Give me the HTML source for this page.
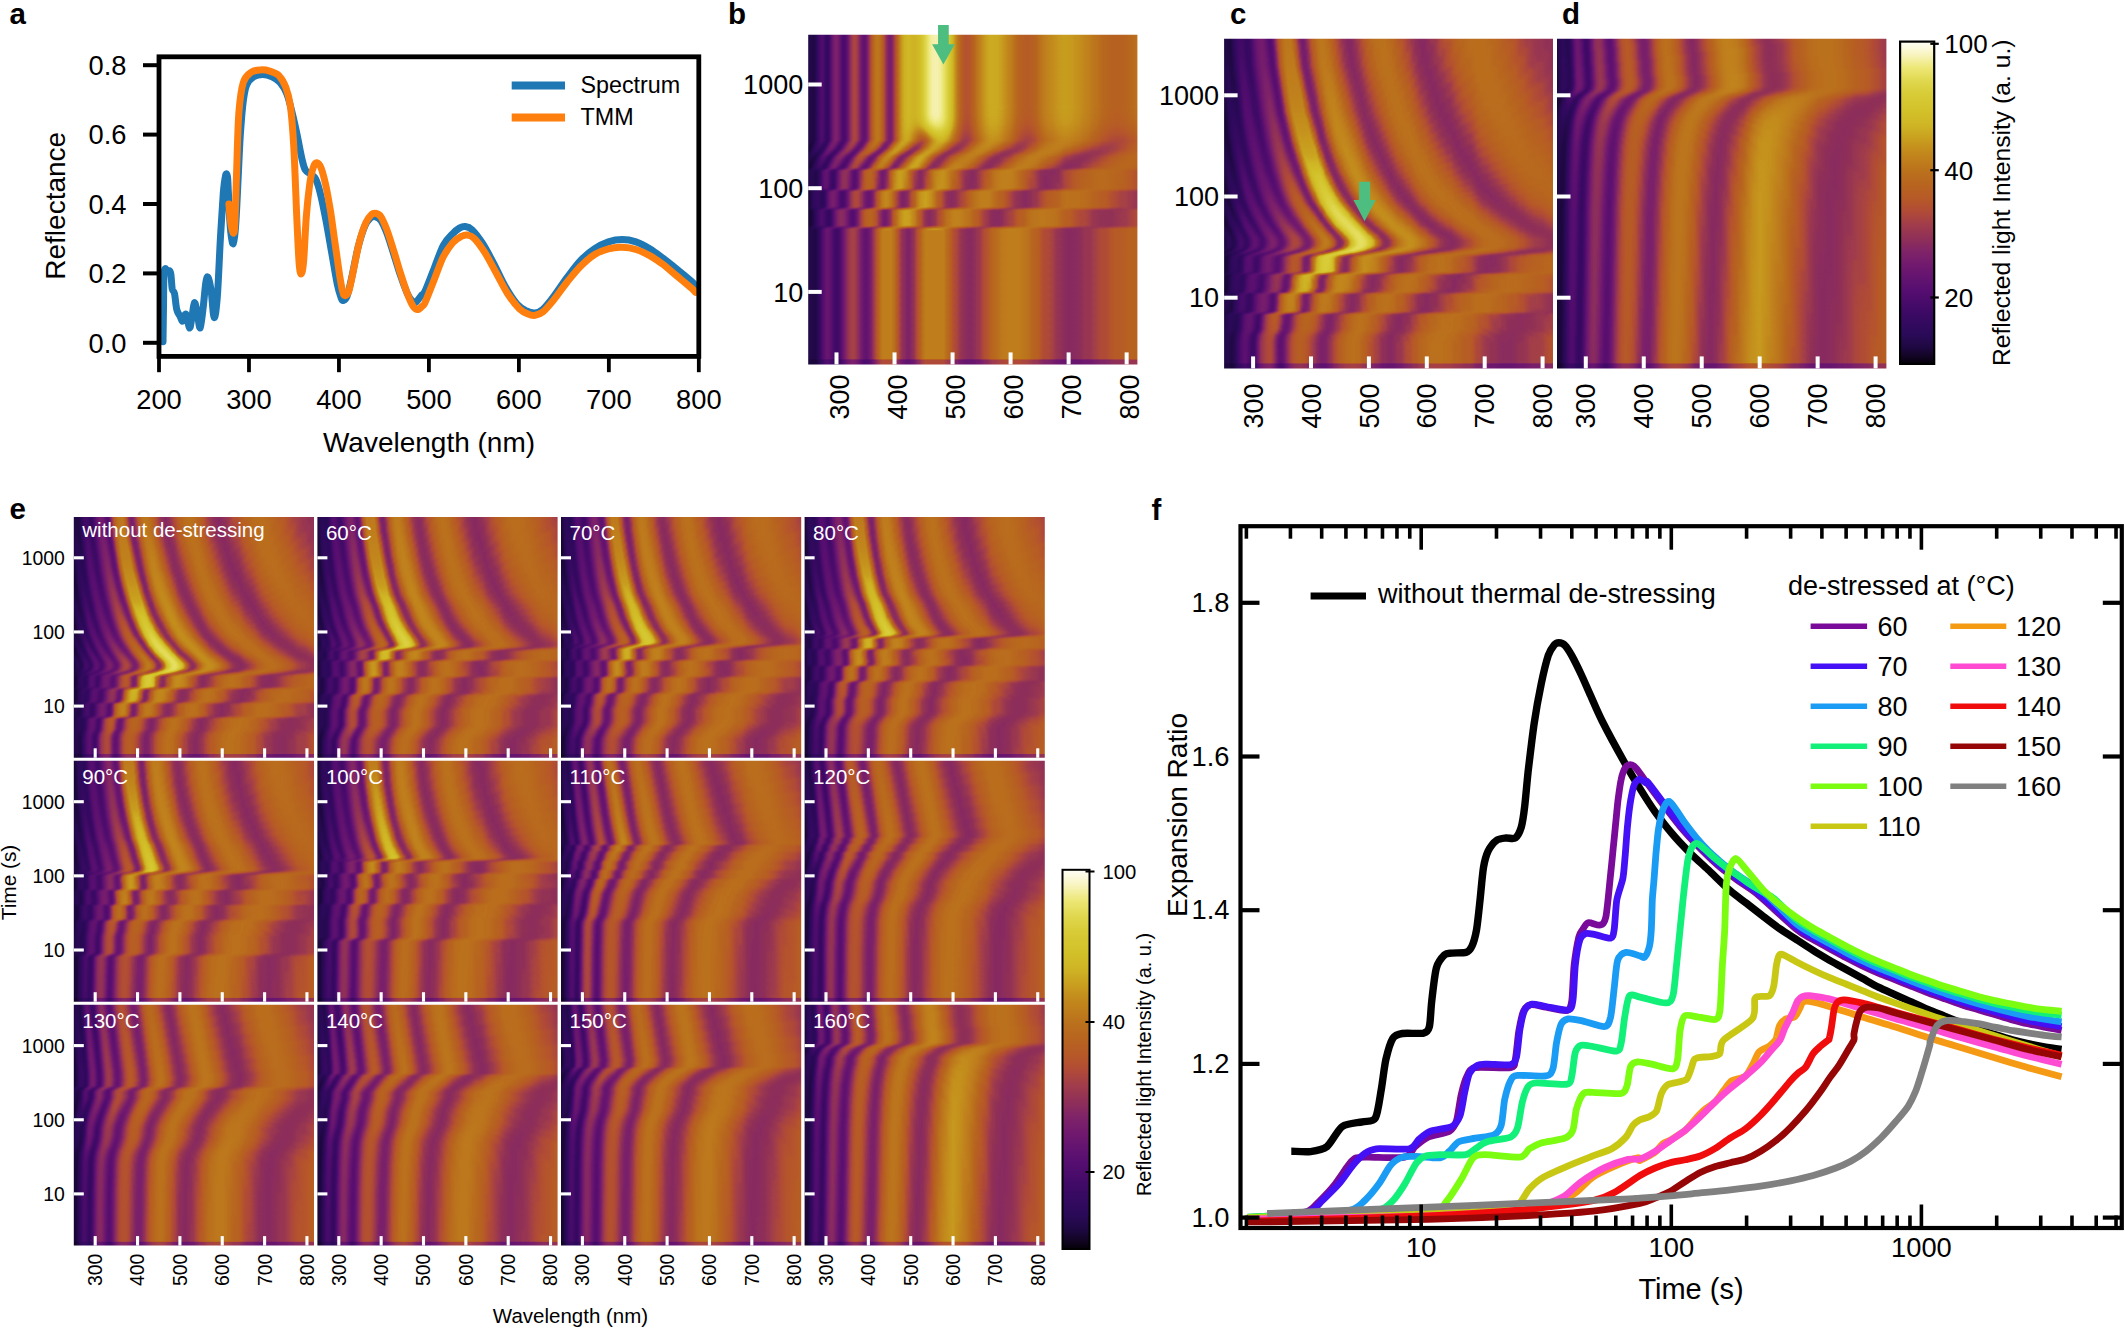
<!DOCTYPE html><html><head><meta charset="utf-8"><title>Figure</title><style>html,body{margin:0;padding:0;background:#fff}svg{display:block}</style></head><body><svg width="2125" height="1330" viewBox="0 0 2125 1330" font-family='"Liberation Sans", Arial, Helvetica, sans-serif'><defs><filter id="cmap" color-interpolation-filters="sRGB" x="0" y="0" width="1" height="1"><feComponentTransfer><feFuncR type="table" tableValues="0.016 0.057 0.085 0.112 0.132 0.151 0.168 0.184 0.199 0.216 0.235 0.254 0.278 0.302 0.323 0.343 0.365 0.386 0.408 0.429 0.45 0.472 0.493 0.517 0.541 0.566 0.59 0.615 0.639 0.664 0.688 0.699 0.708 0.715 0.717 0.719 0.722 0.727 0.732 0.739 0.747 0.754 0.762 0.771 0.78 0.79 0.799 0.808 0.815 0.819 0.824 0.83 0.836 0.842 0.85 0.862 0.875 0.892 0.912 0.931 0.948 0.965 0.979 0.989 1"/><feFuncG type="table" tableValues="0.004 0.014 0.022 0.03 0.034 0.037 0.039 0.039 0.039 0.039 0.039 0.04 0.044 0.048 0.052 0.057 0.067 0.076 0.085 0.094 0.104 0.12 0.135 0.152 0.171 0.189 0.207 0.226 0.246 0.267 0.288 0.31 0.331 0.351 0.368 0.384 0.401 0.421 0.442 0.462 0.483 0.508 0.532 0.564 0.599 0.634 0.666 0.698 0.721 0.737 0.754 0.766 0.778 0.791 0.804 0.823 0.841 0.864 0.888 0.912 0.93 0.949 0.966 0.983 1"/><feFuncB type="table" tableValues="0.031 0.113 0.177 0.239 0.28 0.317 0.348 0.36 0.373 0.383 0.392 0.401 0.414 0.425 0.433 0.439 0.439 0.439 0.437 0.434 0.43 0.421 0.412 0.393 0.369 0.344 0.326 0.308 0.283 0.253 0.222 0.197 0.173 0.153 0.142 0.132 0.121 0.116 0.111 0.11 0.11 0.11 0.11 0.113 0.118 0.123 0.133 0.142 0.148 0.153 0.158 0.175 0.191 0.207 0.228 0.265 0.302 0.355 0.417 0.484 0.594 0.704 0.801 0.887 0.973"/></feComponentTransfer></filter><filter id="bl9" x="-0.5" y="-0.3" width="2" height="1.6"><feGaussianBlur stdDeviation="9"/></filter><filter id="bl14" x="-0.3" y="-0.3" width="1.6" height="1.6"><feGaussianBlur stdDeviation="14"/></filter><linearGradient id="gxb" gradientUnits="userSpaceOnUse" x1="808.2" x2="1137.4" y1="0" y2="0"><stop offset="0" stop-color="#000000"/><stop offset="0.0313" stop-color="#111111"/><stop offset="0.0625" stop-color="#202020"/><stop offset="0.0937" stop-color="#2d2d2d"/><stop offset="0.125" stop-color="#383838"/><stop offset="0.1562" stop-color="#434343"/><stop offset="0.1875" stop-color="#4c4c4c"/><stop offset="0.2188" stop-color="#545454"/><stop offset="0.25" stop-color="#5c5c5c"/><stop offset="0.2812" stop-color="#636363"/><stop offset="0.3125" stop-color="#696969"/><stop offset="0.3438" stop-color="#6f6f6f"/><stop offset="0.375" stop-color="#757575"/><stop offset="0.4062" stop-color="#7a7a7a"/><stop offset="0.4375" stop-color="#7f7f7f"/><stop offset="0.4687" stop-color="#838383"/><stop offset="0.5" stop-color="#878787"/><stop offset="0.5313" stop-color="#8b8b8b"/><stop offset="0.5625" stop-color="#8f8f8f"/><stop offset="0.5938" stop-color="#929292"/><stop offset="0.625" stop-color="#959595"/><stop offset="0.6563" stop-color="#989898"/><stop offset="0.6875" stop-color="#9b9b9b"/><stop offset="0.7187" stop-color="#9e9e9e"/><stop offset="0.75" stop-color="#a0a0a0"/><stop offset="0.7812" stop-color="#a3a3a3"/><stop offset="0.8125" stop-color="#a5a5a5"/><stop offset="0.8438" stop-color="#a7a7a7"/><stop offset="0.875" stop-color="#a9a9a9"/><stop offset="0.9063" stop-color="#ababab"/><stop offset="0.9375" stop-color="#adadad"/><stop offset="0.9688" stop-color="#afafaf"/><stop offset="1" stop-color="#b1b1b1"/></linearGradient><linearGradient id="gyb" gradientUnits="userSpaceOnUse" x1="0" x2="0" y1="34.8" y2="364.4"><stop offset="0" stop-color="#fff" stop-opacity="0.002"/><stop offset="0.3208" stop-color="#fff" stop-opacity="0.0022"/><stop offset="0.3459" stop-color="#fff" stop-opacity="0.031"/><stop offset="0.3709" stop-color="#fff" stop-opacity="0.0778"/><stop offset="0.405" stop-color="#fff" stop-opacity="0.1111"/><stop offset="0.4058" stop-color="#fff" stop-opacity="0.1131"/><stop offset="0.4103" stop-color="#fff" stop-opacity="0.152"/><stop offset="0.468" stop-color="#fff" stop-opacity="0.1554"/><stop offset="0.4688" stop-color="#fff" stop-opacity="0.1575"/><stop offset="0.4733" stop-color="#fff" stop-opacity="0.2059"/><stop offset="0.5249" stop-color="#fff" stop-opacity="0.2059"/><stop offset="0.5256" stop-color="#fff" stop-opacity="0.2116"/><stop offset="0.5294" stop-color="#fff" stop-opacity="0.2603"/><stop offset="0.5302" stop-color="#fff" stop-opacity="0.2665"/><stop offset="0.5818" stop-color="#fff" stop-opacity="0.2665"/><stop offset="0.5863" stop-color="#fff" stop-opacity="0.3241"/><stop offset="0.5871" stop-color="#fff" stop-opacity="0.327"/><stop offset="0.9997" stop-color="#fff" stop-opacity="0.327"/></linearGradient><filter id="frb" color-interpolation-filters="sRGB" x="0" y="0" width="1" height="1"><feComponentTransfer><feFuncR type="table" tableValues="0.997 0.967 0.904 0.81 0.688 0.545 0.389 0.236 0.107 0.022 0.001 0.048 0.152 0.293 0.449 0.602 0.738 0.849 0.932 0.982 1 0.984 0.935 0.854 0.744 0.609 0.457 0.301 0.159 0.052 0.002 0.02 0.101 0.229 0.381 0.537 0.681 0.804 0.9 0.965 0.996 0.995 0.96 0.893 0.795 0.67 0.524 0.368 0.217 0.092 0.016 0.004 0.059 0.17 0.314 0.47 0.621 0.754 0.862 0.94 0.987 1 0.979 0.926 0.841 0.727 0.589 0.436 0.281 0.142 0.042 0 0.027 0.116 0.249 0.402 0.557 0.699 0.819 0.91 0.971 0.998 0.992 0.953 0.881 0.78 0.651 0.503 0.347 0.198 0.079 0.01 0.007 0.071 0.188 0.335 0.491 0.64 0.77 0.875 0.949 0.99 0.999 0.974 0.916 0.827 0.71 0.569 0.415 0.26 0.125 0.032 0 0.036 0.132 0.269 0.424 0.578 0.717 0.833 0.92 0.976 0.999 0.989 0.945 0.869 0.764 0.632 0.482 0.326 0.18 0.066 0.006 0.012 0.084 0.206 0.356 0.512 0.659 0.786 0.886 0.956 0.994 0.998 0.968 0.906 0.813 0.692 0.549 0.394 0.241 0.11 0.024 0.001 0.046 0.149 0.289 0.445 0.597 0.734 0.847 0.93 0.981 1 0.985 0.937 0.857 0.747 0.613 0.461 0.305 0.162 0.054 0.003 0.018 0.098 0.225 0.377 0.533 0.678 0.801 0.898 0.963 0.996 0.996 0.962 0.895 0.798 0.674 0.528 0.372 0.221 0.095 0.017 0.003 0.057 0.166 0.31 0.466 0.617 0.751 0.86 0.939 0.986 1 0.98 0.928 0.844 0.731 0.593 0.44 0.285 0.145 0.044 0.001 0.026 0.113 0.245 0.398 0.553 0.696 0.816 0.908 0.969 0.998 0.993 0.955 0.884 0.783 0.655 0.508 0.351 0.202 0.081 0.011 0.006 0.069 0.184 0.33 0.487 0.636 0.767 0.872 0.947 0.99 0.999 0.975 0.918 0.83 0.713 0.573 0.419 0.265 0.129 0.034 0"/><feFuncG type="table" tableValues="0.997 0.967 0.904 0.81 0.688 0.545 0.389 0.236 0.107 0.022 0.001 0.048 0.152 0.293 0.449 0.602 0.738 0.849 0.932 0.982 1 0.984 0.935 0.854 0.744 0.609 0.457 0.301 0.159 0.052 0.002 0.02 0.101 0.229 0.381 0.537 0.681 0.804 0.9 0.965 0.996 0.995 0.96 0.893 0.795 0.67 0.524 0.368 0.217 0.092 0.016 0.004 0.059 0.17 0.314 0.47 0.621 0.754 0.862 0.94 0.987 1 0.979 0.926 0.841 0.727 0.589 0.436 0.281 0.142 0.042 0 0.027 0.116 0.249 0.402 0.557 0.699 0.819 0.91 0.971 0.998 0.992 0.953 0.881 0.78 0.651 0.503 0.347 0.198 0.079 0.01 0.007 0.071 0.188 0.335 0.491 0.64 0.77 0.875 0.949 0.99 0.999 0.974 0.916 0.827 0.71 0.569 0.415 0.26 0.125 0.032 0 0.036 0.132 0.269 0.424 0.578 0.717 0.833 0.92 0.976 0.999 0.989 0.945 0.869 0.764 0.632 0.482 0.326 0.18 0.066 0.006 0.012 0.084 0.206 0.356 0.512 0.659 0.786 0.886 0.956 0.994 0.998 0.968 0.906 0.813 0.692 0.549 0.394 0.241 0.11 0.024 0.001 0.046 0.149 0.289 0.445 0.597 0.734 0.847 0.93 0.981 1 0.985 0.937 0.857 0.747 0.613 0.461 0.305 0.162 0.054 0.003 0.018 0.098 0.225 0.377 0.533 0.678 0.801 0.898 0.963 0.996 0.996 0.962 0.895 0.798 0.674 0.528 0.372 0.221 0.095 0.017 0.003 0.057 0.166 0.31 0.466 0.617 0.751 0.86 0.939 0.986 1 0.98 0.928 0.844 0.731 0.593 0.44 0.285 0.145 0.044 0.001 0.026 0.113 0.245 0.398 0.553 0.696 0.816 0.908 0.969 0.998 0.993 0.955 0.884 0.783 0.655 0.508 0.351 0.202 0.081 0.011 0.006 0.069 0.184 0.33 0.487 0.636 0.767 0.872 0.947 0.99 0.999 0.975 0.918 0.83 0.713 0.573 0.419 0.265 0.129 0.034 0"/><feFuncB type="table" tableValues="0.997 0.967 0.904 0.81 0.688 0.545 0.389 0.236 0.107 0.022 0.001 0.048 0.152 0.293 0.449 0.602 0.738 0.849 0.932 0.982 1 0.984 0.935 0.854 0.744 0.609 0.457 0.301 0.159 0.052 0.002 0.02 0.101 0.229 0.381 0.537 0.681 0.804 0.9 0.965 0.996 0.995 0.96 0.893 0.795 0.67 0.524 0.368 0.217 0.092 0.016 0.004 0.059 0.17 0.314 0.47 0.621 0.754 0.862 0.94 0.987 1 0.979 0.926 0.841 0.727 0.589 0.436 0.281 0.142 0.042 0 0.027 0.116 0.249 0.402 0.557 0.699 0.819 0.91 0.971 0.998 0.992 0.953 0.881 0.78 0.651 0.503 0.347 0.198 0.079 0.01 0.007 0.071 0.188 0.335 0.491 0.64 0.77 0.875 0.949 0.99 0.999 0.974 0.916 0.827 0.71 0.569 0.415 0.26 0.125 0.032 0 0.036 0.132 0.269 0.424 0.578 0.717 0.833 0.92 0.976 0.999 0.989 0.945 0.869 0.764 0.632 0.482 0.326 0.18 0.066 0.006 0.012 0.084 0.206 0.356 0.512 0.659 0.786 0.886 0.956 0.994 0.998 0.968 0.906 0.813 0.692 0.549 0.394 0.241 0.11 0.024 0.001 0.046 0.149 0.289 0.445 0.597 0.734 0.847 0.93 0.981 1 0.985 0.937 0.857 0.747 0.613 0.461 0.305 0.162 0.054 0.003 0.018 0.098 0.225 0.377 0.533 0.678 0.801 0.898 0.963 0.996 0.996 0.962 0.895 0.798 0.674 0.528 0.372 0.221 0.095 0.017 0.003 0.057 0.166 0.31 0.466 0.617 0.751 0.86 0.939 0.986 1 0.98 0.928 0.844 0.731 0.593 0.44 0.285 0.145 0.044 0.001 0.026 0.113 0.245 0.398 0.553 0.696 0.816 0.908 0.969 0.998 0.993 0.955 0.884 0.783 0.655 0.508 0.351 0.202 0.081 0.011 0.006 0.069 0.184 0.33 0.487 0.636 0.767 0.872 0.947 0.99 0.999 0.975 0.918 0.83 0.713 0.573 0.419 0.265 0.129 0.034 0"/></feComponentTransfer><feGaussianBlur stdDeviation="1.3"/></filter><linearGradient id="eab" gradientUnits="userSpaceOnUse" x1="808.2" x2="1137.4" y1="0" y2="0"><stop offset="-0.011" stop-color="#000" stop-opacity="0.969"/><stop offset="0.0243" stop-color="#000" stop-opacity="0.915"/><stop offset="0.0595" stop-color="#000" stop-opacity="0.795"/><stop offset="0.1212" stop-color="#000" stop-opacity="0.725"/><stop offset="0.1653" stop-color="#000" stop-opacity="0.64"/><stop offset="0.2094" stop-color="#000" stop-opacity="0.539"/><stop offset="0.2622" stop-color="#000" stop-opacity="0.444"/><stop offset="0.3328" stop-color="#000" stop-opacity="0.438"/><stop offset="0.4033" stop-color="#000" stop-opacity="0.508"/><stop offset="0.4738" stop-color="#000" stop-opacity="0.587"/><stop offset="0.6148" stop-color="#000" stop-opacity="0.571"/><stop offset="0.7911" stop-color="#000" stop-opacity="0.635"/><stop offset="1.0026" stop-color="#000" stop-opacity="0.746"/></linearGradient><linearGradient id="ebb" gradientUnits="userSpaceOnUse" x1="808.2" x2="1137.4" y1="0" y2="0"><stop offset="-0.011" stop-color="#fff" stop-opacity="0.03"/><stop offset="0.0243" stop-color="#fff" stop-opacity="0.06"/><stop offset="0.0595" stop-color="#fff" stop-opacity="0.12"/><stop offset="0.1212" stop-color="#fff" stop-opacity="0.2"/><stop offset="0.1653" stop-color="#fff" stop-opacity="0.25"/><stop offset="0.2094" stop-color="#fff" stop-opacity="0.295"/><stop offset="0.2622" stop-color="#fff" stop-opacity="0.325"/><stop offset="0.3328" stop-color="#fff" stop-opacity="0.36"/><stop offset="0.4033" stop-color="#fff" stop-opacity="0.37"/><stop offset="0.4738" stop-color="#fff" stop-opacity="0.37"/><stop offset="0.6148" stop-color="#fff" stop-opacity="0.37"/><stop offset="0.7911" stop-color="#fff" stop-opacity="0.37"/><stop offset="1.0026" stop-color="#fff" stop-opacity="0.41"/></linearGradient><clipPath id="clb"><rect x="808.2" y="34.8" width="329.2" height="329.6"/></clipPath><linearGradient id="tcb" gradientUnits="userSpaceOnUse" x1="0" x2="0" y1="34.8" y2="364.4"><stop offset="0" stop-color="#ffffff"/><stop offset="0.5776" stop-color="#ffffff"/><stop offset="0.5941" stop-color="#a1a1a1"/><stop offset="0.9999" stop-color="#a1a1a1"/></linearGradient><linearGradient id="gxc" gradientUnits="userSpaceOnUse" x1="1224.1" x2="1553" y1="0" y2="0"><stop offset="0" stop-color="#000000"/><stop offset="0.0313" stop-color="#131313"/><stop offset="0.0625" stop-color="#242424"/><stop offset="0.0937" stop-color="#323232"/><stop offset="0.125" stop-color="#3f3f3f"/><stop offset="0.1562" stop-color="#4a4a4a"/><stop offset="0.1875" stop-color="#545454"/><stop offset="0.2188" stop-color="#5c5c5c"/><stop offset="0.25" stop-color="#646464"/><stop offset="0.2812" stop-color="#6b6b6b"/><stop offset="0.3125" stop-color="#727272"/><stop offset="0.3438" stop-color="#787878"/><stop offset="0.375" stop-color="#7d7d7d"/><stop offset="0.4062" stop-color="#828282"/><stop offset="0.4375" stop-color="#878787"/><stop offset="0.4687" stop-color="#8b8b8b"/><stop offset="0.5" stop-color="#8f8f8f"/><stop offset="0.5313" stop-color="#939393"/><stop offset="0.5625" stop-color="#969696"/><stop offset="0.5938" stop-color="#9a9a9a"/><stop offset="0.625" stop-color="#9d9d9d"/><stop offset="0.6562" stop-color="#a0a0a0"/><stop offset="0.6875" stop-color="#a2a2a2"/><stop offset="0.7188" stop-color="#a5a5a5"/><stop offset="0.75" stop-color="#a7a7a7"/><stop offset="0.7812" stop-color="#aaaaaa"/><stop offset="0.8125" stop-color="#acacac"/><stop offset="0.8438" stop-color="#aeaeae"/><stop offset="0.875" stop-color="#b0b0b0"/><stop offset="0.9063" stop-color="#b2b2b2"/><stop offset="0.9375" stop-color="#b4b4b4"/><stop offset="0.9687" stop-color="#b5b5b5"/><stop offset="1" stop-color="#b7b7b7"/></linearGradient><linearGradient id="gyc" gradientUnits="userSpaceOnUse" x1="0" x2="0" y1="38.75" y2="368.4"><stop offset="0" stop-color="#fff" stop-opacity="0.286"/><stop offset="0.0819" stop-color="#fff" stop-opacity="0.2756"/><stop offset="0.2237" stop-color="#fff" stop-opacity="0.2427"/><stop offset="0.3056" stop-color="#fff" stop-opacity="0.2165"/><stop offset="0.3458" stop-color="#fff" stop-opacity="0.2016"/><stop offset="0.4065" stop-color="#fff" stop-opacity="0.1751"/><stop offset="0.4558" stop-color="#fff" stop-opacity="0.1486"/><stop offset="0.4983" stop-color="#fff" stop-opacity="0.1203"/><stop offset="0.5362" stop-color="#fff" stop-opacity="0.0854"/><stop offset="0.5627" stop-color="#fff" stop-opacity="0.0575"/><stop offset="0.6006" stop-color="#fff" stop-opacity="0.0111"/><stop offset="0.609" stop-color="#fff" stop-opacity="0.004"/><stop offset="0.6166" stop-color="#fff" stop-opacity="0.002"/><stop offset="0.6295" stop-color="#fff" stop-opacity="0.0035"/><stop offset="0.6355" stop-color="#fff" stop-opacity="0.0131"/><stop offset="0.6408" stop-color="#fff" stop-opacity="0.03"/><stop offset="0.6469" stop-color="#fff" stop-opacity="0.057"/><stop offset="0.6522" stop-color="#fff" stop-opacity="0.0902"/><stop offset="0.6552" stop-color="#fff" stop-opacity="0.114"/><stop offset="0.659" stop-color="#fff" stop-opacity="0.1316"/><stop offset="0.6643" stop-color="#fff" stop-opacity="0.1384"/><stop offset="0.7061" stop-color="#fff" stop-opacity="0.1409"/><stop offset="0.7091" stop-color="#fff" stop-opacity="0.1477"/><stop offset="0.7106" stop-color="#fff" stop-opacity="0.1567"/><stop offset="0.7114" stop-color="#fff" stop-opacity="0.1651"/><stop offset="0.7136" stop-color="#fff" stop-opacity="0.1994"/><stop offset="0.7159" stop-color="#fff" stop-opacity="0.2144"/><stop offset="0.7243" stop-color="#fff" stop-opacity="0.2146"/><stop offset="0.7311" stop-color="#fff" stop-opacity="0.2183"/><stop offset="0.7561" stop-color="#fff" stop-opacity="0.2198"/><stop offset="0.7667" stop-color="#fff" stop-opacity="0.2287"/><stop offset="0.7698" stop-color="#fff" stop-opacity="0.2287"/><stop offset="0.7705" stop-color="#fff" stop-opacity="0.2353"/><stop offset="0.772" stop-color="#fff" stop-opacity="0.2542"/><stop offset="0.7728" stop-color="#fff" stop-opacity="0.2683"/><stop offset="0.7735" stop-color="#fff" stop-opacity="0.2703"/><stop offset="0.7826" stop-color="#fff" stop-opacity="0.2746"/><stop offset="0.8084" stop-color="#fff" stop-opacity="0.275"/><stop offset="0.8282" stop-color="#fff" stop-opacity="0.2784"/><stop offset="0.8312" stop-color="#fff" stop-opacity="0.2943"/><stop offset="0.8335" stop-color="#fff" stop-opacity="0.3182"/><stop offset="0.835" stop-color="#fff" stop-opacity="0.3306"/><stop offset="0.8357" stop-color="#fff" stop-opacity="0.3342"/><stop offset="0.882" stop-color="#fff" stop-opacity="0.3399"/><stop offset="0.901" stop-color="#fff" stop-opacity="0.3538"/><stop offset="0.9214" stop-color="#fff" stop-opacity="0.3575"/><stop offset="1" stop-color="#fff" stop-opacity="0.3572"/></linearGradient><filter id="frc" color-interpolation-filters="sRGB" x="0" y="0" width="1" height="1"><feComponentTransfer><feFuncR type="table" tableValues="0.037 0.086 0.145 0.206 0.261 0.307 0.342 0.366 0.378 0.379 0.369 0.347 0.314 0.269 0.216 0.156 0.096 0.044 0.01 0 0.018 0.058 0.113 0.174 0.232 0.283 0.324 0.354 0.373 0.38 0.376 0.36 0.333 0.294 0.245 0.188 0.128 0.07 0.026 0.002 0.005 0.034 0.082 0.141 0.202 0.257 0.304 0.34 0.364 0.377 0.379 0.37 0.349 0.316 0.273 0.22 0.16 0.1 0.047 0.012 0 0.016 0.055 0.109 0.17 0.228 0.28 0.322 0.353 0.372 0.38 0.376 0.361 0.335 0.297 0.249 0.193 0.132 0.074 0.028 0.003 0.004 0.031 0.079 0.137 0.198 0.253 0.301 0.338 0.363 0.377 0.38 0.371 0.351 0.32 0.277 0.225 0.166 0.105 0.051 0.014 0 0.014 0.054 0.111 0.178 0.246 0.31 0.366 0.414 0.452 0.48 0.497 0.502 0.493 0.468 0.423 0.356 0.267 0.165 0.07 0.009 0.008 0.078 0.212 0.381 0.546 0.678 0.771 0.83 0.865 0.881 0.885 0.876 0.853 0.809 0.738 0.629 0.48 0.309 0.15 0.04 0 0.028 0.106 0.207 0.306 0.386 0.444 0.481 0.499 0.501 0.491 0.47 0.438 0.396 0.344 0.284 0.218 0.15 0.086 0.035 0.005 0.002 0.027 0.072 0.13 0.19 0.247 0.296 0.334 0.361 0.376 0.38 0.373 0.354 0.324 0.283 0.231 0.173 0.112 0.057 0.017 0 0.01 0.045 0.097 0.157 0.217 0.27 0.314 0.347 0.369 0.379 0.378 0.365 0.341 0.306 0.26 0.205 0.144 0.085 0.036 0.006 0.002 0.024 0.068 0.125 0.185 0.243 0.292 0.331 0.359 0.375 0.38 0.373 0.356 0.326 0.286 0.235 0.177 0.116 0.061 0.019 0.001 0.009 0.042 0.093 0.153 0.213 0.267 0.311 0.345 0.368 0.379 0.378 0.367 0.343 0.309 0.263 0.209 0.149 0.089 0.039 0.007 0.001 0.021 0.064 0.12 0.181 0.239 0.289 0.329 0.357 0.374 0.38"/><feFuncG type="table" tableValues="0.037 0.086 0.145 0.206 0.261 0.307 0.342 0.366 0.378 0.379 0.369 0.347 0.314 0.269 0.216 0.156 0.096 0.044 0.01 0 0.018 0.058 0.113 0.174 0.232 0.283 0.324 0.354 0.373 0.38 0.376 0.36 0.333 0.294 0.245 0.188 0.128 0.07 0.026 0.002 0.005 0.034 0.082 0.141 0.202 0.257 0.304 0.34 0.364 0.377 0.379 0.37 0.349 0.316 0.273 0.22 0.16 0.1 0.047 0.012 0 0.016 0.055 0.109 0.17 0.228 0.28 0.322 0.353 0.372 0.38 0.376 0.361 0.335 0.297 0.249 0.193 0.132 0.074 0.028 0.003 0.004 0.031 0.079 0.137 0.198 0.253 0.301 0.338 0.363 0.377 0.38 0.371 0.351 0.32 0.277 0.225 0.166 0.105 0.051 0.014 0 0.014 0.054 0.111 0.178 0.246 0.31 0.366 0.414 0.452 0.48 0.497 0.502 0.493 0.468 0.423 0.356 0.267 0.165 0.07 0.009 0.008 0.078 0.212 0.381 0.546 0.678 0.771 0.83 0.865 0.881 0.885 0.876 0.853 0.809 0.738 0.629 0.48 0.309 0.15 0.04 0 0.028 0.106 0.207 0.306 0.386 0.444 0.481 0.499 0.501 0.491 0.47 0.438 0.396 0.344 0.284 0.218 0.15 0.086 0.035 0.005 0.002 0.027 0.072 0.13 0.19 0.247 0.296 0.334 0.361 0.376 0.38 0.373 0.354 0.324 0.283 0.231 0.173 0.112 0.057 0.017 0 0.01 0.045 0.097 0.157 0.217 0.27 0.314 0.347 0.369 0.379 0.378 0.365 0.341 0.306 0.26 0.205 0.144 0.085 0.036 0.006 0.002 0.024 0.068 0.125 0.185 0.243 0.292 0.331 0.359 0.375 0.38 0.373 0.356 0.326 0.286 0.235 0.177 0.116 0.061 0.019 0.001 0.009 0.042 0.093 0.153 0.213 0.267 0.311 0.345 0.368 0.379 0.378 0.367 0.343 0.309 0.263 0.209 0.149 0.089 0.039 0.007 0.001 0.021 0.064 0.12 0.181 0.239 0.289 0.329 0.357 0.374 0.38"/><feFuncB type="table" tableValues="0.037 0.086 0.145 0.206 0.261 0.307 0.342 0.366 0.378 0.379 0.369 0.347 0.314 0.269 0.216 0.156 0.096 0.044 0.01 0 0.018 0.058 0.113 0.174 0.232 0.283 0.324 0.354 0.373 0.38 0.376 0.36 0.333 0.294 0.245 0.188 0.128 0.07 0.026 0.002 0.005 0.034 0.082 0.141 0.202 0.257 0.304 0.34 0.364 0.377 0.379 0.37 0.349 0.316 0.273 0.22 0.16 0.1 0.047 0.012 0 0.016 0.055 0.109 0.17 0.228 0.28 0.322 0.353 0.372 0.38 0.376 0.361 0.335 0.297 0.249 0.193 0.132 0.074 0.028 0.003 0.004 0.031 0.079 0.137 0.198 0.253 0.301 0.338 0.363 0.377 0.38 0.371 0.351 0.32 0.277 0.225 0.166 0.105 0.051 0.014 0 0.014 0.054 0.111 0.178 0.246 0.31 0.366 0.414 0.452 0.48 0.497 0.502 0.493 0.468 0.423 0.356 0.267 0.165 0.07 0.009 0.008 0.078 0.212 0.381 0.546 0.678 0.771 0.83 0.865 0.881 0.885 0.876 0.853 0.809 0.738 0.629 0.48 0.309 0.15 0.04 0 0.028 0.106 0.207 0.306 0.386 0.444 0.481 0.499 0.501 0.491 0.47 0.438 0.396 0.344 0.284 0.218 0.15 0.086 0.035 0.005 0.002 0.027 0.072 0.13 0.19 0.247 0.296 0.334 0.361 0.376 0.38 0.373 0.354 0.324 0.283 0.231 0.173 0.112 0.057 0.017 0 0.01 0.045 0.097 0.157 0.217 0.27 0.314 0.347 0.369 0.379 0.378 0.365 0.341 0.306 0.26 0.205 0.144 0.085 0.036 0.006 0.002 0.024 0.068 0.125 0.185 0.243 0.292 0.331 0.359 0.375 0.38 0.373 0.356 0.326 0.286 0.235 0.177 0.116 0.061 0.019 0.001 0.009 0.042 0.093 0.153 0.213 0.267 0.311 0.345 0.368 0.379 0.378 0.367 0.343 0.309 0.263 0.209 0.149 0.089 0.039 0.007 0.001 0.021 0.064 0.12 0.181 0.239 0.289 0.329 0.357 0.374 0.38"/></feComponentTransfer><feGaussianBlur stdDeviation="1.3"/></filter><linearGradient id="eac" gradientUnits="userSpaceOnUse" x1="1224.1" x2="1553" y1="0" y2="0"><stop offset="-0.0087" stop-color="#000" stop-opacity="0.919"/><stop offset="0.0266" stop-color="#000" stop-opacity="0.832"/><stop offset="0.0618" stop-color="#000" stop-opacity="0.701"/><stop offset="0.1234" stop-color="#000" stop-opacity="0.643"/><stop offset="0.1674" stop-color="#000" stop-opacity="0.515"/><stop offset="0.2114" stop-color="#000" stop-opacity="0.384"/><stop offset="0.2642" stop-color="#000" stop-opacity="0.24"/><stop offset="0.3346" stop-color="#000" stop-opacity="0.069"/><stop offset="0.405" stop-color="#000" stop-opacity="0.048"/><stop offset="0.4755" stop-color="#000" stop-opacity="0.048"/><stop offset="0.6163" stop-color="#000" stop-opacity="0.048"/><stop offset="0.7923" stop-color="#000" stop-opacity="0.081"/><stop offset="1.0036" stop-color="#000" stop-opacity="0.223"/></linearGradient><linearGradient id="ebc" gradientUnits="userSpaceOnUse" x1="1224.1" x2="1553" y1="0" y2="0"><stop offset="-0.0087" stop-color="#fff" stop-opacity="0.03"/><stop offset="0.0266" stop-color="#fff" stop-opacity="0.06"/><stop offset="0.0618" stop-color="#fff" stop-opacity="0.12"/><stop offset="0.1234" stop-color="#fff" stop-opacity="0.19"/><stop offset="0.1674" stop-color="#fff" stop-opacity="0.24"/><stop offset="0.2114" stop-color="#fff" stop-opacity="0.295"/><stop offset="0.2642" stop-color="#fff" stop-opacity="0.325"/><stop offset="0.3346" stop-color="#fff" stop-opacity="0.35"/><stop offset="0.405" stop-color="#fff" stop-opacity="0.37"/><stop offset="0.4755" stop-color="#fff" stop-opacity="0.37"/><stop offset="0.6163" stop-color="#fff" stop-opacity="0.37"/><stop offset="0.7923" stop-color="#fff" stop-opacity="0.37"/><stop offset="1.0036" stop-color="#fff" stop-opacity="0.39"/></linearGradient><clipPath id="clc"><rect x="1224.1" y="38.75" width="328.9" height="329.65"/></clipPath><linearGradient id="tcc" gradientUnits="userSpaceOnUse" x1="0" x2="0" y1="38.75" y2="368.4"><stop offset="0.0008" stop-color="#9c9c9c"/><stop offset="0.1715" stop-color="#a3a3a3"/><stop offset="0.264" stop-color="#ababab"/><stop offset="0.3564" stop-color="#b5b5b5"/><stop offset="0.4436" stop-color="#d6d6d6"/><stop offset="0.5261" stop-color="#ffffff"/><stop offset="0.6391" stop-color="#ffffff"/><stop offset="0.7506" stop-color="#f2f2f2"/><stop offset="0.7996" stop-color="#b8b8b8"/><stop offset="1" stop-color="#b2b2b2"/></linearGradient><linearGradient id="gxd" gradientUnits="userSpaceOnUse" x1="1557" x2="1886.4" y1="0" y2="0"><stop offset="0" stop-color="#000000"/><stop offset="0.0313" stop-color="#131313"/><stop offset="0.0625" stop-color="#242424"/><stop offset="0.0937" stop-color="#323232"/><stop offset="0.125" stop-color="#3f3f3f"/><stop offset="0.1562" stop-color="#4a4a4a"/><stop offset="0.1875" stop-color="#545454"/><stop offset="0.2188" stop-color="#5c5c5c"/><stop offset="0.25" stop-color="#646464"/><stop offset="0.2812" stop-color="#6b6b6b"/><stop offset="0.3125" stop-color="#727272"/><stop offset="0.3438" stop-color="#787878"/><stop offset="0.375" stop-color="#7d7d7d"/><stop offset="0.4062" stop-color="#828282"/><stop offset="0.4375" stop-color="#878787"/><stop offset="0.4687" stop-color="#8b8b8b"/><stop offset="0.5" stop-color="#8f8f8f"/><stop offset="0.5313" stop-color="#939393"/><stop offset="0.5625" stop-color="#969696"/><stop offset="0.5938" stop-color="#9a9a9a"/><stop offset="0.625" stop-color="#9d9d9d"/><stop offset="0.6562" stop-color="#a0a0a0"/><stop offset="0.6875" stop-color="#a2a2a2"/><stop offset="0.7188" stop-color="#a5a5a5"/><stop offset="0.75" stop-color="#a7a7a7"/><stop offset="0.7812" stop-color="#aaaaaa"/><stop offset="0.8125" stop-color="#acacac"/><stop offset="0.8438" stop-color="#aeaeae"/><stop offset="0.875" stop-color="#b0b0b0"/><stop offset="0.9063" stop-color="#b2b2b2"/><stop offset="0.9375" stop-color="#b3b3b3"/><stop offset="0.9687" stop-color="#b5b5b5"/><stop offset="1" stop-color="#b7b7b7"/></linearGradient><linearGradient id="gyd" gradientUnits="userSpaceOnUse" x1="0" x2="0" y1="38.75" y2="368.4"><stop offset="0" stop-color="#fff" stop-opacity="0.0176"/><stop offset="0.1221" stop-color="#fff" stop-opacity="0.0028"/><stop offset="0.138" stop-color="#fff" stop-opacity="0.002"/><stop offset="0.1486" stop-color="#fff" stop-opacity="0.0043"/><stop offset="0.1555" stop-color="#fff" stop-opacity="0.0113"/><stop offset="0.1608" stop-color="#fff" stop-opacity="0.0223"/><stop offset="0.1661" stop-color="#fff" stop-opacity="0.0386"/><stop offset="0.1782" stop-color="#fff" stop-opacity="0.0681"/><stop offset="0.1873" stop-color="#fff" stop-opacity="0.0826"/><stop offset="0.2207" stop-color="#fff" stop-opacity="0.1131"/><stop offset="0.2396" stop-color="#fff" stop-opacity="0.1264"/><stop offset="0.2586" stop-color="#fff" stop-opacity="0.1358"/><stop offset="0.3041" stop-color="#fff" stop-opacity="0.1492"/><stop offset="0.3322" stop-color="#fff" stop-opacity="0.1543"/><stop offset="0.4057" stop-color="#fff" stop-opacity="0.1628"/><stop offset="0.5172" stop-color="#fff" stop-opacity="0.1707"/><stop offset="1" stop-color="#fff" stop-opacity="0.1853"/></linearGradient><filter id="frd" color-interpolation-filters="sRGB" x="0" y="0" width="1" height="1"><feComponentTransfer><feFuncR type="table" tableValues="0.183 0.292 0.409 0.526 0.637 0.737 0.824 0.894 0.948 0.983 0.999 0.996 0.975 0.934 0.876 0.801 0.71 0.606 0.493 0.375 0.26 0.155 0.072 0.018 0 0.021 0.079 0.165 0.271 0.387 0.505 0.617 0.72 0.809 0.883 0.939 0.978 0.997 0.998 0.98 0.943 0.888 0.816 0.728 0.626 0.514 0.397 0.28 0.173 0.085 0.025 0 0.015 0.066 0.148 0.251 0.366 0.484 0.597 0.702 0.794 0.871 0.93 0.972 0.995 0.999 0.985 0.951 0.899 0.83 0.745 0.645 0.535 0.418 0.301 0.192 0.099 0.033 0.002 0.009 0.054 0.131 0.231 0.344 0.462 0.577 0.684 0.778 0.858 0.921 0.966 0.992 1 0.989 0.959 0.91 0.844 0.762 0.665 0.556 0.44 0.322 0.211 0.114 0.043 0.005 0.005 0.043 0.115 0.211 0.323 0.441 0.557 0.665 0.762 0.845 0.911 0.959 0.989 1 0.992 0.965 0.92 0.857 0.778 0.683 0.576 0.461 0.344 0.23 0.13 0.054 0.009 0.002 0.034 0.1 0.192 0.302 0.419 0.536 0.646 0.746 0.831 0.9 0.951 0.985 0.999 0.995 0.972 0.93 0.87 0.793 0.701 0.597 0.483 0.365 0.25 0.147 0.066 0.014 0 0.025 0.085 0.174 0.281 0.398 0.515 0.627 0.728 0.816 0.888 0.943 0.98 0.998 0.997 0.977 0.939 0.882 0.809 0.719 0.617 0.504 0.386 0.27 0.165 0.078 0.021 0 0.018 0.072 0.156 0.261 0.376 0.494 0.607 0.711 0.801 0.877 0.935 0.975 0.996 0.999 0.982 0.947 0.894 0.823 0.737 0.636 0.525 0.408 0.291 0.183 0.092 0.029 0.001 0.012 0.06 0.139 0.241 0.355 0.472 0.587 0.693 0.786 0.864 0.925 0.969 0.994 1 0.987 0.955 0.905 0.837 0.754 0.655 0.546 0.43 0.312 0.202 0.107 0.038 0.003 0.007 0.048 0.123 0.221 0.333 0.451 0.567 0.674 0.77 0.851 0.916 0.962 0.991 1"/><feFuncG type="table" tableValues="0.183 0.292 0.409 0.526 0.637 0.737 0.824 0.894 0.948 0.983 0.999 0.996 0.975 0.934 0.876 0.801 0.71 0.606 0.493 0.375 0.26 0.155 0.072 0.018 0 0.021 0.079 0.165 0.271 0.387 0.505 0.617 0.72 0.809 0.883 0.939 0.978 0.997 0.998 0.98 0.943 0.888 0.816 0.728 0.626 0.514 0.397 0.28 0.173 0.085 0.025 0 0.015 0.066 0.148 0.251 0.366 0.484 0.597 0.702 0.794 0.871 0.93 0.972 0.995 0.999 0.985 0.951 0.899 0.83 0.745 0.645 0.535 0.418 0.301 0.192 0.099 0.033 0.002 0.009 0.054 0.131 0.231 0.344 0.462 0.577 0.684 0.778 0.858 0.921 0.966 0.992 1 0.989 0.959 0.91 0.844 0.762 0.665 0.556 0.44 0.322 0.211 0.114 0.043 0.005 0.005 0.043 0.115 0.211 0.323 0.441 0.557 0.665 0.762 0.845 0.911 0.959 0.989 1 0.992 0.965 0.92 0.857 0.778 0.683 0.576 0.461 0.344 0.23 0.13 0.054 0.009 0.002 0.034 0.1 0.192 0.302 0.419 0.536 0.646 0.746 0.831 0.9 0.951 0.985 0.999 0.995 0.972 0.93 0.87 0.793 0.701 0.597 0.483 0.365 0.25 0.147 0.066 0.014 0 0.025 0.085 0.174 0.281 0.398 0.515 0.627 0.728 0.816 0.888 0.943 0.98 0.998 0.997 0.977 0.939 0.882 0.809 0.719 0.617 0.504 0.386 0.27 0.165 0.078 0.021 0 0.018 0.072 0.156 0.261 0.376 0.494 0.607 0.711 0.801 0.877 0.935 0.975 0.996 0.999 0.982 0.947 0.894 0.823 0.737 0.636 0.525 0.408 0.291 0.183 0.092 0.029 0.001 0.012 0.06 0.139 0.241 0.355 0.472 0.587 0.693 0.786 0.864 0.925 0.969 0.994 1 0.987 0.955 0.905 0.837 0.754 0.655 0.546 0.43 0.312 0.202 0.107 0.038 0.003 0.007 0.048 0.123 0.221 0.333 0.451 0.567 0.674 0.77 0.851 0.916 0.962 0.991 1"/><feFuncB type="table" tableValues="0.183 0.292 0.409 0.526 0.637 0.737 0.824 0.894 0.948 0.983 0.999 0.996 0.975 0.934 0.876 0.801 0.71 0.606 0.493 0.375 0.26 0.155 0.072 0.018 0 0.021 0.079 0.165 0.271 0.387 0.505 0.617 0.72 0.809 0.883 0.939 0.978 0.997 0.998 0.98 0.943 0.888 0.816 0.728 0.626 0.514 0.397 0.28 0.173 0.085 0.025 0 0.015 0.066 0.148 0.251 0.366 0.484 0.597 0.702 0.794 0.871 0.93 0.972 0.995 0.999 0.985 0.951 0.899 0.83 0.745 0.645 0.535 0.418 0.301 0.192 0.099 0.033 0.002 0.009 0.054 0.131 0.231 0.344 0.462 0.577 0.684 0.778 0.858 0.921 0.966 0.992 1 0.989 0.959 0.91 0.844 0.762 0.665 0.556 0.44 0.322 0.211 0.114 0.043 0.005 0.005 0.043 0.115 0.211 0.323 0.441 0.557 0.665 0.762 0.845 0.911 0.959 0.989 1 0.992 0.965 0.92 0.857 0.778 0.683 0.576 0.461 0.344 0.23 0.13 0.054 0.009 0.002 0.034 0.1 0.192 0.302 0.419 0.536 0.646 0.746 0.831 0.9 0.951 0.985 0.999 0.995 0.972 0.93 0.87 0.793 0.701 0.597 0.483 0.365 0.25 0.147 0.066 0.014 0 0.025 0.085 0.174 0.281 0.398 0.515 0.627 0.728 0.816 0.888 0.943 0.98 0.998 0.997 0.977 0.939 0.882 0.809 0.719 0.617 0.504 0.386 0.27 0.165 0.078 0.021 0 0.018 0.072 0.156 0.261 0.376 0.494 0.607 0.711 0.801 0.877 0.935 0.975 0.996 0.999 0.982 0.947 0.894 0.823 0.737 0.636 0.525 0.408 0.291 0.183 0.092 0.029 0.001 0.012 0.06 0.139 0.241 0.355 0.472 0.587 0.693 0.786 0.864 0.925 0.969 0.994 1 0.987 0.955 0.905 0.837 0.754 0.655 0.546 0.43 0.312 0.202 0.107 0.038 0.003 0.007 0.048 0.123 0.221 0.333 0.451 0.567 0.674 0.77 0.851 0.916 0.962 0.991 1"/></feComponentTransfer><feGaussianBlur stdDeviation="1.3"/></filter><linearGradient id="ead" gradientUnits="userSpaceOnUse" x1="1557" x2="1886.4" y1="0" y2="0"><stop offset="-0.0093" stop-color="#000" stop-opacity="0.969"/><stop offset="0.0258" stop-color="#000" stop-opacity="0.915"/><stop offset="0.061" stop-color="#000" stop-opacity="0.795"/><stop offset="0.1226" stop-color="#000" stop-opacity="0.75"/><stop offset="0.1666" stop-color="#000" stop-opacity="0.707"/><stop offset="0.2106" stop-color="#000" stop-opacity="0.681"/><stop offset="0.2634" stop-color="#000" stop-opacity="0.652"/><stop offset="0.3637" stop-color="#000" stop-opacity="0.609"/><stop offset="0.4745" stop-color="#000" stop-opacity="0.603"/><stop offset="0.6153" stop-color="#000" stop-opacity="0.508"/><stop offset="0.7913" stop-color="#000" stop-opacity="0.635"/><stop offset="1.0024" stop-color="#000" stop-opacity="0.689"/></linearGradient><linearGradient id="ebd" gradientUnits="userSpaceOnUse" x1="1557" x2="1886.4" y1="0" y2="0"><stop offset="-0.0093" stop-color="#fff" stop-opacity="0.03"/><stop offset="0.0258" stop-color="#fff" stop-opacity="0.06"/><stop offset="0.061" stop-color="#fff" stop-opacity="0.12"/><stop offset="0.1226" stop-color="#fff" stop-opacity="0.2"/><stop offset="0.1666" stop-color="#fff" stop-opacity="0.25"/><stop offset="0.2106" stop-color="#fff" stop-opacity="0.295"/><stop offset="0.2634" stop-color="#fff" stop-opacity="0.325"/><stop offset="0.3637" stop-color="#fff" stop-opacity="0.36"/><stop offset="0.4745" stop-color="#fff" stop-opacity="0.37"/><stop offset="0.6153" stop-color="#fff" stop-opacity="0.39"/><stop offset="0.7913" stop-color="#fff" stop-opacity="0.37"/><stop offset="1.0024" stop-color="#fff" stop-opacity="0.39"/></linearGradient><clipPath id="cld"><rect x="1557" y="38.75" width="329.4" height="329.65"/></clipPath><linearGradient id="cb1899" x1="0" x2="0" y1="0" y2="1"><stop offset="0" stop-color="#fffff8"/><stop offset="0.04" stop-color="#f8f4c0"/><stop offset="0.08" stop-color="#ede878"/><stop offset="0.12" stop-color="#e0d850"/><stop offset="0.16" stop-color="#d8cc38"/><stop offset="0.22" stop-color="#d2c028"/><stop offset="0.26" stop-color="#cfb525"/><stop offset="0.3" stop-color="#c9a01f"/><stop offset="0.34" stop-color="#c38a1c"/><stop offset="0.38" stop-color="#be7a1c"/><stop offset="0.4" stop-color="#bb721c"/><stop offset="0.44" stop-color="#b8661f"/><stop offset="0.49" stop-color="#b65828"/><stop offset="0.53" stop-color="#b04a38"/><stop offset="0.57" stop-color="#a03c4c"/><stop offset="0.61" stop-color="#903058"/><stop offset="0.65" stop-color="#802468"/><stop offset="0.69" stop-color="#721a6e"/><stop offset="0.73" stop-color="#641470"/><stop offset="0.77" stop-color="#560e70"/><stop offset="0.8" stop-color="#4c0c6c"/><stop offset="0.83" stop-color="#400a66"/><stop offset="0.87" stop-color="#340a60"/><stop offset="0.91" stop-color="#2a0a58"/><stop offset="0.95" stop-color="#1e0840"/><stop offset="0.98" stop-color="#100420"/><stop offset="1" stop-color="#040108"/></linearGradient><linearGradient id="gxe0" gradientUnits="userSpaceOnUse" x1="73.8" x2="314" y1="0" y2="0"><stop offset="0" stop-color="#000000"/><stop offset="0.0312" stop-color="#131313"/><stop offset="0.0625" stop-color="#242424"/><stop offset="0.0937" stop-color="#323232"/><stop offset="0.125" stop-color="#3f3f3f"/><stop offset="0.1562" stop-color="#4a4a4a"/><stop offset="0.1875" stop-color="#545454"/><stop offset="0.2188" stop-color="#5c5c5c"/><stop offset="0.25" stop-color="#646464"/><stop offset="0.2812" stop-color="#6b6b6b"/><stop offset="0.3125" stop-color="#727272"/><stop offset="0.3437" stop-color="#787878"/><stop offset="0.375" stop-color="#7d7d7d"/><stop offset="0.4062" stop-color="#828282"/><stop offset="0.4375" stop-color="#878787"/><stop offset="0.4688" stop-color="#8b8b8b"/><stop offset="0.5" stop-color="#8f8f8f"/><stop offset="0.5312" stop-color="#939393"/><stop offset="0.5625" stop-color="#979797"/><stop offset="0.5937" stop-color="#9a9a9a"/><stop offset="0.625" stop-color="#9d9d9d"/><stop offset="0.6562" stop-color="#a0a0a0"/><stop offset="0.6875" stop-color="#a2a2a2"/><stop offset="0.7187" stop-color="#a5a5a5"/><stop offset="0.75" stop-color="#a7a7a7"/><stop offset="0.7812" stop-color="#aaaaaa"/><stop offset="0.8125" stop-color="#acacac"/><stop offset="0.8438" stop-color="#aeaeae"/><stop offset="0.875" stop-color="#b0b0b0"/><stop offset="0.9062" stop-color="#b2b2b2"/><stop offset="0.9375" stop-color="#b4b4b4"/><stop offset="0.9687" stop-color="#b5b5b5"/><stop offset="1" stop-color="#b7b7b7"/></linearGradient><linearGradient id="gye0" gradientUnits="userSpaceOnUse" x1="0" x2="0" y1="516.9" y2="757.8"><stop offset="0" stop-color="#fff" stop-opacity="0.2857"/><stop offset="0.0799" stop-color="#fff" stop-opacity="0.2755"/><stop offset="0.2221" stop-color="#fff" stop-opacity="0.2427"/><stop offset="0.3041" stop-color="#fff" stop-opacity="0.2165"/><stop offset="0.3445" stop-color="#fff" stop-opacity="0.2015"/><stop offset="0.4047" stop-color="#fff" stop-opacity="0.1753"/><stop offset="0.4545" stop-color="#fff" stop-opacity="0.1487"/><stop offset="0.4971" stop-color="#fff" stop-opacity="0.1204"/><stop offset="0.5355" stop-color="#fff" stop-opacity="0.0852"/><stop offset="0.5625" stop-color="#fff" stop-opacity="0.0569"/><stop offset="0.5998" stop-color="#fff" stop-opacity="0.0112"/><stop offset="0.6092" stop-color="#fff" stop-opacity="0.0034"/><stop offset="0.6164" stop-color="#fff" stop-opacity="0.002"/><stop offset="0.6289" stop-color="#fff" stop-opacity="0.0034"/><stop offset="0.6351" stop-color="#fff" stop-opacity="0.0134"/><stop offset="0.6403" stop-color="#fff" stop-opacity="0.0299"/><stop offset="0.6465" stop-color="#fff" stop-opacity="0.0576"/><stop offset="0.6517" stop-color="#fff" stop-opacity="0.0902"/><stop offset="0.6548" stop-color="#fff" stop-opacity="0.1146"/><stop offset="0.6579" stop-color="#fff" stop-opacity="0.13"/><stop offset="0.659" stop-color="#fff" stop-opacity="0.1321"/><stop offset="0.6642" stop-color="#fff" stop-opacity="0.1383"/><stop offset="0.7057" stop-color="#fff" stop-opacity="0.1407"/><stop offset="0.7088" stop-color="#fff" stop-opacity="0.1479"/><stop offset="0.7098" stop-color="#fff" stop-opacity="0.1541"/><stop offset="0.7109" stop-color="#fff" stop-opacity="0.1627"/><stop offset="0.713" stop-color="#fff" stop-opacity="0.1943"/><stop offset="0.714" stop-color="#fff" stop-opacity="0.2053"/><stop offset="0.715" stop-color="#fff" stop-opacity="0.2115"/><stop offset="0.7161" stop-color="#fff" stop-opacity="0.2145"/><stop offset="0.7233" stop-color="#fff" stop-opacity="0.2145"/><stop offset="0.7306" stop-color="#fff" stop-opacity="0.2182"/><stop offset="0.7565" stop-color="#fff" stop-opacity="0.2199"/><stop offset="0.7659" stop-color="#fff" stop-opacity="0.2282"/><stop offset="0.769" stop-color="#fff" stop-opacity="0.2286"/><stop offset="0.77" stop-color="#fff" stop-opacity="0.2316"/><stop offset="0.7731" stop-color="#fff" stop-opacity="0.2702"/><stop offset="0.7825" stop-color="#fff" stop-opacity="0.2745"/><stop offset="0.8084" stop-color="#fff" stop-opacity="0.2749"/><stop offset="0.8281" stop-color="#fff" stop-opacity="0.2783"/><stop offset="0.8313" stop-color="#fff" stop-opacity="0.2953"/><stop offset="0.8333" stop-color="#fff" stop-opacity="0.3172"/><stop offset="0.8354" stop-color="#fff" stop-opacity="0.334"/><stop offset="0.8821" stop-color="#fff" stop-opacity="0.3398"/><stop offset="0.9008" stop-color="#fff" stop-opacity="0.3535"/><stop offset="0.9215" stop-color="#fff" stop-opacity="0.3574"/><stop offset="1" stop-color="#fff" stop-opacity="0.3571"/></linearGradient><filter id="fre0" color-interpolation-filters="sRGB" x="0" y="0" width="1" height="1"><feComponentTransfer><feFuncR type="table" tableValues="0.019 0.06 0.115 0.176 0.234 0.285 0.326 0.355 0.373 0.38 0.375 0.359 0.331 0.292 0.242 0.185 0.124 0.067 0.023 0.001 0.006 0.037 0.087 0.146 0.206 0.261 0.307 0.342 0.366 0.378 0.379 0.368 0.346 0.312 0.268 0.214 0.154 0.094 0.043 0.009 0 0.019 0.06 0.116 0.177 0.235 0.286 0.326 0.356 0.374 0.38 0.375 0.358 0.33 0.291 0.242 0.184 0.123 0.066 0.023 0.001 0.007 0.038 0.087 0.147 0.207 0.262 0.308 0.343 0.366 0.378 0.379 0.368 0.346 0.312 0.267 0.213 0.153 0.093 0.042 0.009 0.001 0.019 0.061 0.117 0.178 0.236 0.286 0.327 0.356 0.374 0.38 0.375 0.359 0.331 0.291 0.242 0.184 0.124 0.067 0.023 0.001 0.007 0.04 0.093 0.158 0.226 0.292 0.351 0.401 0.442 0.473 0.493 0.502 0.497 0.477 0.437 0.376 0.292 0.192 0.093 0.02 0.002 0.053 0.172 0.336 0.506 0.649 0.752 0.818 0.858 0.879 0.885 0.88 0.86 0.822 0.758 0.658 0.517 0.349 0.183 0.059 0.003 0.017 0.086 0.185 0.286 0.371 0.434 0.475 0.496 0.502 0.494 0.475 0.445 0.405 0.355 0.296 0.231 0.163 0.097 0.043 0.009 0.001 0.02 0.063 0.119 0.18 0.238 0.288 0.328 0.357 0.374 0.38 0.375 0.358 0.329 0.29 0.24 0.182 0.121 0.065 0.022 0.001 0.007 0.039 0.089 0.149 0.209 0.264 0.309 0.344 0.367 0.378 0.379 0.367 0.345 0.311 0.265 0.211 0.151 0.091 0.041 0.008 0.001 0.02 0.063 0.119 0.18 0.238 0.288 0.328 0.357 0.374 0.38 0.374 0.357 0.329 0.289 0.239 0.181 0.12 0.064 0.021 0.001 0.008 0.04 0.09 0.15 0.21 0.264 0.31 0.344 0.367 0.378 0.379 0.367 0.344 0.31 0.265 0.21 0.15 0.091 0.04 0.008 0.001 0.021 0.063 0.12 0.18 0.238 0.288 0.328 0.357 0.374 0.38"/><feFuncG type="table" tableValues="0.019 0.06 0.115 0.176 0.234 0.285 0.326 0.355 0.373 0.38 0.375 0.359 0.331 0.292 0.242 0.185 0.124 0.067 0.023 0.001 0.006 0.037 0.087 0.146 0.206 0.261 0.307 0.342 0.366 0.378 0.379 0.368 0.346 0.312 0.268 0.214 0.154 0.094 0.043 0.009 0 0.019 0.06 0.116 0.177 0.235 0.286 0.326 0.356 0.374 0.38 0.375 0.358 0.33 0.291 0.242 0.184 0.123 0.066 0.023 0.001 0.007 0.038 0.087 0.147 0.207 0.262 0.308 0.343 0.366 0.378 0.379 0.368 0.346 0.312 0.267 0.213 0.153 0.093 0.042 0.009 0.001 0.019 0.061 0.117 0.178 0.236 0.286 0.327 0.356 0.374 0.38 0.375 0.359 0.331 0.291 0.242 0.184 0.124 0.067 0.023 0.001 0.007 0.04 0.093 0.158 0.226 0.292 0.351 0.401 0.442 0.473 0.493 0.502 0.497 0.477 0.437 0.376 0.292 0.192 0.093 0.02 0.002 0.053 0.172 0.336 0.506 0.649 0.752 0.818 0.858 0.879 0.885 0.88 0.86 0.822 0.758 0.658 0.517 0.349 0.183 0.059 0.003 0.017 0.086 0.185 0.286 0.371 0.434 0.475 0.496 0.502 0.494 0.475 0.445 0.405 0.355 0.296 0.231 0.163 0.097 0.043 0.009 0.001 0.02 0.063 0.119 0.18 0.238 0.288 0.328 0.357 0.374 0.38 0.375 0.358 0.329 0.29 0.24 0.182 0.121 0.065 0.022 0.001 0.007 0.039 0.089 0.149 0.209 0.264 0.309 0.344 0.367 0.378 0.379 0.367 0.345 0.311 0.265 0.211 0.151 0.091 0.041 0.008 0.001 0.02 0.063 0.119 0.18 0.238 0.288 0.328 0.357 0.374 0.38 0.374 0.357 0.329 0.289 0.239 0.181 0.12 0.064 0.021 0.001 0.008 0.04 0.09 0.15 0.21 0.264 0.31 0.344 0.367 0.378 0.379 0.367 0.344 0.31 0.265 0.21 0.15 0.091 0.04 0.008 0.001 0.021 0.063 0.12 0.18 0.238 0.288 0.328 0.357 0.374 0.38"/><feFuncB type="table" tableValues="0.019 0.06 0.115 0.176 0.234 0.285 0.326 0.355 0.373 0.38 0.375 0.359 0.331 0.292 0.242 0.185 0.124 0.067 0.023 0.001 0.006 0.037 0.087 0.146 0.206 0.261 0.307 0.342 0.366 0.378 0.379 0.368 0.346 0.312 0.268 0.214 0.154 0.094 0.043 0.009 0 0.019 0.06 0.116 0.177 0.235 0.286 0.326 0.356 0.374 0.38 0.375 0.358 0.33 0.291 0.242 0.184 0.123 0.066 0.023 0.001 0.007 0.038 0.087 0.147 0.207 0.262 0.308 0.343 0.366 0.378 0.379 0.368 0.346 0.312 0.267 0.213 0.153 0.093 0.042 0.009 0.001 0.019 0.061 0.117 0.178 0.236 0.286 0.327 0.356 0.374 0.38 0.375 0.359 0.331 0.291 0.242 0.184 0.124 0.067 0.023 0.001 0.007 0.04 0.093 0.158 0.226 0.292 0.351 0.401 0.442 0.473 0.493 0.502 0.497 0.477 0.437 0.376 0.292 0.192 0.093 0.02 0.002 0.053 0.172 0.336 0.506 0.649 0.752 0.818 0.858 0.879 0.885 0.88 0.86 0.822 0.758 0.658 0.517 0.349 0.183 0.059 0.003 0.017 0.086 0.185 0.286 0.371 0.434 0.475 0.496 0.502 0.494 0.475 0.445 0.405 0.355 0.296 0.231 0.163 0.097 0.043 0.009 0.001 0.02 0.063 0.119 0.18 0.238 0.288 0.328 0.357 0.374 0.38 0.375 0.358 0.329 0.29 0.24 0.182 0.121 0.065 0.022 0.001 0.007 0.039 0.089 0.149 0.209 0.264 0.309 0.344 0.367 0.378 0.379 0.367 0.345 0.311 0.265 0.211 0.151 0.091 0.041 0.008 0.001 0.02 0.063 0.119 0.18 0.238 0.288 0.328 0.357 0.374 0.38 0.374 0.357 0.329 0.289 0.239 0.181 0.12 0.064 0.021 0.001 0.008 0.04 0.09 0.15 0.21 0.264 0.31 0.344 0.367 0.378 0.379 0.367 0.344 0.31 0.265 0.21 0.15 0.091 0.04 0.008 0.001 0.021 0.063 0.12 0.18 0.238 0.288 0.328 0.357 0.374 0.38"/></feComponentTransfer><feGaussianBlur stdDeviation="1"/></filter><linearGradient id="eae0" gradientUnits="userSpaceOnUse" x1="73.8" x2="314" y1="0" y2="0"><stop offset="-0.0079" stop-color="#000" stop-opacity="0.919"/><stop offset="0.0274" stop-color="#000" stop-opacity="0.832"/><stop offset="0.0626" stop-color="#000" stop-opacity="0.701"/><stop offset="0.1244" stop-color="#000" stop-opacity="0.643"/><stop offset="0.1684" stop-color="#000" stop-opacity="0.515"/><stop offset="0.2125" stop-color="#000" stop-opacity="0.384"/><stop offset="0.2654" stop-color="#000" stop-opacity="0.24"/><stop offset="0.3359" stop-color="#000" stop-opacity="0.069"/><stop offset="0.4065" stop-color="#000" stop-opacity="0.048"/><stop offset="0.477" stop-color="#000" stop-opacity="0.048"/><stop offset="0.618" stop-color="#000" stop-opacity="0.048"/><stop offset="0.7943" stop-color="#000" stop-opacity="0.081"/><stop offset="1.0059" stop-color="#000" stop-opacity="0.223"/></linearGradient><linearGradient id="ebe0" gradientUnits="userSpaceOnUse" x1="73.8" x2="314" y1="0" y2="0"><stop offset="-0.0079" stop-color="#fff" stop-opacity="0.03"/><stop offset="0.0274" stop-color="#fff" stop-opacity="0.06"/><stop offset="0.0626" stop-color="#fff" stop-opacity="0.12"/><stop offset="0.1244" stop-color="#fff" stop-opacity="0.19"/><stop offset="0.1684" stop-color="#fff" stop-opacity="0.24"/><stop offset="0.2125" stop-color="#fff" stop-opacity="0.295"/><stop offset="0.2654" stop-color="#fff" stop-opacity="0.325"/><stop offset="0.3359" stop-color="#fff" stop-opacity="0.35"/><stop offset="0.4065" stop-color="#fff" stop-opacity="0.37"/><stop offset="0.477" stop-color="#fff" stop-opacity="0.37"/><stop offset="0.618" stop-color="#fff" stop-opacity="0.37"/><stop offset="0.7943" stop-color="#fff" stop-opacity="0.37"/><stop offset="1.0059" stop-color="#fff" stop-opacity="0.39"/></linearGradient><clipPath id="cle0"><rect x="73.8" y="516.9" width="240.2" height="240.9"/></clipPath><linearGradient id="tce0" gradientUnits="userSpaceOnUse" x1="0" x2="0" y1="516.9" y2="757.8"><stop offset="0" stop-color="#9c9c9c"/><stop offset="0.1698" stop-color="#a3a3a3"/><stop offset="0.2624" stop-color="#ababab"/><stop offset="0.3551" stop-color="#b5b5b5"/><stop offset="0.4425" stop-color="#d6d6d6"/><stop offset="0.5253" stop-color="#ffffff"/><stop offset="0.6385" stop-color="#ffffff"/><stop offset="0.7503" stop-color="#f2f2f2"/><stop offset="0.7995" stop-color="#b8b8b8"/><stop offset="1" stop-color="#b2b2b2"/></linearGradient><linearGradient id="gxe1" gradientUnits="userSpaceOnUse" x1="317.4" x2="557.6" y1="0" y2="0"><stop offset="0" stop-color="#000000"/><stop offset="0.0313" stop-color="#131313"/><stop offset="0.0625" stop-color="#242424"/><stop offset="0.0938" stop-color="#323232"/><stop offset="0.125" stop-color="#3f3f3f"/><stop offset="0.1563" stop-color="#4a4a4a"/><stop offset="0.1875" stop-color="#545454"/><stop offset="0.2188" stop-color="#5c5c5c"/><stop offset="0.25" stop-color="#646464"/><stop offset="0.2812" stop-color="#6b6b6b"/><stop offset="0.3125" stop-color="#727272"/><stop offset="0.3437" stop-color="#787878"/><stop offset="0.375" stop-color="#7d7d7d"/><stop offset="0.4062" stop-color="#828282"/><stop offset="0.4375" stop-color="#878787"/><stop offset="0.4688" stop-color="#8b8b8b"/><stop offset="0.5" stop-color="#8f8f8f"/><stop offset="0.5312" stop-color="#939393"/><stop offset="0.5625" stop-color="#979797"/><stop offset="0.5938" stop-color="#9a9a9a"/><stop offset="0.625" stop-color="#9d9d9d"/><stop offset="0.6562" stop-color="#a0a0a0"/><stop offset="0.6875" stop-color="#a2a2a2"/><stop offset="0.7188" stop-color="#a5a5a5"/><stop offset="0.75" stop-color="#a7a7a7"/><stop offset="0.7812" stop-color="#aaaaaa"/><stop offset="0.8125" stop-color="#acacac"/><stop offset="0.8438" stop-color="#aeaeae"/><stop offset="0.875" stop-color="#b0b0b0"/><stop offset="0.9063" stop-color="#b2b2b2"/><stop offset="0.9375" stop-color="#b4b4b4"/><stop offset="0.9687" stop-color="#b5b5b5"/><stop offset="1" stop-color="#b7b7b7"/></linearGradient><linearGradient id="gye1" gradientUnits="userSpaceOnUse" x1="0" x2="0" y1="516.9" y2="757.8"><stop offset="0" stop-color="#fff" stop-opacity="0.2044"/><stop offset="0.0592" stop-color="#fff" stop-opacity="0.1966"/><stop offset="0.1609" stop-color="#fff" stop-opacity="0.1764"/><stop offset="0.2418" stop-color="#fff" stop-opacity="0.1557"/><stop offset="0.3041" stop-color="#fff" stop-opacity="0.1351"/><stop offset="0.3238" stop-color="#fff" stop-opacity="0.1275"/><stop offset="0.3726" stop-color="#fff" stop-opacity="0.1004"/><stop offset="0.4172" stop-color="#fff" stop-opacity="0.0804"/><stop offset="0.439" stop-color="#fff" stop-opacity="0.0678"/><stop offset="0.4618" stop-color="#fff" stop-opacity="0.0527"/><stop offset="0.521" stop-color="#fff" stop-opacity="0.0046"/><stop offset="0.5282" stop-color="#fff" stop-opacity="0.0021"/><stop offset="0.5386" stop-color="#fff" stop-opacity="0.0047"/><stop offset="0.5417" stop-color="#fff" stop-opacity="0.0124"/><stop offset="0.5448" stop-color="#fff" stop-opacity="0.0299"/><stop offset="0.5511" stop-color="#fff" stop-opacity="0.084"/><stop offset="0.5552" stop-color="#fff" stop-opacity="0.1164"/><stop offset="0.5604" stop-color="#fff" stop-opacity="0.1241"/><stop offset="0.5905" stop-color="#fff" stop-opacity="0.1228"/><stop offset="0.5936" stop-color="#fff" stop-opacity="0.131"/><stop offset="0.5946" stop-color="#fff" stop-opacity="0.1375"/><stop offset="0.5957" stop-color="#fff" stop-opacity="0.1491"/><stop offset="0.5967" stop-color="#fff" stop-opacity="0.169"/><stop offset="0.5978" stop-color="#fff" stop-opacity="0.1843"/><stop offset="0.5998" stop-color="#fff" stop-opacity="0.1896"/><stop offset="0.66" stop-color="#fff" stop-opacity="0.1855"/><stop offset="0.6631" stop-color="#fff" stop-opacity="0.1898"/><stop offset="0.6652" stop-color="#fff" stop-opacity="0.2052"/><stop offset="0.6663" stop-color="#fff" stop-opacity="0.2202"/><stop offset="0.6673" stop-color="#fff" stop-opacity="0.2289"/><stop offset="0.6683" stop-color="#fff" stop-opacity="0.2322"/><stop offset="0.7181" stop-color="#fff" stop-opacity="0.2333"/><stop offset="0.7285" stop-color="#fff" stop-opacity="0.2393"/><stop offset="0.7337" stop-color="#fff" stop-opacity="0.2394"/><stop offset="0.7358" stop-color="#fff" stop-opacity="0.2506"/><stop offset="0.7379" stop-color="#fff" stop-opacity="0.2694"/><stop offset="0.7389" stop-color="#fff" stop-opacity="0.2743"/><stop offset="0.743" stop-color="#fff" stop-opacity="0.2747"/><stop offset="0.7513" stop-color="#fff" stop-opacity="0.2819"/><stop offset="0.7773" stop-color="#fff" stop-opacity="0.2865"/><stop offset="0.8064" stop-color="#fff" stop-opacity="0.3016"/><stop offset="0.8665" stop-color="#fff" stop-opacity="0.3025"/><stop offset="0.8925" stop-color="#fff" stop-opacity="0.323"/><stop offset="0.9247" stop-color="#fff" stop-opacity="0.3429"/><stop offset="1" stop-color="#fff" stop-opacity="0.3477"/></linearGradient><filter id="fre1" color-interpolation-filters="sRGB" x="0" y="0" width="1" height="1"><feComponentTransfer><feFuncR type="table" tableValues="0.181 0.124 0.07 0.028 0.003 0.003 0.025 0.067 0.121 0.178 0.233 0.281 0.321 0.35 0.37 0.379 0.378 0.367 0.346 0.315 0.274 0.225 0.169 0.112 0.06 0.02 0.001 0.006 0.033 0.078 0.133 0.19 0.244 0.291 0.328 0.355 0.373 0.38 0.377 0.364 0.34 0.307 0.264 0.213 0.156 0.1 0.05 0.014 0 0.01 0.042 0.09 0.146 0.203 0.255 0.3 0.335 0.36 0.375 0.38 0.375 0.359 0.334 0.298 0.253 0.201 0.144 0.088 0.04 0.009 0 0.015 0.051 0.102 0.158 0.215 0.266 0.308 0.341 0.364 0.377 0.38 0.373 0.355 0.327 0.29 0.243 0.189 0.132 0.077 0.032 0.005 0.002 0.022 0.064 0.119 0.182 0.244 0.302 0.353 0.396 0.43 0.456 0.471 0.477 0.471 0.452 0.418 0.367 0.298 0.214 0.126 0.049 0.005 0.009 0.069 0.178 0.317 0.461 0.586 0.683 0.752 0.796 0.822 0.833 0.831 0.815 0.783 0.73 0.652 0.544 0.411 0.265 0.134 0.041 0.001 0.016 0.074 0.157 0.245 0.324 0.387 0.432 0.46 0.474 0.476 0.467 0.448 0.419 0.382 0.336 0.282 0.222 0.159 0.098 0.047 0.012 0 0.012 0.047 0.096 0.152 0.209 0.261 0.304 0.338 0.362 0.376 0.38 0.374 0.357 0.331 0.294 0.248 0.195 0.138 0.082 0.036 0.007 0.001 0.018 0.056 0.107 0.164 0.22 0.27 0.312 0.344 0.366 0.378 0.379 0.371 0.352 0.323 0.285 0.237 0.182 0.125 0.071 0.028 0.004 0.002 0.025 0.066 0.119 0.177 0.232 0.28 0.32 0.35 0.369 0.379 0.378 0.368 0.347 0.316 0.275 0.225 0.17 0.113 0.061 0.021 0.001 0.005 0.033 0.077 0.132 0.189 0.243 0.29 0.327 0.355 0.372 0.38 0.377 0.364 0.341 0.308 0.265 0.214 0.157 0.101 0.05 0.015 0 0.01 0.041 0.089 0.145 0.202 0.254 0.299 0.334 0.36 0.375 0.38"/><feFuncG type="table" tableValues="0.181 0.124 0.07 0.028 0.003 0.003 0.025 0.067 0.121 0.178 0.233 0.281 0.321 0.35 0.37 0.379 0.378 0.367 0.346 0.315 0.274 0.225 0.169 0.112 0.06 0.02 0.001 0.006 0.033 0.078 0.133 0.19 0.244 0.291 0.328 0.355 0.373 0.38 0.377 0.364 0.34 0.307 0.264 0.213 0.156 0.1 0.05 0.014 0 0.01 0.042 0.09 0.146 0.203 0.255 0.3 0.335 0.36 0.375 0.38 0.375 0.359 0.334 0.298 0.253 0.201 0.144 0.088 0.04 0.009 0 0.015 0.051 0.102 0.158 0.215 0.266 0.308 0.341 0.364 0.377 0.38 0.373 0.355 0.327 0.29 0.243 0.189 0.132 0.077 0.032 0.005 0.002 0.022 0.064 0.119 0.182 0.244 0.302 0.353 0.396 0.43 0.456 0.471 0.477 0.471 0.452 0.418 0.367 0.298 0.214 0.126 0.049 0.005 0.009 0.069 0.178 0.317 0.461 0.586 0.683 0.752 0.796 0.822 0.833 0.831 0.815 0.783 0.73 0.652 0.544 0.411 0.265 0.134 0.041 0.001 0.016 0.074 0.157 0.245 0.324 0.387 0.432 0.46 0.474 0.476 0.467 0.448 0.419 0.382 0.336 0.282 0.222 0.159 0.098 0.047 0.012 0 0.012 0.047 0.096 0.152 0.209 0.261 0.304 0.338 0.362 0.376 0.38 0.374 0.357 0.331 0.294 0.248 0.195 0.138 0.082 0.036 0.007 0.001 0.018 0.056 0.107 0.164 0.22 0.27 0.312 0.344 0.366 0.378 0.379 0.371 0.352 0.323 0.285 0.237 0.182 0.125 0.071 0.028 0.004 0.002 0.025 0.066 0.119 0.177 0.232 0.28 0.32 0.35 0.369 0.379 0.378 0.368 0.347 0.316 0.275 0.225 0.17 0.113 0.061 0.021 0.001 0.005 0.033 0.077 0.132 0.189 0.243 0.29 0.327 0.355 0.372 0.38 0.377 0.364 0.341 0.308 0.265 0.214 0.157 0.101 0.05 0.015 0 0.01 0.041 0.089 0.145 0.202 0.254 0.299 0.334 0.36 0.375 0.38"/><feFuncB type="table" tableValues="0.181 0.124 0.07 0.028 0.003 0.003 0.025 0.067 0.121 0.178 0.233 0.281 0.321 0.35 0.37 0.379 0.378 0.367 0.346 0.315 0.274 0.225 0.169 0.112 0.06 0.02 0.001 0.006 0.033 0.078 0.133 0.19 0.244 0.291 0.328 0.355 0.373 0.38 0.377 0.364 0.34 0.307 0.264 0.213 0.156 0.1 0.05 0.014 0 0.01 0.042 0.09 0.146 0.203 0.255 0.3 0.335 0.36 0.375 0.38 0.375 0.359 0.334 0.298 0.253 0.201 0.144 0.088 0.04 0.009 0 0.015 0.051 0.102 0.158 0.215 0.266 0.308 0.341 0.364 0.377 0.38 0.373 0.355 0.327 0.29 0.243 0.189 0.132 0.077 0.032 0.005 0.002 0.022 0.064 0.119 0.182 0.244 0.302 0.353 0.396 0.43 0.456 0.471 0.477 0.471 0.452 0.418 0.367 0.298 0.214 0.126 0.049 0.005 0.009 0.069 0.178 0.317 0.461 0.586 0.683 0.752 0.796 0.822 0.833 0.831 0.815 0.783 0.73 0.652 0.544 0.411 0.265 0.134 0.041 0.001 0.016 0.074 0.157 0.245 0.324 0.387 0.432 0.46 0.474 0.476 0.467 0.448 0.419 0.382 0.336 0.282 0.222 0.159 0.098 0.047 0.012 0 0.012 0.047 0.096 0.152 0.209 0.261 0.304 0.338 0.362 0.376 0.38 0.374 0.357 0.331 0.294 0.248 0.195 0.138 0.082 0.036 0.007 0.001 0.018 0.056 0.107 0.164 0.22 0.27 0.312 0.344 0.366 0.378 0.379 0.371 0.352 0.323 0.285 0.237 0.182 0.125 0.071 0.028 0.004 0.002 0.025 0.066 0.119 0.177 0.232 0.28 0.32 0.35 0.369 0.379 0.378 0.368 0.347 0.316 0.275 0.225 0.17 0.113 0.061 0.021 0.001 0.005 0.033 0.077 0.132 0.189 0.243 0.29 0.327 0.355 0.372 0.38 0.377 0.364 0.341 0.308 0.265 0.214 0.157 0.101 0.05 0.015 0 0.01 0.041 0.089 0.145 0.202 0.254 0.299 0.334 0.36 0.375 0.38"/></feComponentTransfer><feGaussianBlur stdDeviation="1"/></filter><linearGradient id="eae1" gradientUnits="userSpaceOnUse" x1="317.4" x2="557.6" y1="0" y2="0"><stop offset="-0.0079" stop-color="#000" stop-opacity="0.919"/><stop offset="0.0274" stop-color="#000" stop-opacity="0.832"/><stop offset="0.0626" stop-color="#000" stop-opacity="0.701"/><stop offset="0.1244" stop-color="#000" stop-opacity="0.643"/><stop offset="0.1684" stop-color="#000" stop-opacity="0.515"/><stop offset="0.2125" stop-color="#000" stop-opacity="0.384"/><stop offset="0.2654" stop-color="#000" stop-opacity="0.24"/><stop offset="0.3359" stop-color="#000" stop-opacity="0.069"/><stop offset="0.4065" stop-color="#000" stop-opacity="0.048"/><stop offset="0.477" stop-color="#000" stop-opacity="0.048"/><stop offset="0.618" stop-color="#000" stop-opacity="0.048"/><stop offset="0.7943" stop-color="#000" stop-opacity="0.081"/><stop offset="1.0059" stop-color="#000" stop-opacity="0.223"/></linearGradient><linearGradient id="ebe1" gradientUnits="userSpaceOnUse" x1="317.4" x2="557.6" y1="0" y2="0"><stop offset="-0.0079" stop-color="#fff" stop-opacity="0.03"/><stop offset="0.0274" stop-color="#fff" stop-opacity="0.06"/><stop offset="0.0626" stop-color="#fff" stop-opacity="0.12"/><stop offset="0.1244" stop-color="#fff" stop-opacity="0.19"/><stop offset="0.1684" stop-color="#fff" stop-opacity="0.24"/><stop offset="0.2125" stop-color="#fff" stop-opacity="0.295"/><stop offset="0.2654" stop-color="#fff" stop-opacity="0.325"/><stop offset="0.3359" stop-color="#fff" stop-opacity="0.35"/><stop offset="0.4065" stop-color="#fff" stop-opacity="0.37"/><stop offset="0.477" stop-color="#fff" stop-opacity="0.37"/><stop offset="0.618" stop-color="#fff" stop-opacity="0.37"/><stop offset="0.7943" stop-color="#fff" stop-opacity="0.37"/><stop offset="1.0059" stop-color="#fff" stop-opacity="0.39"/></linearGradient><clipPath id="cle1"><rect x="317.4" y="516.9" width="240.2" height="240.9"/></clipPath><linearGradient id="tce1" gradientUnits="userSpaceOnUse" x1="0" x2="0" y1="516.9" y2="757.8"><stop offset="0" stop-color="#9e9e9e"/><stop offset="0.197" stop-color="#a8a8a8"/><stop offset="0.2896" stop-color="#b2b2b2"/><stop offset="0.3823" stop-color="#cccccc"/><stop offset="0.4582" stop-color="#ffffff"/><stop offset="0.5388" stop-color="#ffffff"/><stop offset="0.5768" stop-color="#c2c2c2"/><stop offset="1" stop-color="#b8b8b8"/></linearGradient><linearGradient id="gxe2" gradientUnits="userSpaceOnUse" x1="561" x2="801.2" y1="0" y2="0"><stop offset="0" stop-color="#000000"/><stop offset="0.0313" stop-color="#131313"/><stop offset="0.0625" stop-color="#242424"/><stop offset="0.0937" stop-color="#323232"/><stop offset="0.125" stop-color="#3f3f3f"/><stop offset="0.1562" stop-color="#4a4a4a"/><stop offset="0.1875" stop-color="#545454"/><stop offset="0.2188" stop-color="#5c5c5c"/><stop offset="0.25" stop-color="#646464"/><stop offset="0.2812" stop-color="#6b6b6b"/><stop offset="0.3125" stop-color="#727272"/><stop offset="0.3438" stop-color="#787878"/><stop offset="0.375" stop-color="#7d7d7d"/><stop offset="0.4062" stop-color="#828282"/><stop offset="0.4375" stop-color="#878787"/><stop offset="0.4687" stop-color="#8b8b8b"/><stop offset="0.5" stop-color="#8f8f8f"/><stop offset="0.5313" stop-color="#939393"/><stop offset="0.5625" stop-color="#979797"/><stop offset="0.5938" stop-color="#9a9a9a"/><stop offset="0.625" stop-color="#9d9d9d"/><stop offset="0.6562" stop-color="#a0a0a0"/><stop offset="0.6875" stop-color="#a2a2a2"/><stop offset="0.7188" stop-color="#a5a5a5"/><stop offset="0.75" stop-color="#a7a7a7"/><stop offset="0.7812" stop-color="#aaaaaa"/><stop offset="0.8125" stop-color="#acacac"/><stop offset="0.8438" stop-color="#aeaeae"/><stop offset="0.875" stop-color="#b0b0b0"/><stop offset="0.9063" stop-color="#b2b2b2"/><stop offset="0.9375" stop-color="#b4b4b4"/><stop offset="0.9687" stop-color="#b5b5b5"/><stop offset="1" stop-color="#b7b7b7"/></linearGradient><linearGradient id="gye2" gradientUnits="userSpaceOnUse" x1="0" x2="0" y1="516.9" y2="757.8"><stop offset="0" stop-color="#fff" stop-opacity="0.1926"/><stop offset="0.0592" stop-color="#fff" stop-opacity="0.1851"/><stop offset="0.1609" stop-color="#fff" stop-opacity="0.1652"/><stop offset="0.2418" stop-color="#fff" stop-opacity="0.1444"/><stop offset="0.303" stop-color="#fff" stop-opacity="0.124"/><stop offset="0.3238" stop-color="#fff" stop-opacity="0.1159"/><stop offset="0.3726" stop-color="#fff" stop-opacity="0.0888"/><stop offset="0.4172" stop-color="#fff" stop-opacity="0.0686"/><stop offset="0.4618" stop-color="#fff" stop-opacity="0.0406"/><stop offset="0.5054" stop-color="#fff" stop-opacity="0.005"/><stop offset="0.522" stop-color="#fff" stop-opacity="0.0021"/><stop offset="0.5272" stop-color="#fff" stop-opacity="0.0073"/><stop offset="0.5303" stop-color="#fff" stop-opacity="0.02"/><stop offset="0.5324" stop-color="#fff" stop-opacity="0.0346"/><stop offset="0.5365" stop-color="#fff" stop-opacity="0.0753"/><stop offset="0.5376" stop-color="#fff" stop-opacity="0.0806"/><stop offset="0.5417" stop-color="#fff" stop-opacity="0.0937"/><stop offset="0.5448" stop-color="#fff" stop-opacity="0.1189"/><stop offset="0.5479" stop-color="#fff" stop-opacity="0.1247"/><stop offset="0.5915" stop-color="#fff" stop-opacity="0.1217"/><stop offset="0.5936" stop-color="#fff" stop-opacity="0.1259"/><stop offset="0.5957" stop-color="#fff" stop-opacity="0.1496"/><stop offset="0.5967" stop-color="#fff" stop-opacity="0.1737"/><stop offset="0.5988" stop-color="#fff" stop-opacity="0.1801"/><stop offset="0.6486" stop-color="#fff" stop-opacity="0.1757"/><stop offset="0.6621" stop-color="#fff" stop-opacity="0.1807"/><stop offset="0.6642" stop-color="#fff" stop-opacity="0.1977"/><stop offset="0.6652" stop-color="#fff" stop-opacity="0.2133"/><stop offset="0.6663" stop-color="#fff" stop-opacity="0.2169"/><stop offset="0.6756" stop-color="#fff" stop-opacity="0.2223"/><stop offset="0.715" stop-color="#fff" stop-opacity="0.2228"/><stop offset="0.7254" stop-color="#fff" stop-opacity="0.2288"/><stop offset="0.7296" stop-color="#fff" stop-opacity="0.2289"/><stop offset="0.7306" stop-color="#fff" stop-opacity="0.2326"/><stop offset="0.7337" stop-color="#fff" stop-opacity="0.2591"/><stop offset="0.7347" stop-color="#fff" stop-opacity="0.2624"/><stop offset="0.7389" stop-color="#fff" stop-opacity="0.2629"/><stop offset="0.7482" stop-color="#fff" stop-opacity="0.2702"/><stop offset="0.7742" stop-color="#fff" stop-opacity="0.2739"/><stop offset="0.8001" stop-color="#fff" stop-opacity="0.2874"/><stop offset="0.8406" stop-color="#fff" stop-opacity="0.2874"/><stop offset="0.8551" stop-color="#fff" stop-opacity="0.2911"/><stop offset="0.8697" stop-color="#fff" stop-opacity="0.3003"/><stop offset="0.8873" stop-color="#fff" stop-opacity="0.3149"/><stop offset="0.9215" stop-color="#fff" stop-opacity="0.3355"/><stop offset="1" stop-color="#fff" stop-opacity="0.341"/></linearGradient><filter id="fre2" color-interpolation-filters="sRGB" x="0" y="0" width="1" height="1"><feComponentTransfer><feFuncR type="table" tableValues="0.034 0.006 0.001 0.019 0.057 0.108 0.164 0.22 0.269 0.311 0.343 0.365 0.377 0.38 0.372 0.355 0.327 0.29 0.244 0.191 0.134 0.08 0.035 0.007 0.001 0.018 0.056 0.107 0.163 0.218 0.268 0.31 0.342 0.365 0.377 0.38 0.372 0.355 0.328 0.291 0.245 0.192 0.135 0.081 0.036 0.007 0.001 0.018 0.055 0.105 0.161 0.217 0.267 0.309 0.342 0.364 0.377 0.38 0.373 0.356 0.329 0.292 0.246 0.193 0.137 0.082 0.037 0.007 0.001 0.017 0.054 0.104 0.16 0.216 0.266 0.308 0.341 0.364 0.377 0.38 0.373 0.356 0.33 0.293 0.248 0.195 0.139 0.084 0.038 0.008 0 0.017 0.054 0.106 0.166 0.227 0.284 0.335 0.377 0.411 0.435 0.451 0.456 0.452 0.435 0.405 0.36 0.299 0.225 0.144 0.069 0.016 0.001 0.032 0.11 0.223 0.351 0.475 0.579 0.66 0.716 0.753 0.773 0.778 0.769 0.744 0.702 0.639 0.551 0.44 0.314 0.188 0.083 0.018 0 0.028 0.089 0.168 0.248 0.318 0.375 0.415 0.441 0.454 0.456 0.447 0.429 0.402 0.366 0.321 0.268 0.21 0.149 0.09 0.041 0.01 0 0.015 0.05 0.099 0.155 0.211 0.262 0.305 0.339 0.362 0.376 0.38 0.374 0.358 0.332 0.297 0.252 0.2 0.144 0.088 0.041 0.01 0 0.014 0.048 0.097 0.153 0.209 0.26 0.303 0.337 0.362 0.376 0.38 0.374 0.359 0.333 0.298 0.253 0.201 0.145 0.09 0.042 0.01 0 0.013 0.047 0.096 0.152 0.208 0.259 0.303 0.337 0.361 0.375 0.38 0.375 0.359 0.334 0.299 0.254 0.203 0.146 0.091 0.043 0.011 0 0.013 0.046 0.095 0.15 0.207 0.258 0.302 0.336 0.361 0.375 0.38 0.375 0.36 0.335 0.3 0.256 0.204 0.148 0.092 0.044 0.012 0 0.012 0.045 0.093 0.149 0.205 0.257 0.301 0.335 0.36 0.375 0.38"/><feFuncG type="table" tableValues="0.034 0.006 0.001 0.019 0.057 0.108 0.164 0.22 0.269 0.311 0.343 0.365 0.377 0.38 0.372 0.355 0.327 0.29 0.244 0.191 0.134 0.08 0.035 0.007 0.001 0.018 0.056 0.107 0.163 0.218 0.268 0.31 0.342 0.365 0.377 0.38 0.372 0.355 0.328 0.291 0.245 0.192 0.135 0.081 0.036 0.007 0.001 0.018 0.055 0.105 0.161 0.217 0.267 0.309 0.342 0.364 0.377 0.38 0.373 0.356 0.329 0.292 0.246 0.193 0.137 0.082 0.037 0.007 0.001 0.017 0.054 0.104 0.16 0.216 0.266 0.308 0.341 0.364 0.377 0.38 0.373 0.356 0.33 0.293 0.248 0.195 0.139 0.084 0.038 0.008 0 0.017 0.054 0.106 0.166 0.227 0.284 0.335 0.377 0.411 0.435 0.451 0.456 0.452 0.435 0.405 0.36 0.299 0.225 0.144 0.069 0.016 0.001 0.032 0.11 0.223 0.351 0.475 0.579 0.66 0.716 0.753 0.773 0.778 0.769 0.744 0.702 0.639 0.551 0.44 0.314 0.188 0.083 0.018 0 0.028 0.089 0.168 0.248 0.318 0.375 0.415 0.441 0.454 0.456 0.447 0.429 0.402 0.366 0.321 0.268 0.21 0.149 0.09 0.041 0.01 0 0.015 0.05 0.099 0.155 0.211 0.262 0.305 0.339 0.362 0.376 0.38 0.374 0.358 0.332 0.297 0.252 0.2 0.144 0.088 0.041 0.01 0 0.014 0.048 0.097 0.153 0.209 0.26 0.303 0.337 0.362 0.376 0.38 0.374 0.359 0.333 0.298 0.253 0.201 0.145 0.09 0.042 0.01 0 0.013 0.047 0.096 0.152 0.208 0.259 0.303 0.337 0.361 0.375 0.38 0.375 0.359 0.334 0.299 0.254 0.203 0.146 0.091 0.043 0.011 0 0.013 0.046 0.095 0.15 0.207 0.258 0.302 0.336 0.361 0.375 0.38 0.375 0.36 0.335 0.3 0.256 0.204 0.148 0.092 0.044 0.012 0 0.012 0.045 0.093 0.149 0.205 0.257 0.301 0.335 0.36 0.375 0.38"/><feFuncB type="table" tableValues="0.034 0.006 0.001 0.019 0.057 0.108 0.164 0.22 0.269 0.311 0.343 0.365 0.377 0.38 0.372 0.355 0.327 0.29 0.244 0.191 0.134 0.08 0.035 0.007 0.001 0.018 0.056 0.107 0.163 0.218 0.268 0.31 0.342 0.365 0.377 0.38 0.372 0.355 0.328 0.291 0.245 0.192 0.135 0.081 0.036 0.007 0.001 0.018 0.055 0.105 0.161 0.217 0.267 0.309 0.342 0.364 0.377 0.38 0.373 0.356 0.329 0.292 0.246 0.193 0.137 0.082 0.037 0.007 0.001 0.017 0.054 0.104 0.16 0.216 0.266 0.308 0.341 0.364 0.377 0.38 0.373 0.356 0.33 0.293 0.248 0.195 0.139 0.084 0.038 0.008 0 0.017 0.054 0.106 0.166 0.227 0.284 0.335 0.377 0.411 0.435 0.451 0.456 0.452 0.435 0.405 0.36 0.299 0.225 0.144 0.069 0.016 0.001 0.032 0.11 0.223 0.351 0.475 0.579 0.66 0.716 0.753 0.773 0.778 0.769 0.744 0.702 0.639 0.551 0.44 0.314 0.188 0.083 0.018 0 0.028 0.089 0.168 0.248 0.318 0.375 0.415 0.441 0.454 0.456 0.447 0.429 0.402 0.366 0.321 0.268 0.21 0.149 0.09 0.041 0.01 0 0.015 0.05 0.099 0.155 0.211 0.262 0.305 0.339 0.362 0.376 0.38 0.374 0.358 0.332 0.297 0.252 0.2 0.144 0.088 0.041 0.01 0 0.014 0.048 0.097 0.153 0.209 0.26 0.303 0.337 0.362 0.376 0.38 0.374 0.359 0.333 0.298 0.253 0.201 0.145 0.09 0.042 0.01 0 0.013 0.047 0.096 0.152 0.208 0.259 0.303 0.337 0.361 0.375 0.38 0.375 0.359 0.334 0.299 0.254 0.203 0.146 0.091 0.043 0.011 0 0.013 0.046 0.095 0.15 0.207 0.258 0.302 0.336 0.361 0.375 0.38 0.375 0.36 0.335 0.3 0.256 0.204 0.148 0.092 0.044 0.012 0 0.012 0.045 0.093 0.149 0.205 0.257 0.301 0.335 0.36 0.375 0.38"/></feComponentTransfer><feGaussianBlur stdDeviation="1"/></filter><linearGradient id="eae2" gradientUnits="userSpaceOnUse" x1="561" x2="801.2" y1="0" y2="0"><stop offset="-0.0079" stop-color="#000" stop-opacity="0.919"/><stop offset="0.0274" stop-color="#000" stop-opacity="0.832"/><stop offset="0.0626" stop-color="#000" stop-opacity="0.701"/><stop offset="0.1244" stop-color="#000" stop-opacity="0.643"/><stop offset="0.1684" stop-color="#000" stop-opacity="0.515"/><stop offset="0.2125" stop-color="#000" stop-opacity="0.384"/><stop offset="0.2654" stop-color="#000" stop-opacity="0.24"/><stop offset="0.3359" stop-color="#000" stop-opacity="0.069"/><stop offset="0.4065" stop-color="#000" stop-opacity="0.048"/><stop offset="0.477" stop-color="#000" stop-opacity="0.048"/><stop offset="0.618" stop-color="#000" stop-opacity="0.048"/><stop offset="0.7943" stop-color="#000" stop-opacity="0.081"/><stop offset="1.0059" stop-color="#000" stop-opacity="0.223"/></linearGradient><linearGradient id="ebe2" gradientUnits="userSpaceOnUse" x1="561" x2="801.2" y1="0" y2="0"><stop offset="-0.0079" stop-color="#fff" stop-opacity="0.03"/><stop offset="0.0274" stop-color="#fff" stop-opacity="0.06"/><stop offset="0.0626" stop-color="#fff" stop-opacity="0.12"/><stop offset="0.1244" stop-color="#fff" stop-opacity="0.19"/><stop offset="0.1684" stop-color="#fff" stop-opacity="0.24"/><stop offset="0.2125" stop-color="#fff" stop-opacity="0.295"/><stop offset="0.2654" stop-color="#fff" stop-opacity="0.325"/><stop offset="0.3359" stop-color="#fff" stop-opacity="0.35"/><stop offset="0.4065" stop-color="#fff" stop-opacity="0.37"/><stop offset="0.477" stop-color="#fff" stop-opacity="0.37"/><stop offset="0.618" stop-color="#fff" stop-opacity="0.37"/><stop offset="0.7943" stop-color="#fff" stop-opacity="0.37"/><stop offset="1.0059" stop-color="#fff" stop-opacity="0.39"/></linearGradient><clipPath id="cle2"><rect x="561" y="516.9" width="240.2" height="240.9"/></clipPath><linearGradient id="tce2" gradientUnits="userSpaceOnUse" x1="0" x2="0" y1="516.9" y2="757.8"><stop offset="0" stop-color="#9e9e9e"/><stop offset="0.1875" stop-color="#a8a8a8"/><stop offset="0.2801" stop-color="#b2b2b2"/><stop offset="0.3728" stop-color="#cccccc"/><stop offset="0.4487" stop-color="#ffffff"/><stop offset="0.5294" stop-color="#ffffff"/><stop offset="0.5673" stop-color="#c2c2c2"/><stop offset="1" stop-color="#b8b8b8"/></linearGradient><linearGradient id="gxe3" gradientUnits="userSpaceOnUse" x1="804.6" x2="1044.8" y1="0" y2="0"><stop offset="0" stop-color="#000000"/><stop offset="0.0313" stop-color="#131313"/><stop offset="0.0625" stop-color="#242424"/><stop offset="0.0937" stop-color="#323232"/><stop offset="0.125" stop-color="#3f3f3f"/><stop offset="0.1562" stop-color="#4a4a4a"/><stop offset="0.1875" stop-color="#545454"/><stop offset="0.2188" stop-color="#5c5c5c"/><stop offset="0.25" stop-color="#646464"/><stop offset="0.2812" stop-color="#6b6b6b"/><stop offset="0.3125" stop-color="#727272"/><stop offset="0.3438" stop-color="#787878"/><stop offset="0.375" stop-color="#7d7d7d"/><stop offset="0.4062" stop-color="#828282"/><stop offset="0.4375" stop-color="#878787"/><stop offset="0.4687" stop-color="#8b8b8b"/><stop offset="0.5" stop-color="#8f8f8f"/><stop offset="0.5313" stop-color="#939393"/><stop offset="0.5625" stop-color="#979797"/><stop offset="0.5938" stop-color="#9a9a9a"/><stop offset="0.625" stop-color="#9d9d9d"/><stop offset="0.6562" stop-color="#a0a0a0"/><stop offset="0.6875" stop-color="#a2a2a2"/><stop offset="0.7188" stop-color="#a5a5a5"/><stop offset="0.75" stop-color="#a7a7a7"/><stop offset="0.7812" stop-color="#aaaaaa"/><stop offset="0.8125" stop-color="#acacac"/><stop offset="0.8438" stop-color="#aeaeae"/><stop offset="0.875" stop-color="#b0b0b0"/><stop offset="0.9063" stop-color="#b2b2b2"/><stop offset="0.9375" stop-color="#b4b4b4"/><stop offset="0.9688" stop-color="#b5b5b5"/><stop offset="1" stop-color="#b7b7b7"/></linearGradient><linearGradient id="gye3" gradientUnits="userSpaceOnUse" x1="0" x2="0" y1="516.9" y2="757.8"><stop offset="0" stop-color="#fff" stop-opacity="0.1748"/><stop offset="0.0789" stop-color="#fff" stop-opacity="0.1646"/><stop offset="0.1609" stop-color="#fff" stop-opacity="0.1482"/><stop offset="0.2418" stop-color="#fff" stop-opacity="0.1272"/><stop offset="0.303" stop-color="#fff" stop-opacity="0.1064"/><stop offset="0.3238" stop-color="#fff" stop-opacity="0.098"/><stop offset="0.358" stop-color="#fff" stop-opacity="0.0765"/><stop offset="0.4182" stop-color="#fff" stop-opacity="0.0486"/><stop offset="0.4473" stop-color="#fff" stop-opacity="0.0299"/><stop offset="0.4795" stop-color="#fff" stop-opacity="0.0024"/><stop offset="0.4857" stop-color="#fff" stop-opacity="0.0022"/><stop offset="0.4888" stop-color="#fff" stop-opacity="0.0045"/><stop offset="0.4919" stop-color="#fff" stop-opacity="0.0116"/><stop offset="0.495" stop-color="#fff" stop-opacity="0.0264"/><stop offset="0.4971" stop-color="#fff" stop-opacity="0.0455"/><stop offset="0.5002" stop-color="#fff" stop-opacity="0.0823"/><stop offset="0.5012" stop-color="#fff" stop-opacity="0.1048"/><stop offset="0.5023" stop-color="#fff" stop-opacity="0.1129"/><stop offset="0.5033" stop-color="#fff" stop-opacity="0.1172"/><stop offset="0.5075" stop-color="#fff" stop-opacity="0.1242"/><stop offset="0.5334" stop-color="#fff" stop-opacity="0.1205"/><stop offset="0.5459" stop-color="#fff" stop-opacity="0.1267"/><stop offset="0.5469" stop-color="#fff" stop-opacity="0.1325"/><stop offset="0.549" stop-color="#fff" stop-opacity="0.1643"/><stop offset="0.55" stop-color="#fff" stop-opacity="0.172"/><stop offset="0.5531" stop-color="#fff" stop-opacity="0.1722"/><stop offset="0.5594" stop-color="#fff" stop-opacity="0.1786"/><stop offset="0.604" stop-color="#fff" stop-opacity="0.1729"/><stop offset="0.6164" stop-color="#fff" stop-opacity="0.1769"/><stop offset="0.6175" stop-color="#fff" stop-opacity="0.1801"/><stop offset="0.6185" stop-color="#fff" stop-opacity="0.1881"/><stop offset="0.6206" stop-color="#fff" stop-opacity="0.2122"/><stop offset="0.632" stop-color="#fff" stop-opacity="0.2176"/><stop offset="0.6663" stop-color="#fff" stop-opacity="0.2172"/><stop offset="0.6797" stop-color="#fff" stop-opacity="0.2219"/><stop offset="0.6808" stop-color="#fff" stop-opacity="0.2251"/><stop offset="0.6818" stop-color="#fff" stop-opacity="0.2315"/><stop offset="0.6829" stop-color="#fff" stop-opacity="0.2401"/><stop offset="0.6839" stop-color="#fff" stop-opacity="0.2546"/><stop offset="0.6849" stop-color="#fff" stop-opacity="0.2569"/><stop offset="0.6963" stop-color="#fff" stop-opacity="0.2639"/><stop offset="0.7389" stop-color="#fff" stop-opacity="0.2693"/><stop offset="0.7628" stop-color="#fff" stop-opacity="0.2819"/><stop offset="0.8084" stop-color="#fff" stop-opacity="0.2814"/><stop offset="0.823" stop-color="#fff" stop-opacity="0.2878"/><stop offset="0.8375" stop-color="#fff" stop-opacity="0.3026"/><stop offset="0.8551" stop-color="#fff" stop-opacity="0.3157"/><stop offset="0.8728" stop-color="#fff" stop-opacity="0.323"/><stop offset="1" stop-color="#fff" stop-opacity="0.3289"/></linearGradient><filter id="fre3" color-interpolation-filters="sRGB" x="0" y="0" width="1" height="1"><feComponentTransfer><feFuncR type="table" tableValues="0.075 0.128 0.184 0.237 0.283 0.321 0.35 0.369 0.379 0.379 0.369 0.35 0.321 0.283 0.237 0.184 0.128 0.075 0.032 0.006 0.001 0.019 0.056 0.106 0.161 0.216 0.265 0.307 0.339 0.362 0.376 0.38 0.374 0.359 0.334 0.3 0.257 0.206 0.151 0.096 0.048 0.014 0 0.009 0.039 0.084 0.138 0.194 0.246 0.291 0.327 0.354 0.372 0.379 0.378 0.366 0.346 0.315 0.275 0.227 0.174 0.118 0.066 0.026 0.003 0.003 0.024 0.064 0.116 0.171 0.225 0.273 0.313 0.344 0.366 0.378 0.38 0.373 0.356 0.329 0.293 0.249 0.197 0.142 0.087 0.041 0.01 0 0.013 0.048 0.098 0.156 0.217 0.275 0.328 0.373 0.411 0.439 0.459 0.47 0.471 0.46 0.437 0.399 0.345 0.275 0.194 0.11 0.04 0.003 0.011 0.07 0.174 0.306 0.443 0.564 0.661 0.73 0.777 0.806 0.819 0.82 0.807 0.781 0.736 0.668 0.574 0.455 0.319 0.186 0.078 0.014 0.002 0.035 0.103 0.186 0.268 0.339 0.395 0.434 0.459 0.47 0.47 0.46 0.441 0.414 0.377 0.333 0.281 0.223 0.162 0.103 0.052 0.016 0 0.008 0.037 0.083 0.136 0.192 0.244 0.29 0.326 0.354 0.371 0.38 0.378 0.367 0.347 0.317 0.277 0.23 0.176 0.121 0.069 0.027 0.004 0.002 0.023 0.062 0.113 0.169 0.223 0.271 0.312 0.343 0.365 0.377 0.38 0.373 0.356 0.33 0.294 0.25 0.199 0.143 0.089 0.042 0.011 0 0.012 0.044 0.091 0.146 0.201 0.252 0.296 0.331 0.357 0.373 0.38 0.377 0.364 0.342 0.31 0.269 0.22 0.166 0.111 0.06 0.022 0.002 0.004 0.029 0.071 0.123 0.179 0.232 0.279 0.318 0.348 0.368 0.378 0.379 0.37 0.352 0.324 0.287 0.241 0.189 0.133 0.08 0.035 0.007 0 0.016 0.052 0.101 0.156 0.211 0.261 0.303 0.337 0.361 0.375 0.38"/><feFuncG type="table" tableValues="0.075 0.128 0.184 0.237 0.283 0.321 0.35 0.369 0.379 0.379 0.369 0.35 0.321 0.283 0.237 0.184 0.128 0.075 0.032 0.006 0.001 0.019 0.056 0.106 0.161 0.216 0.265 0.307 0.339 0.362 0.376 0.38 0.374 0.359 0.334 0.3 0.257 0.206 0.151 0.096 0.048 0.014 0 0.009 0.039 0.084 0.138 0.194 0.246 0.291 0.327 0.354 0.372 0.379 0.378 0.366 0.346 0.315 0.275 0.227 0.174 0.118 0.066 0.026 0.003 0.003 0.024 0.064 0.116 0.171 0.225 0.273 0.313 0.344 0.366 0.378 0.38 0.373 0.356 0.329 0.293 0.249 0.197 0.142 0.087 0.041 0.01 0 0.013 0.048 0.098 0.156 0.217 0.275 0.328 0.373 0.411 0.439 0.459 0.47 0.471 0.46 0.437 0.399 0.345 0.275 0.194 0.11 0.04 0.003 0.011 0.07 0.174 0.306 0.443 0.564 0.661 0.73 0.777 0.806 0.819 0.82 0.807 0.781 0.736 0.668 0.574 0.455 0.319 0.186 0.078 0.014 0.002 0.035 0.103 0.186 0.268 0.339 0.395 0.434 0.459 0.47 0.47 0.46 0.441 0.414 0.377 0.333 0.281 0.223 0.162 0.103 0.052 0.016 0 0.008 0.037 0.083 0.136 0.192 0.244 0.29 0.326 0.354 0.371 0.38 0.378 0.367 0.347 0.317 0.277 0.23 0.176 0.121 0.069 0.027 0.004 0.002 0.023 0.062 0.113 0.169 0.223 0.271 0.312 0.343 0.365 0.377 0.38 0.373 0.356 0.33 0.294 0.25 0.199 0.143 0.089 0.042 0.011 0 0.012 0.044 0.091 0.146 0.201 0.252 0.296 0.331 0.357 0.373 0.38 0.377 0.364 0.342 0.31 0.269 0.22 0.166 0.111 0.06 0.022 0.002 0.004 0.029 0.071 0.123 0.179 0.232 0.279 0.318 0.348 0.368 0.378 0.379 0.37 0.352 0.324 0.287 0.241 0.189 0.133 0.08 0.035 0.007 0 0.016 0.052 0.101 0.156 0.211 0.261 0.303 0.337 0.361 0.375 0.38"/><feFuncB type="table" tableValues="0.075 0.128 0.184 0.237 0.283 0.321 0.35 0.369 0.379 0.379 0.369 0.35 0.321 0.283 0.237 0.184 0.128 0.075 0.032 0.006 0.001 0.019 0.056 0.106 0.161 0.216 0.265 0.307 0.339 0.362 0.376 0.38 0.374 0.359 0.334 0.3 0.257 0.206 0.151 0.096 0.048 0.014 0 0.009 0.039 0.084 0.138 0.194 0.246 0.291 0.327 0.354 0.372 0.379 0.378 0.366 0.346 0.315 0.275 0.227 0.174 0.118 0.066 0.026 0.003 0.003 0.024 0.064 0.116 0.171 0.225 0.273 0.313 0.344 0.366 0.378 0.38 0.373 0.356 0.329 0.293 0.249 0.197 0.142 0.087 0.041 0.01 0 0.013 0.048 0.098 0.156 0.217 0.275 0.328 0.373 0.411 0.439 0.459 0.47 0.471 0.46 0.437 0.399 0.345 0.275 0.194 0.11 0.04 0.003 0.011 0.07 0.174 0.306 0.443 0.564 0.661 0.73 0.777 0.806 0.819 0.82 0.807 0.781 0.736 0.668 0.574 0.455 0.319 0.186 0.078 0.014 0.002 0.035 0.103 0.186 0.268 0.339 0.395 0.434 0.459 0.47 0.47 0.46 0.441 0.414 0.377 0.333 0.281 0.223 0.162 0.103 0.052 0.016 0 0.008 0.037 0.083 0.136 0.192 0.244 0.29 0.326 0.354 0.371 0.38 0.378 0.367 0.347 0.317 0.277 0.23 0.176 0.121 0.069 0.027 0.004 0.002 0.023 0.062 0.113 0.169 0.223 0.271 0.312 0.343 0.365 0.377 0.38 0.373 0.356 0.33 0.294 0.25 0.199 0.143 0.089 0.042 0.011 0 0.012 0.044 0.091 0.146 0.201 0.252 0.296 0.331 0.357 0.373 0.38 0.377 0.364 0.342 0.31 0.269 0.22 0.166 0.111 0.06 0.022 0.002 0.004 0.029 0.071 0.123 0.179 0.232 0.279 0.318 0.348 0.368 0.378 0.379 0.37 0.352 0.324 0.287 0.241 0.189 0.133 0.08 0.035 0.007 0 0.016 0.052 0.101 0.156 0.211 0.261 0.303 0.337 0.361 0.375 0.38"/></feComponentTransfer><feGaussianBlur stdDeviation="1"/></filter><linearGradient id="eae3" gradientUnits="userSpaceOnUse" x1="804.6" x2="1044.8" y1="0" y2="0"><stop offset="-0.0079" stop-color="#000" stop-opacity="0.919"/><stop offset="0.0274" stop-color="#000" stop-opacity="0.832"/><stop offset="0.0626" stop-color="#000" stop-opacity="0.701"/><stop offset="0.1244" stop-color="#000" stop-opacity="0.643"/><stop offset="0.1684" stop-color="#000" stop-opacity="0.515"/><stop offset="0.2125" stop-color="#000" stop-opacity="0.384"/><stop offset="0.2654" stop-color="#000" stop-opacity="0.24"/><stop offset="0.3359" stop-color="#000" stop-opacity="0.069"/><stop offset="0.4065" stop-color="#000" stop-opacity="0.048"/><stop offset="0.477" stop-color="#000" stop-opacity="0.048"/><stop offset="0.618" stop-color="#000" stop-opacity="0.048"/><stop offset="0.7943" stop-color="#000" stop-opacity="0.081"/><stop offset="1.0059" stop-color="#000" stop-opacity="0.223"/></linearGradient><linearGradient id="ebe3" gradientUnits="userSpaceOnUse" x1="804.6" x2="1044.8" y1="0" y2="0"><stop offset="-0.0079" stop-color="#fff" stop-opacity="0.03"/><stop offset="0.0274" stop-color="#fff" stop-opacity="0.06"/><stop offset="0.0626" stop-color="#fff" stop-opacity="0.12"/><stop offset="0.1244" stop-color="#fff" stop-opacity="0.19"/><stop offset="0.1684" stop-color="#fff" stop-opacity="0.24"/><stop offset="0.2125" stop-color="#fff" stop-opacity="0.295"/><stop offset="0.2654" stop-color="#fff" stop-opacity="0.325"/><stop offset="0.3359" stop-color="#fff" stop-opacity="0.35"/><stop offset="0.4065" stop-color="#fff" stop-opacity="0.37"/><stop offset="0.477" stop-color="#fff" stop-opacity="0.37"/><stop offset="0.618" stop-color="#fff" stop-opacity="0.37"/><stop offset="0.7943" stop-color="#fff" stop-opacity="0.37"/><stop offset="1.0059" stop-color="#fff" stop-opacity="0.39"/></linearGradient><clipPath id="cle3"><rect x="804.6" y="516.9" width="240.2" height="240.9"/></clipPath><linearGradient id="tce3" gradientUnits="userSpaceOnUse" x1="0" x2="0" y1="516.9" y2="757.8"><stop offset="0" stop-color="#9e9e9e"/><stop offset="0.1481" stop-color="#a8a8a8"/><stop offset="0.2408" stop-color="#b2b2b2"/><stop offset="0.3334" stop-color="#cccccc"/><stop offset="0.4094" stop-color="#ffffff"/><stop offset="0.49" stop-color="#ffffff"/><stop offset="0.528" stop-color="#c2c2c2"/><stop offset="1" stop-color="#b8b8b8"/></linearGradient><linearGradient id="gxe4" gradientUnits="userSpaceOnUse" x1="73.8" x2="314" y1="0" y2="0"><stop offset="0" stop-color="#000000"/><stop offset="0.0312" stop-color="#131313"/><stop offset="0.0625" stop-color="#242424"/><stop offset="0.0937" stop-color="#323232"/><stop offset="0.125" stop-color="#3f3f3f"/><stop offset="0.1562" stop-color="#4a4a4a"/><stop offset="0.1875" stop-color="#545454"/><stop offset="0.2188" stop-color="#5c5c5c"/><stop offset="0.25" stop-color="#646464"/><stop offset="0.2812" stop-color="#6b6b6b"/><stop offset="0.3125" stop-color="#727272"/><stop offset="0.3437" stop-color="#787878"/><stop offset="0.375" stop-color="#7d7d7d"/><stop offset="0.4062" stop-color="#828282"/><stop offset="0.4375" stop-color="#878787"/><stop offset="0.4688" stop-color="#8b8b8b"/><stop offset="0.5" stop-color="#8f8f8f"/><stop offset="0.5312" stop-color="#939393"/><stop offset="0.5625" stop-color="#979797"/><stop offset="0.5937" stop-color="#9a9a9a"/><stop offset="0.625" stop-color="#9d9d9d"/><stop offset="0.6562" stop-color="#a0a0a0"/><stop offset="0.6875" stop-color="#a2a2a2"/><stop offset="0.7187" stop-color="#a5a5a5"/><stop offset="0.75" stop-color="#a7a7a7"/><stop offset="0.7812" stop-color="#aaaaaa"/><stop offset="0.8125" stop-color="#acacac"/><stop offset="0.8438" stop-color="#aeaeae"/><stop offset="0.875" stop-color="#b0b0b0"/><stop offset="0.9062" stop-color="#b2b2b2"/><stop offset="0.9375" stop-color="#b4b4b4"/><stop offset="0.9687" stop-color="#b5b5b5"/><stop offset="1" stop-color="#b7b7b7"/></linearGradient><linearGradient id="gye4" gradientUnits="userSpaceOnUse" x1="0" x2="0" y1="760.8" y2="1001.7"><stop offset="0" stop-color="#fff" stop-opacity="0.1411"/><stop offset="0.1007" stop-color="#fff" stop-opacity="0.1281"/><stop offset="0.1816" stop-color="#fff" stop-opacity="0.1105"/><stop offset="0.2428" stop-color="#fff" stop-opacity="0.0936"/><stop offset="0.3238" stop-color="#fff" stop-opacity="0.0636"/><stop offset="0.3508" stop-color="#fff" stop-opacity="0.0467"/><stop offset="0.4089" stop-color="#fff" stop-opacity="0.0218"/><stop offset="0.4473" stop-color="#fff" stop-opacity="0.002"/><stop offset="0.4535" stop-color="#fff" stop-opacity="0.0066"/><stop offset="0.4566" stop-color="#fff" stop-opacity="0.0066"/><stop offset="0.4597" stop-color="#fff" stop-opacity="0.0159"/><stop offset="0.4639" stop-color="#fff" stop-opacity="0.0476"/><stop offset="0.4701" stop-color="#fff" stop-opacity="0.1044"/><stop offset="0.4722" stop-color="#fff" stop-opacity="0.1211"/><stop offset="0.4732" stop-color="#fff" stop-opacity="0.1259"/><stop offset="0.4846" stop-color="#fff" stop-opacity="0.1313"/><stop offset="0.5334" stop-color="#fff" stop-opacity="0.1257"/><stop offset="0.5355" stop-color="#fff" stop-opacity="0.1422"/><stop offset="0.5365" stop-color="#fff" stop-opacity="0.1568"/><stop offset="0.5376" stop-color="#fff" stop-opacity="0.1658"/><stop offset="0.5396" stop-color="#fff" stop-opacity="0.1706"/><stop offset="0.5946" stop-color="#fff" stop-opacity="0.1658"/><stop offset="0.5967" stop-color="#fff" stop-opacity="0.1704"/><stop offset="0.5978" stop-color="#fff" stop-opacity="0.1787"/><stop offset="0.5988" stop-color="#fff" stop-opacity="0.1911"/><stop offset="0.6009" stop-color="#fff" stop-opacity="0.1974"/><stop offset="0.6434" stop-color="#fff" stop-opacity="0.1964"/><stop offset="0.659" stop-color="#fff" stop-opacity="0.1998"/><stop offset="0.6611" stop-color="#fff" stop-opacity="0.2102"/><stop offset="0.6631" stop-color="#fff" stop-opacity="0.2311"/><stop offset="0.6756" stop-color="#fff" stop-opacity="0.2404"/><stop offset="0.7046" stop-color="#fff" stop-opacity="0.2444"/><stop offset="0.7306" stop-color="#fff" stop-opacity="0.2547"/><stop offset="0.797" stop-color="#fff" stop-opacity="0.2559"/><stop offset="0.8012" stop-color="#fff" stop-opacity="0.2612"/><stop offset="0.8064" stop-color="#fff" stop-opacity="0.2792"/><stop offset="0.8105" stop-color="#fff" stop-opacity="0.2907"/><stop offset="0.8167" stop-color="#fff" stop-opacity="0.2994"/><stop offset="1" stop-color="#fff" stop-opacity="0.3054"/></linearGradient><filter id="fre4" color-interpolation-filters="sRGB" x="0" y="0" width="1" height="1"><feComponentTransfer><feFuncR type="table" tableValues="0.38 0.376 0.363 0.34 0.309 0.27 0.223 0.17 0.117 0.067 0.027 0.004 0.002 0.02 0.056 0.104 0.158 0.211 0.259 0.301 0.334 0.358 0.373 0.38 0.377 0.366 0.345 0.315 0.277 0.231 0.18 0.126 0.075 0.033 0.007 0 0.015 0.049 0.095 0.148 0.202 0.251 0.294 0.329 0.355 0.371 0.379 0.378 0.368 0.349 0.321 0.285 0.24 0.189 0.136 0.084 0.04 0.01 0 0.011 0.042 0.086 0.138 0.192 0.243 0.287 0.323 0.351 0.369 0.379 0.379 0.371 0.354 0.328 0.293 0.25 0.2 0.146 0.093 0.047 0.014 0 0.008 0.036 0.081 0.135 0.194 0.252 0.305 0.353 0.392 0.425 0.449 0.464 0.471 0.469 0.455 0.429 0.389 0.333 0.263 0.183 0.103 0.038 0.003 0.011 0.066 0.165 0.291 0.423 0.544 0.642 0.715 0.766 0.798 0.816 0.821 0.814 0.795 0.76 0.706 0.629 0.527 0.403 0.27 0.147 0.055 0.006 0.005 0.046 0.115 0.196 0.275 0.343 0.396 0.434 0.458 0.47 0.471 0.462 0.445 0.42 0.387 0.346 0.297 0.243 0.185 0.126 0.073 0.031 0.005 0.001 0.018 0.054 0.101 0.155 0.208 0.257 0.299 0.332 0.357 0.373 0.38 0.378 0.367 0.347 0.318 0.281 0.235 0.184 0.13 0.079 0.036 0.008 0 0.014 0.046 0.091 0.144 0.198 0.248 0.291 0.326 0.353 0.37 0.379 0.379 0.369 0.351 0.324 0.288 0.244 0.194 0.14 0.088 0.043 0.012 0 0.01 0.039 0.082 0.134 0.188 0.239 0.284 0.321 0.349 0.368 0.378 0.379 0.372 0.355 0.329 0.295 0.252 0.203 0.15 0.097 0.05 0.016 0.001 0.006 0.032 0.074 0.125 0.179 0.23 0.276 0.315 0.344 0.365 0.377 0.38 0.374 0.359 0.335 0.302 0.261 0.212 0.159 0.106 0.057 0.021 0.002 0.004 0.026 0.065 0.115 0.169 0.221 0.269 0.308 0.34 0.362 0.375 0.38"/><feFuncG type="table" tableValues="0.38 0.376 0.363 0.34 0.309 0.27 0.223 0.17 0.117 0.067 0.027 0.004 0.002 0.02 0.056 0.104 0.158 0.211 0.259 0.301 0.334 0.358 0.373 0.38 0.377 0.366 0.345 0.315 0.277 0.231 0.18 0.126 0.075 0.033 0.007 0 0.015 0.049 0.095 0.148 0.202 0.251 0.294 0.329 0.355 0.371 0.379 0.378 0.368 0.349 0.321 0.285 0.24 0.189 0.136 0.084 0.04 0.01 0 0.011 0.042 0.086 0.138 0.192 0.243 0.287 0.323 0.351 0.369 0.379 0.379 0.371 0.354 0.328 0.293 0.25 0.2 0.146 0.093 0.047 0.014 0 0.008 0.036 0.081 0.135 0.194 0.252 0.305 0.353 0.392 0.425 0.449 0.464 0.471 0.469 0.455 0.429 0.389 0.333 0.263 0.183 0.103 0.038 0.003 0.011 0.066 0.165 0.291 0.423 0.544 0.642 0.715 0.766 0.798 0.816 0.821 0.814 0.795 0.76 0.706 0.629 0.527 0.403 0.27 0.147 0.055 0.006 0.005 0.046 0.115 0.196 0.275 0.343 0.396 0.434 0.458 0.47 0.471 0.462 0.445 0.42 0.387 0.346 0.297 0.243 0.185 0.126 0.073 0.031 0.005 0.001 0.018 0.054 0.101 0.155 0.208 0.257 0.299 0.332 0.357 0.373 0.38 0.378 0.367 0.347 0.318 0.281 0.235 0.184 0.13 0.079 0.036 0.008 0 0.014 0.046 0.091 0.144 0.198 0.248 0.291 0.326 0.353 0.37 0.379 0.379 0.369 0.351 0.324 0.288 0.244 0.194 0.14 0.088 0.043 0.012 0 0.01 0.039 0.082 0.134 0.188 0.239 0.284 0.321 0.349 0.368 0.378 0.379 0.372 0.355 0.329 0.295 0.252 0.203 0.15 0.097 0.05 0.016 0.001 0.006 0.032 0.074 0.125 0.179 0.23 0.276 0.315 0.344 0.365 0.377 0.38 0.374 0.359 0.335 0.302 0.261 0.212 0.159 0.106 0.057 0.021 0.002 0.004 0.026 0.065 0.115 0.169 0.221 0.269 0.308 0.34 0.362 0.375 0.38"/><feFuncB type="table" tableValues="0.38 0.376 0.363 0.34 0.309 0.27 0.223 0.17 0.117 0.067 0.027 0.004 0.002 0.02 0.056 0.104 0.158 0.211 0.259 0.301 0.334 0.358 0.373 0.38 0.377 0.366 0.345 0.315 0.277 0.231 0.18 0.126 0.075 0.033 0.007 0 0.015 0.049 0.095 0.148 0.202 0.251 0.294 0.329 0.355 0.371 0.379 0.378 0.368 0.349 0.321 0.285 0.24 0.189 0.136 0.084 0.04 0.01 0 0.011 0.042 0.086 0.138 0.192 0.243 0.287 0.323 0.351 0.369 0.379 0.379 0.371 0.354 0.328 0.293 0.25 0.2 0.146 0.093 0.047 0.014 0 0.008 0.036 0.081 0.135 0.194 0.252 0.305 0.353 0.392 0.425 0.449 0.464 0.471 0.469 0.455 0.429 0.389 0.333 0.263 0.183 0.103 0.038 0.003 0.011 0.066 0.165 0.291 0.423 0.544 0.642 0.715 0.766 0.798 0.816 0.821 0.814 0.795 0.76 0.706 0.629 0.527 0.403 0.27 0.147 0.055 0.006 0.005 0.046 0.115 0.196 0.275 0.343 0.396 0.434 0.458 0.47 0.471 0.462 0.445 0.42 0.387 0.346 0.297 0.243 0.185 0.126 0.073 0.031 0.005 0.001 0.018 0.054 0.101 0.155 0.208 0.257 0.299 0.332 0.357 0.373 0.38 0.378 0.367 0.347 0.318 0.281 0.235 0.184 0.13 0.079 0.036 0.008 0 0.014 0.046 0.091 0.144 0.198 0.248 0.291 0.326 0.353 0.37 0.379 0.379 0.369 0.351 0.324 0.288 0.244 0.194 0.14 0.088 0.043 0.012 0 0.01 0.039 0.082 0.134 0.188 0.239 0.284 0.321 0.349 0.368 0.378 0.379 0.372 0.355 0.329 0.295 0.252 0.203 0.15 0.097 0.05 0.016 0.001 0.006 0.032 0.074 0.125 0.179 0.23 0.276 0.315 0.344 0.365 0.377 0.38 0.374 0.359 0.335 0.302 0.261 0.212 0.159 0.106 0.057 0.021 0.002 0.004 0.026 0.065 0.115 0.169 0.221 0.269 0.308 0.34 0.362 0.375 0.38"/></feComponentTransfer><feGaussianBlur stdDeviation="1"/></filter><linearGradient id="eae4" gradientUnits="userSpaceOnUse" x1="73.8" x2="314" y1="0" y2="0"><stop offset="-0.0079" stop-color="#000" stop-opacity="0.919"/><stop offset="0.0274" stop-color="#000" stop-opacity="0.832"/><stop offset="0.0626" stop-color="#000" stop-opacity="0.701"/><stop offset="0.1244" stop-color="#000" stop-opacity="0.643"/><stop offset="0.1684" stop-color="#000" stop-opacity="0.515"/><stop offset="0.2125" stop-color="#000" stop-opacity="0.384"/><stop offset="0.2654" stop-color="#000" stop-opacity="0.24"/><stop offset="0.3359" stop-color="#000" stop-opacity="0.069"/><stop offset="0.4065" stop-color="#000" stop-opacity="0.048"/><stop offset="0.477" stop-color="#000" stop-opacity="0.048"/><stop offset="0.618" stop-color="#000" stop-opacity="0.048"/><stop offset="0.7943" stop-color="#000" stop-opacity="0.081"/><stop offset="1.0059" stop-color="#000" stop-opacity="0.223"/></linearGradient><linearGradient id="ebe4" gradientUnits="userSpaceOnUse" x1="73.8" x2="314" y1="0" y2="0"><stop offset="-0.0079" stop-color="#fff" stop-opacity="0.03"/><stop offset="0.0274" stop-color="#fff" stop-opacity="0.06"/><stop offset="0.0626" stop-color="#fff" stop-opacity="0.12"/><stop offset="0.1244" stop-color="#fff" stop-opacity="0.19"/><stop offset="0.1684" stop-color="#fff" stop-opacity="0.24"/><stop offset="0.2125" stop-color="#fff" stop-opacity="0.295"/><stop offset="0.2654" stop-color="#fff" stop-opacity="0.325"/><stop offset="0.3359" stop-color="#fff" stop-opacity="0.35"/><stop offset="0.4065" stop-color="#fff" stop-opacity="0.37"/><stop offset="0.477" stop-color="#fff" stop-opacity="0.37"/><stop offset="0.618" stop-color="#fff" stop-opacity="0.37"/><stop offset="0.7943" stop-color="#fff" stop-opacity="0.37"/><stop offset="1.0059" stop-color="#fff" stop-opacity="0.39"/></linearGradient><clipPath id="cle4"><rect x="73.8" y="760.8" width="240.2" height="240.9"/></clipPath><linearGradient id="tce4" gradientUnits="userSpaceOnUse" x1="0" x2="0" y1="760.8" y2="1001.7"><stop offset="0" stop-color="#9e9e9e"/><stop offset="0.1145" stop-color="#a8a8a8"/><stop offset="0.2072" stop-color="#b2b2b2"/><stop offset="0.2998" stop-color="#cccccc"/><stop offset="0.3758" stop-color="#ffffff"/><stop offset="0.4564" stop-color="#ffffff"/><stop offset="0.4944" stop-color="#c2c2c2"/><stop offset="1" stop-color="#b8b8b8"/></linearGradient><linearGradient id="gxe5" gradientUnits="userSpaceOnUse" x1="317.4" x2="557.6" y1="0" y2="0"><stop offset="0" stop-color="#000000"/><stop offset="0.0313" stop-color="#131313"/><stop offset="0.0625" stop-color="#242424"/><stop offset="0.0938" stop-color="#323232"/><stop offset="0.125" stop-color="#3f3f3f"/><stop offset="0.1563" stop-color="#4a4a4a"/><stop offset="0.1875" stop-color="#545454"/><stop offset="0.2188" stop-color="#5c5c5c"/><stop offset="0.25" stop-color="#646464"/><stop offset="0.2812" stop-color="#6b6b6b"/><stop offset="0.3125" stop-color="#727272"/><stop offset="0.3437" stop-color="#787878"/><stop offset="0.375" stop-color="#7d7d7d"/><stop offset="0.4062" stop-color="#828282"/><stop offset="0.4375" stop-color="#878787"/><stop offset="0.4688" stop-color="#8b8b8b"/><stop offset="0.5" stop-color="#8f8f8f"/><stop offset="0.5312" stop-color="#939393"/><stop offset="0.5625" stop-color="#979797"/><stop offset="0.5938" stop-color="#9a9a9a"/><stop offset="0.625" stop-color="#9d9d9d"/><stop offset="0.6562" stop-color="#a0a0a0"/><stop offset="0.6875" stop-color="#a2a2a2"/><stop offset="0.7188" stop-color="#a5a5a5"/><stop offset="0.75" stop-color="#a7a7a7"/><stop offset="0.7812" stop-color="#aaaaaa"/><stop offset="0.8125" stop-color="#acacac"/><stop offset="0.8438" stop-color="#aeaeae"/><stop offset="0.875" stop-color="#b0b0b0"/><stop offset="0.9063" stop-color="#b2b2b2"/><stop offset="0.9375" stop-color="#b4b4b4"/><stop offset="0.9687" stop-color="#b5b5b5"/><stop offset="1" stop-color="#b7b7b7"/></linearGradient><linearGradient id="gye5" gradientUnits="userSpaceOnUse" x1="0" x2="0" y1="760.8" y2="1001.7"><stop offset="0" stop-color="#fff" stop-opacity="0.1274"/><stop offset="0.1007" stop-color="#fff" stop-opacity="0.1152"/><stop offset="0.1816" stop-color="#fff" stop-opacity="0.0976"/><stop offset="0.2428" stop-color="#fff" stop-opacity="0.0805"/><stop offset="0.3248" stop-color="#fff" stop-opacity="0.0496"/><stop offset="0.3643" stop-color="#fff" stop-opacity="0.0278"/><stop offset="0.3975" stop-color="#fff" stop-opacity="0.0022"/><stop offset="0.4016" stop-color="#fff" stop-opacity="0.002"/><stop offset="0.4068" stop-color="#fff" stop-opacity="0.0083"/><stop offset="0.4099" stop-color="#fff" stop-opacity="0.0199"/><stop offset="0.411" stop-color="#fff" stop-opacity="0.0312"/><stop offset="0.412" stop-color="#fff" stop-opacity="0.0584"/><stop offset="0.4141" stop-color="#fff" stop-opacity="0.0887"/><stop offset="0.4161" stop-color="#fff" stop-opacity="0.125"/><stop offset="0.4172" stop-color="#fff" stop-opacity="0.1283"/><stop offset="0.4213" stop-color="#fff" stop-opacity="0.1342"/><stop offset="0.4649" stop-color="#fff" stop-opacity="0.1314"/><stop offset="0.466" stop-color="#fff" stop-opacity="0.1338"/><stop offset="0.467" stop-color="#fff" stop-opacity="0.1406"/><stop offset="0.468" stop-color="#fff" stop-opacity="0.1566"/><stop offset="0.4691" stop-color="#fff" stop-opacity="0.1696"/><stop offset="0.4701" stop-color="#fff" stop-opacity="0.1737"/><stop offset="0.4711" stop-color="#fff" stop-opacity="0.1749"/><stop offset="0.5189" stop-color="#fff" stop-opacity="0.1691"/><stop offset="0.5293" stop-color="#fff" stop-opacity="0.1738"/><stop offset="0.5303" stop-color="#fff" stop-opacity="0.1848"/><stop offset="0.5313" stop-color="#fff" stop-opacity="0.1891"/><stop offset="0.5396" stop-color="#fff" stop-opacity="0.1952"/><stop offset="0.5739" stop-color="#fff" stop-opacity="0.1943"/><stop offset="0.5915" stop-color="#fff" stop-opacity="0.1967"/><stop offset="0.5936" stop-color="#fff" stop-opacity="0.2057"/><stop offset="0.5957" stop-color="#fff" stop-opacity="0.2255"/><stop offset="0.6092" stop-color="#fff" stop-opacity="0.2321"/><stop offset="0.6382" stop-color="#fff" stop-opacity="0.2361"/><stop offset="0.6642" stop-color="#fff" stop-opacity="0.2475"/><stop offset="0.7067" stop-color="#fff" stop-opacity="0.2456"/><stop offset="0.7347" stop-color="#fff" stop-opacity="0.2485"/><stop offset="0.7451" stop-color="#fff" stop-opacity="0.2825"/><stop offset="0.7513" stop-color="#fff" stop-opacity="0.2908"/><stop offset="1" stop-color="#fff" stop-opacity="0.2973"/></linearGradient><filter id="fre5" color-interpolation-filters="sRGB" x="0" y="0" width="1" height="1"><feComponentTransfer><feFuncR type="table" tableValues="0.338 0.306 0.266 0.219 0.168 0.114 0.065 0.027 0.004 0.002 0.02 0.055 0.102 0.155 0.207 0.256 0.297 0.331 0.356 0.372 0.379 0.378 0.368 0.349 0.322 0.286 0.242 0.192 0.139 0.087 0.043 0.012 0 0.009 0.037 0.079 0.13 0.183 0.234 0.279 0.316 0.345 0.366 0.377 0.38 0.374 0.359 0.336 0.304 0.263 0.216 0.164 0.111 0.062 0.024 0.003 0.002 0.022 0.058 0.106 0.159 0.211 0.259 0.3 0.333 0.357 0.373 0.38 0.378 0.367 0.348 0.32 0.284 0.239 0.189 0.136 0.085 0.041 0.011 0 0.01 0.04 0.086 0.14 0.197 0.254 0.305 0.351 0.389 0.419 0.441 0.456 0.461 0.458 0.444 0.418 0.379 0.325 0.259 0.183 0.106 0.042 0.005 0.006 0.051 0.136 0.25 0.374 0.492 0.592 0.669 0.725 0.762 0.784 0.793 0.789 0.773 0.743 0.695 0.627 0.537 0.426 0.302 0.182 0.082 0.02 0 0.022 0.077 0.15 0.228 0.299 0.358 0.403 0.434 0.453 0.461 0.459 0.449 0.429 0.402 0.368 0.325 0.276 0.222 0.164 0.108 0.058 0.021 0.002 0.004 0.026 0.065 0.114 0.167 0.219 0.266 0.306 0.337 0.36 0.375 0.38 0.377 0.365 0.344 0.315 0.277 0.232 0.181 0.128 0.077 0.035 0.008 0 0.013 0.045 0.089 0.141 0.194 0.244 0.287 0.323 0.35 0.369 0.378 0.379 0.371 0.355 0.33 0.296 0.254 0.205 0.152 0.1 0.053 0.018 0.001 0.005 0.028 0.067 0.117 0.17 0.221 0.268 0.308 0.339 0.361 0.375 0.38 0.376 0.364 0.342 0.312 0.274 0.228 0.177 0.124 0.074 0.033 0.007 0 0.015 0.047 0.093 0.145 0.198 0.247 0.29 0.325 0.352 0.37 0.379 0.379 0.371 0.353 0.327 0.293 0.25 0.202 0.149 0.096 0.05 0.017 0.001 0.006 0.03 0.071 0.12 0.173 0.225 0.271 0.31 0.341 0.363 0.376 0.38"/><feFuncG type="table" tableValues="0.338 0.306 0.266 0.219 0.168 0.114 0.065 0.027 0.004 0.002 0.02 0.055 0.102 0.155 0.207 0.256 0.297 0.331 0.356 0.372 0.379 0.378 0.368 0.349 0.322 0.286 0.242 0.192 0.139 0.087 0.043 0.012 0 0.009 0.037 0.079 0.13 0.183 0.234 0.279 0.316 0.345 0.366 0.377 0.38 0.374 0.359 0.336 0.304 0.263 0.216 0.164 0.111 0.062 0.024 0.003 0.002 0.022 0.058 0.106 0.159 0.211 0.259 0.3 0.333 0.357 0.373 0.38 0.378 0.367 0.348 0.32 0.284 0.239 0.189 0.136 0.085 0.041 0.011 0 0.01 0.04 0.086 0.14 0.197 0.254 0.305 0.351 0.389 0.419 0.441 0.456 0.461 0.458 0.444 0.418 0.379 0.325 0.259 0.183 0.106 0.042 0.005 0.006 0.051 0.136 0.25 0.374 0.492 0.592 0.669 0.725 0.762 0.784 0.793 0.789 0.773 0.743 0.695 0.627 0.537 0.426 0.302 0.182 0.082 0.02 0 0.022 0.077 0.15 0.228 0.299 0.358 0.403 0.434 0.453 0.461 0.459 0.449 0.429 0.402 0.368 0.325 0.276 0.222 0.164 0.108 0.058 0.021 0.002 0.004 0.026 0.065 0.114 0.167 0.219 0.266 0.306 0.337 0.36 0.375 0.38 0.377 0.365 0.344 0.315 0.277 0.232 0.181 0.128 0.077 0.035 0.008 0 0.013 0.045 0.089 0.141 0.194 0.244 0.287 0.323 0.35 0.369 0.378 0.379 0.371 0.355 0.33 0.296 0.254 0.205 0.152 0.1 0.053 0.018 0.001 0.005 0.028 0.067 0.117 0.17 0.221 0.268 0.308 0.339 0.361 0.375 0.38 0.376 0.364 0.342 0.312 0.274 0.228 0.177 0.124 0.074 0.033 0.007 0 0.015 0.047 0.093 0.145 0.198 0.247 0.29 0.325 0.352 0.37 0.379 0.379 0.371 0.353 0.327 0.293 0.25 0.202 0.149 0.096 0.05 0.017 0.001 0.006 0.03 0.071 0.12 0.173 0.225 0.271 0.31 0.341 0.363 0.376 0.38"/><feFuncB type="table" tableValues="0.338 0.306 0.266 0.219 0.168 0.114 0.065 0.027 0.004 0.002 0.02 0.055 0.102 0.155 0.207 0.256 0.297 0.331 0.356 0.372 0.379 0.378 0.368 0.349 0.322 0.286 0.242 0.192 0.139 0.087 0.043 0.012 0 0.009 0.037 0.079 0.13 0.183 0.234 0.279 0.316 0.345 0.366 0.377 0.38 0.374 0.359 0.336 0.304 0.263 0.216 0.164 0.111 0.062 0.024 0.003 0.002 0.022 0.058 0.106 0.159 0.211 0.259 0.3 0.333 0.357 0.373 0.38 0.378 0.367 0.348 0.32 0.284 0.239 0.189 0.136 0.085 0.041 0.011 0 0.01 0.04 0.086 0.14 0.197 0.254 0.305 0.351 0.389 0.419 0.441 0.456 0.461 0.458 0.444 0.418 0.379 0.325 0.259 0.183 0.106 0.042 0.005 0.006 0.051 0.136 0.25 0.374 0.492 0.592 0.669 0.725 0.762 0.784 0.793 0.789 0.773 0.743 0.695 0.627 0.537 0.426 0.302 0.182 0.082 0.02 0 0.022 0.077 0.15 0.228 0.299 0.358 0.403 0.434 0.453 0.461 0.459 0.449 0.429 0.402 0.368 0.325 0.276 0.222 0.164 0.108 0.058 0.021 0.002 0.004 0.026 0.065 0.114 0.167 0.219 0.266 0.306 0.337 0.36 0.375 0.38 0.377 0.365 0.344 0.315 0.277 0.232 0.181 0.128 0.077 0.035 0.008 0 0.013 0.045 0.089 0.141 0.194 0.244 0.287 0.323 0.35 0.369 0.378 0.379 0.371 0.355 0.33 0.296 0.254 0.205 0.152 0.1 0.053 0.018 0.001 0.005 0.028 0.067 0.117 0.17 0.221 0.268 0.308 0.339 0.361 0.375 0.38 0.376 0.364 0.342 0.312 0.274 0.228 0.177 0.124 0.074 0.033 0.007 0 0.015 0.047 0.093 0.145 0.198 0.247 0.29 0.325 0.352 0.37 0.379 0.379 0.371 0.353 0.327 0.293 0.25 0.202 0.149 0.096 0.05 0.017 0.001 0.006 0.03 0.071 0.12 0.173 0.225 0.271 0.31 0.341 0.363 0.376 0.38"/></feComponentTransfer><feGaussianBlur stdDeviation="1"/></filter><linearGradient id="eae5" gradientUnits="userSpaceOnUse" x1="317.4" x2="557.6" y1="0" y2="0"><stop offset="-0.0079" stop-color="#000" stop-opacity="0.919"/><stop offset="0.0274" stop-color="#000" stop-opacity="0.832"/><stop offset="0.0626" stop-color="#000" stop-opacity="0.701"/><stop offset="0.1244" stop-color="#000" stop-opacity="0.643"/><stop offset="0.1684" stop-color="#000" stop-opacity="0.515"/><stop offset="0.2125" stop-color="#000" stop-opacity="0.384"/><stop offset="0.2654" stop-color="#000" stop-opacity="0.24"/><stop offset="0.3359" stop-color="#000" stop-opacity="0.069"/><stop offset="0.4065" stop-color="#000" stop-opacity="0.048"/><stop offset="0.477" stop-color="#000" stop-opacity="0.048"/><stop offset="0.618" stop-color="#000" stop-opacity="0.048"/><stop offset="0.7943" stop-color="#000" stop-opacity="0.081"/><stop offset="1.0059" stop-color="#000" stop-opacity="0.223"/></linearGradient><linearGradient id="ebe5" gradientUnits="userSpaceOnUse" x1="317.4" x2="557.6" y1="0" y2="0"><stop offset="-0.0079" stop-color="#fff" stop-opacity="0.03"/><stop offset="0.0274" stop-color="#fff" stop-opacity="0.06"/><stop offset="0.0626" stop-color="#fff" stop-opacity="0.12"/><stop offset="0.1244" stop-color="#fff" stop-opacity="0.19"/><stop offset="0.1684" stop-color="#fff" stop-opacity="0.24"/><stop offset="0.2125" stop-color="#fff" stop-opacity="0.295"/><stop offset="0.2654" stop-color="#fff" stop-opacity="0.325"/><stop offset="0.3359" stop-color="#fff" stop-opacity="0.35"/><stop offset="0.4065" stop-color="#fff" stop-opacity="0.37"/><stop offset="0.477" stop-color="#fff" stop-opacity="0.37"/><stop offset="0.618" stop-color="#fff" stop-opacity="0.37"/><stop offset="0.7943" stop-color="#fff" stop-opacity="0.37"/><stop offset="1.0059" stop-color="#fff" stop-opacity="0.39"/></linearGradient><clipPath id="cle5"><rect x="317.4" y="760.8" width="240.2" height="240.9"/></clipPath><linearGradient id="tce5" gradientUnits="userSpaceOnUse" x1="0" x2="0" y1="760.8" y2="1001.7"><stop offset="0" stop-color="#9e9e9e"/><stop offset="0.0661" stop-color="#a8a8a8"/><stop offset="0.1588" stop-color="#b2b2b2"/><stop offset="0.2514" stop-color="#cccccc"/><stop offset="0.3273" stop-color="#ffffff"/><stop offset="0.408" stop-color="#ffffff"/><stop offset="0.4459" stop-color="#c2c2c2"/><stop offset="1" stop-color="#b8b8b8"/></linearGradient><linearGradient id="gxe6" gradientUnits="userSpaceOnUse" x1="561" x2="801.2" y1="0" y2="0"><stop offset="0" stop-color="#000000"/><stop offset="0.0313" stop-color="#131313"/><stop offset="0.0625" stop-color="#242424"/><stop offset="0.0937" stop-color="#323232"/><stop offset="0.125" stop-color="#3f3f3f"/><stop offset="0.1562" stop-color="#4a4a4a"/><stop offset="0.1875" stop-color="#545454"/><stop offset="0.2188" stop-color="#5c5c5c"/><stop offset="0.25" stop-color="#646464"/><stop offset="0.2812" stop-color="#6b6b6b"/><stop offset="0.3125" stop-color="#727272"/><stop offset="0.3438" stop-color="#787878"/><stop offset="0.375" stop-color="#7d7d7d"/><stop offset="0.4062" stop-color="#828282"/><stop offset="0.4375" stop-color="#878787"/><stop offset="0.4687" stop-color="#8b8b8b"/><stop offset="0.5" stop-color="#8f8f8f"/><stop offset="0.5313" stop-color="#939393"/><stop offset="0.5625" stop-color="#979797"/><stop offset="0.5938" stop-color="#9a9a9a"/><stop offset="0.625" stop-color="#9d9d9d"/><stop offset="0.6562" stop-color="#a0a0a0"/><stop offset="0.6875" stop-color="#a2a2a2"/><stop offset="0.7188" stop-color="#a5a5a5"/><stop offset="0.75" stop-color="#a7a7a7"/><stop offset="0.7812" stop-color="#aaaaaa"/><stop offset="0.8125" stop-color="#acacac"/><stop offset="0.8438" stop-color="#aeaeae"/><stop offset="0.875" stop-color="#b0b0b0"/><stop offset="0.9063" stop-color="#b2b2b2"/><stop offset="0.9375" stop-color="#b4b4b4"/><stop offset="0.9687" stop-color="#b5b5b5"/><stop offset="1" stop-color="#b7b7b7"/></linearGradient><linearGradient id="gye6" gradientUnits="userSpaceOnUse" x1="0" x2="0" y1="760.8" y2="1001.7"><stop offset="0" stop-color="#fff" stop-opacity="0.0922"/><stop offset="0.2221" stop-color="#fff" stop-opacity="0.0404"/><stop offset="0.2833" stop-color="#fff" stop-opacity="0.0226"/><stop offset="0.3414" stop-color="#fff" stop-opacity="0.002"/><stop offset="0.3477" stop-color="#fff" stop-opacity="0.0032"/><stop offset="0.3487" stop-color="#fff" stop-opacity="0.0052"/><stop offset="0.3497" stop-color="#fff" stop-opacity="0.0162"/><stop offset="0.3508" stop-color="#fff" stop-opacity="0.0313"/><stop offset="0.3518" stop-color="#fff" stop-opacity="0.0367"/><stop offset="0.3528" stop-color="#fff" stop-opacity="0.0389"/><stop offset="0.3757" stop-color="#fff" stop-opacity="0.0417"/><stop offset="0.3767" stop-color="#fff" stop-opacity="0.0571"/><stop offset="0.3778" stop-color="#fff" stop-opacity="0.0598"/><stop offset="0.4141" stop-color="#fff" stop-opacity="0.0782"/><stop offset="0.4151" stop-color="#fff" stop-opacity="0.0813"/><stop offset="0.4161" stop-color="#fff" stop-opacity="0.0895"/><stop offset="0.4172" stop-color="#fff" stop-opacity="0.0907"/><stop offset="0.4514" stop-color="#fff" stop-opacity="0.0959"/><stop offset="0.4525" stop-color="#fff" stop-opacity="0.0973"/><stop offset="0.4556" stop-color="#fff" stop-opacity="0.1136"/><stop offset="0.4878" stop-color="#fff" stop-opacity="0.1193"/><stop offset="0.4888" stop-color="#fff" stop-opacity="0.1209"/><stop offset="0.4909" stop-color="#fff" stop-opacity="0.1287"/><stop offset="0.4919" stop-color="#fff" stop-opacity="0.137"/><stop offset="0.4929" stop-color="#fff" stop-opacity="0.1421"/><stop offset="0.5241" stop-color="#fff" stop-opacity="0.1543"/><stop offset="0.5334" stop-color="#fff" stop-opacity="0.1651"/><stop offset="0.5511" stop-color="#fff" stop-opacity="0.1758"/><stop offset="0.6351" stop-color="#fff" stop-opacity="0.2011"/><stop offset="0.6517" stop-color="#fff" stop-opacity="0.2112"/><stop offset="0.6673" stop-color="#fff" stop-opacity="0.2263"/><stop offset="0.6901" stop-color="#fff" stop-opacity="0.2304"/><stop offset="0.8053" stop-color="#fff" stop-opacity="0.2346"/><stop offset="1" stop-color="#fff" stop-opacity="0.2377"/></linearGradient><filter id="fre6" color-interpolation-filters="sRGB" x="0" y="0" width="1" height="1"><feComponentTransfer><feFuncR type="table" tableValues="0.38 0.378 0.369 0.352 0.328 0.297 0.259 0.215 0.167 0.118 0.072 0.034 0.009 0 0.009 0.034 0.072 0.118 0.167 0.215 0.259 0.297 0.328 0.352 0.369 0.378 0.38 0.374 0.361 0.34 0.312 0.277 0.236 0.19 0.141 0.093 0.051 0.019 0.002 0.003 0.02 0.053 0.096 0.144 0.192 0.239 0.28 0.314 0.342 0.362 0.375 0.38 0.378 0.368 0.351 0.327 0.295 0.257 0.212 0.164 0.115 0.07 0.032 0.008 0 0.01 0.036 0.075 0.122 0.173 0.222 0.268 0.308 0.342 0.369 0.389 0.402 0.407 0.405 0.396 0.379 0.353 0.319 0.276 0.226 0.17 0.114 0.063 0.023 0.002 0.004 0.03 0.079 0.143 0.215 0.29 0.36 0.421 0.472 0.512 0.54 0.558 0.565 0.561 0.547 0.522 0.486 0.438 0.38 0.312 0.239 0.165 0.097 0.043 0.01 0 0.014 0.049 0.097 0.153 0.209 0.261 0.306 0.343 0.371 0.391 0.403 0.407 0.404 0.394 0.376 0.351 0.32 0.281 0.237 0.188 0.138 0.089 0.047 0.016 0.001 0.004 0.023 0.057 0.101 0.149 0.198 0.243 0.284 0.318 0.344 0.364 0.376 0.38 0.377 0.367 0.349 0.324 0.291 0.252 0.207 0.159 0.11 0.065 0.029 0.006 0 0.012 0.039 0.079 0.126 0.175 0.222 0.265 0.302 0.332 0.355 0.371 0.379 0.379 0.372 0.358 0.337 0.307 0.271 0.229 0.182 0.133 0.086 0.045 0.015 0.001 0.004 0.025 0.059 0.103 0.151 0.2 0.245 0.286 0.319 0.345 0.364 0.376 0.38 0.377 0.366 0.348 0.322 0.289 0.25 0.205 0.156 0.108 0.063 0.028 0.006 0 0.013 0.041 0.081 0.128 0.177 0.224 0.267 0.304 0.334 0.356 0.371 0.379 0.379 0.372 0.357 0.335 0.306 0.269 0.227 0.18 0.131 0.083 0.043 0.014 0.001 0.005 0.026 0.061 0.105 0.154 0.202 0.248 0.287 0.321 0.347 0.365 0.376 0.38"/><feFuncG type="table" tableValues="0.38 0.378 0.369 0.352 0.328 0.297 0.259 0.215 0.167 0.118 0.072 0.034 0.009 0 0.009 0.034 0.072 0.118 0.167 0.215 0.259 0.297 0.328 0.352 0.369 0.378 0.38 0.374 0.361 0.34 0.312 0.277 0.236 0.19 0.141 0.093 0.051 0.019 0.002 0.003 0.02 0.053 0.096 0.144 0.192 0.239 0.28 0.314 0.342 0.362 0.375 0.38 0.378 0.368 0.351 0.327 0.295 0.257 0.212 0.164 0.115 0.07 0.032 0.008 0 0.01 0.036 0.075 0.122 0.173 0.222 0.268 0.308 0.342 0.369 0.389 0.402 0.407 0.405 0.396 0.379 0.353 0.319 0.276 0.226 0.17 0.114 0.063 0.023 0.002 0.004 0.03 0.079 0.143 0.215 0.29 0.36 0.421 0.472 0.512 0.54 0.558 0.565 0.561 0.547 0.522 0.486 0.438 0.38 0.312 0.239 0.165 0.097 0.043 0.01 0 0.014 0.049 0.097 0.153 0.209 0.261 0.306 0.343 0.371 0.391 0.403 0.407 0.404 0.394 0.376 0.351 0.32 0.281 0.237 0.188 0.138 0.089 0.047 0.016 0.001 0.004 0.023 0.057 0.101 0.149 0.198 0.243 0.284 0.318 0.344 0.364 0.376 0.38 0.377 0.367 0.349 0.324 0.291 0.252 0.207 0.159 0.11 0.065 0.029 0.006 0 0.012 0.039 0.079 0.126 0.175 0.222 0.265 0.302 0.332 0.355 0.371 0.379 0.379 0.372 0.358 0.337 0.307 0.271 0.229 0.182 0.133 0.086 0.045 0.015 0.001 0.004 0.025 0.059 0.103 0.151 0.2 0.245 0.286 0.319 0.345 0.364 0.376 0.38 0.377 0.366 0.348 0.322 0.289 0.25 0.205 0.156 0.108 0.063 0.028 0.006 0 0.013 0.041 0.081 0.128 0.177 0.224 0.267 0.304 0.334 0.356 0.371 0.379 0.379 0.372 0.357 0.335 0.306 0.269 0.227 0.18 0.131 0.083 0.043 0.014 0.001 0.005 0.026 0.061 0.105 0.154 0.202 0.248 0.287 0.321 0.347 0.365 0.376 0.38"/><feFuncB type="table" tableValues="0.38 0.378 0.369 0.352 0.328 0.297 0.259 0.215 0.167 0.118 0.072 0.034 0.009 0 0.009 0.034 0.072 0.118 0.167 0.215 0.259 0.297 0.328 0.352 0.369 0.378 0.38 0.374 0.361 0.34 0.312 0.277 0.236 0.19 0.141 0.093 0.051 0.019 0.002 0.003 0.02 0.053 0.096 0.144 0.192 0.239 0.28 0.314 0.342 0.362 0.375 0.38 0.378 0.368 0.351 0.327 0.295 0.257 0.212 0.164 0.115 0.07 0.032 0.008 0 0.01 0.036 0.075 0.122 0.173 0.222 0.268 0.308 0.342 0.369 0.389 0.402 0.407 0.405 0.396 0.379 0.353 0.319 0.276 0.226 0.17 0.114 0.063 0.023 0.002 0.004 0.03 0.079 0.143 0.215 0.29 0.36 0.421 0.472 0.512 0.54 0.558 0.565 0.561 0.547 0.522 0.486 0.438 0.38 0.312 0.239 0.165 0.097 0.043 0.01 0 0.014 0.049 0.097 0.153 0.209 0.261 0.306 0.343 0.371 0.391 0.403 0.407 0.404 0.394 0.376 0.351 0.32 0.281 0.237 0.188 0.138 0.089 0.047 0.016 0.001 0.004 0.023 0.057 0.101 0.149 0.198 0.243 0.284 0.318 0.344 0.364 0.376 0.38 0.377 0.367 0.349 0.324 0.291 0.252 0.207 0.159 0.11 0.065 0.029 0.006 0 0.012 0.039 0.079 0.126 0.175 0.222 0.265 0.302 0.332 0.355 0.371 0.379 0.379 0.372 0.358 0.337 0.307 0.271 0.229 0.182 0.133 0.086 0.045 0.015 0.001 0.004 0.025 0.059 0.103 0.151 0.2 0.245 0.286 0.319 0.345 0.364 0.376 0.38 0.377 0.366 0.348 0.322 0.289 0.25 0.205 0.156 0.108 0.063 0.028 0.006 0 0.013 0.041 0.081 0.128 0.177 0.224 0.267 0.304 0.334 0.356 0.371 0.379 0.379 0.372 0.357 0.335 0.306 0.269 0.227 0.18 0.131 0.083 0.043 0.014 0.001 0.005 0.026 0.061 0.105 0.154 0.202 0.248 0.287 0.321 0.347 0.365 0.376 0.38"/></feComponentTransfer><feGaussianBlur stdDeviation="1"/></filter><linearGradient id="eae6" gradientUnits="userSpaceOnUse" x1="561" x2="801.2" y1="0" y2="0"><stop offset="-0.0079" stop-color="#000" stop-opacity="0.919"/><stop offset="0.0274" stop-color="#000" stop-opacity="0.776"/><stop offset="0.0626" stop-color="#000" stop-opacity="0.462"/><stop offset="0.1244" stop-color="#000" stop-opacity="0.342"/><stop offset="0.1684" stop-color="#000" stop-opacity="0.228"/><stop offset="0.2125" stop-color="#000" stop-opacity="0.235"/><stop offset="0.2654" stop-color="#000" stop-opacity="0.123"/><stop offset="0.3659" stop-color="#000" stop-opacity="0.047"/><stop offset="0.477" stop-color="#000" stop-opacity="0.048"/><stop offset="0.618" stop-color="#000" stop-opacity="0.048"/><stop offset="0.7943" stop-color="#000" stop-opacity="0.081"/><stop offset="1.0059" stop-color="#000" stop-opacity="0.223"/></linearGradient><linearGradient id="ebe6" gradientUnits="userSpaceOnUse" x1="561" x2="801.2" y1="0" y2="0"><stop offset="-0.0079" stop-color="#fff" stop-opacity="0.03"/><stop offset="0.0274" stop-color="#fff" stop-opacity="0.06"/><stop offset="0.0626" stop-color="#fff" stop-opacity="0.12"/><stop offset="0.1244" stop-color="#fff" stop-opacity="0.2"/><stop offset="0.1684" stop-color="#fff" stop-opacity="0.25"/><stop offset="0.2125" stop-color="#fff" stop-opacity="0.295"/><stop offset="0.2654" stop-color="#fff" stop-opacity="0.325"/><stop offset="0.3659" stop-color="#fff" stop-opacity="0.36"/><stop offset="0.477" stop-color="#fff" stop-opacity="0.37"/><stop offset="0.618" stop-color="#fff" stop-opacity="0.37"/><stop offset="0.7943" stop-color="#fff" stop-opacity="0.37"/><stop offset="1.0059" stop-color="#fff" stop-opacity="0.39"/></linearGradient><clipPath id="cle6"><rect x="561" y="760.8" width="240.2" height="240.9"/></clipPath><linearGradient id="gxe7" gradientUnits="userSpaceOnUse" x1="804.6" x2="1044.8" y1="0" y2="0"><stop offset="0" stop-color="#000000"/><stop offset="0.0313" stop-color="#131313"/><stop offset="0.0625" stop-color="#242424"/><stop offset="0.0937" stop-color="#323232"/><stop offset="0.125" stop-color="#3f3f3f"/><stop offset="0.1562" stop-color="#4a4a4a"/><stop offset="0.1875" stop-color="#545454"/><stop offset="0.2188" stop-color="#5c5c5c"/><stop offset="0.25" stop-color="#646464"/><stop offset="0.2812" stop-color="#6b6b6b"/><stop offset="0.3125" stop-color="#727272"/><stop offset="0.3438" stop-color="#787878"/><stop offset="0.375" stop-color="#7d7d7d"/><stop offset="0.4062" stop-color="#828282"/><stop offset="0.4375" stop-color="#878787"/><stop offset="0.4687" stop-color="#8b8b8b"/><stop offset="0.5" stop-color="#8f8f8f"/><stop offset="0.5313" stop-color="#939393"/><stop offset="0.5625" stop-color="#979797"/><stop offset="0.5938" stop-color="#9a9a9a"/><stop offset="0.625" stop-color="#9d9d9d"/><stop offset="0.6562" stop-color="#a0a0a0"/><stop offset="0.6875" stop-color="#a2a2a2"/><stop offset="0.7188" stop-color="#a5a5a5"/><stop offset="0.75" stop-color="#a7a7a7"/><stop offset="0.7812" stop-color="#aaaaaa"/><stop offset="0.8125" stop-color="#acacac"/><stop offset="0.8438" stop-color="#aeaeae"/><stop offset="0.875" stop-color="#b0b0b0"/><stop offset="0.9063" stop-color="#b2b2b2"/><stop offset="0.9375" stop-color="#b4b4b4"/><stop offset="0.9688" stop-color="#b5b5b5"/><stop offset="1" stop-color="#b7b7b7"/></linearGradient><linearGradient id="gye7" gradientUnits="userSpaceOnUse" x1="0" x2="0" y1="760.8" y2="1001.7"><stop offset="0" stop-color="#fff" stop-opacity="0.0716"/><stop offset="0.2833" stop-color="#fff" stop-opacity="0.0065"/><stop offset="0.3072" stop-color="#fff" stop-opacity="0.002"/><stop offset="0.3186" stop-color="#fff" stop-opacity="0.0027"/><stop offset="0.3227" stop-color="#fff" stop-opacity="0.0166"/><stop offset="0.3362" stop-color="#fff" stop-opacity="0.0182"/><stop offset="0.3456" stop-color="#fff" stop-opacity="0.024"/><stop offset="0.3477" stop-color="#fff" stop-opacity="0.038"/><stop offset="0.3684" stop-color="#fff" stop-opacity="0.0486"/><stop offset="0.3746" stop-color="#fff" stop-opacity="0.0489"/><stop offset="0.3778" stop-color="#fff" stop-opacity="0.0619"/><stop offset="0.3809" stop-color="#fff" stop-opacity="0.0718"/><stop offset="0.4027" stop-color="#fff" stop-opacity="0.0758"/><stop offset="0.4234" stop-color="#fff" stop-opacity="0.0955"/><stop offset="0.4369" stop-color="#fff" stop-opacity="0.1029"/><stop offset="0.4608" stop-color="#fff" stop-opacity="0.1223"/><stop offset="0.4878" stop-color="#fff" stop-opacity="0.1346"/><stop offset="0.4981" stop-color="#fff" stop-opacity="0.1428"/><stop offset="0.5158" stop-color="#fff" stop-opacity="0.1502"/><stop offset="0.5199" stop-color="#fff" stop-opacity="0.148"/><stop offset="0.5459" stop-color="#fff" stop-opacity="0.1551"/><stop offset="0.5739" stop-color="#fff" stop-opacity="0.1657"/><stop offset="0.5978" stop-color="#fff" stop-opacity="0.1817"/><stop offset="0.6227" stop-color="#fff" stop-opacity="0.1897"/><stop offset="0.6611" stop-color="#fff" stop-opacity="0.1976"/><stop offset="0.7763" stop-color="#fff" stop-opacity="0.2026"/><stop offset="1" stop-color="#fff" stop-opacity="0.2053"/></linearGradient><filter id="fre7" color-interpolation-filters="sRGB" x="0" y="0" width="1" height="1"><feComponentTransfer><feFuncR type="table" tableValues="0.042 0.014 0.001 0.004 0.022 0.054 0.094 0.14 0.187 0.232 0.272 0.307 0.335 0.356 0.371 0.379 0.38 0.374 0.361 0.342 0.315 0.282 0.244 0.2 0.153 0.107 0.064 0.029 0.007 0 0.009 0.033 0.069 0.113 0.159 0.206 0.249 0.287 0.319 0.344 0.363 0.375 0.38 0.378 0.369 0.354 0.332 0.303 0.267 0.227 0.181 0.134 0.089 0.049 0.019 0.002 0.002 0.017 0.047 0.086 0.132 0.18 0.225 0.267 0.304 0.334 0.358 0.375 0.385 0.389 0.386 0.376 0.359 0.335 0.304 0.266 0.222 0.174 0.125 0.078 0.039 0.011 0 0.007 0.031 0.071 0.12 0.174 0.23 0.282 0.328 0.368 0.399 0.423 0.438 0.446 0.445 0.436 0.42 0.395 0.362 0.322 0.274 0.221 0.166 0.112 0.064 0.027 0.005 0.001 0.015 0.044 0.085 0.132 0.182 0.229 0.272 0.309 0.339 0.362 0.378 0.387 0.389 0.384 0.373 0.355 0.33 0.299 0.261 0.219 0.172 0.125 0.08 0.042 0.014 0.001 0.004 0.022 0.054 0.095 0.141 0.188 0.233 0.273 0.308 0.336 0.357 0.371 0.379 0.379 0.373 0.361 0.341 0.315 0.282 0.243 0.199 0.152 0.106 0.063 0.029 0.007 0 0.01 0.034 0.07 0.114 0.16 0.207 0.25 0.288 0.32 0.345 0.363 0.375 0.38 0.378 0.369 0.354 0.331 0.302 0.267 0.226 0.18 0.133 0.088 0.048 0.018 0.002 0.002 0.018 0.047 0.087 0.132 0.179 0.225 0.266 0.301 0.331 0.353 0.369 0.378 0.38 0.375 0.364 0.345 0.32 0.288 0.251 0.208 0.161 0.115 0.071 0.035 0.01 0 0.007 0.028 0.062 0.105 0.151 0.198 0.242 0.281 0.314 0.341 0.36 0.373 0.379 0.379 0.371 0.357 0.336 0.308 0.274 0.234 0.189 0.142 0.096 0.055 0.023 0.004 0.001 0.014 0.041 0.079 0.123 0.17 0.216 0.258 0.295 0.326 0.349 0.366 0.377 0.38"/><feFuncG type="table" tableValues="0.042 0.014 0.001 0.004 0.022 0.054 0.094 0.14 0.187 0.232 0.272 0.307 0.335 0.356 0.371 0.379 0.38 0.374 0.361 0.342 0.315 0.282 0.244 0.2 0.153 0.107 0.064 0.029 0.007 0 0.009 0.033 0.069 0.113 0.159 0.206 0.249 0.287 0.319 0.344 0.363 0.375 0.38 0.378 0.369 0.354 0.332 0.303 0.267 0.227 0.181 0.134 0.089 0.049 0.019 0.002 0.002 0.017 0.047 0.086 0.132 0.18 0.225 0.267 0.304 0.334 0.358 0.375 0.385 0.389 0.386 0.376 0.359 0.335 0.304 0.266 0.222 0.174 0.125 0.078 0.039 0.011 0 0.007 0.031 0.071 0.12 0.174 0.23 0.282 0.328 0.368 0.399 0.423 0.438 0.446 0.445 0.436 0.42 0.395 0.362 0.322 0.274 0.221 0.166 0.112 0.064 0.027 0.005 0.001 0.015 0.044 0.085 0.132 0.182 0.229 0.272 0.309 0.339 0.362 0.378 0.387 0.389 0.384 0.373 0.355 0.33 0.299 0.261 0.219 0.172 0.125 0.08 0.042 0.014 0.001 0.004 0.022 0.054 0.095 0.141 0.188 0.233 0.273 0.308 0.336 0.357 0.371 0.379 0.379 0.373 0.361 0.341 0.315 0.282 0.243 0.199 0.152 0.106 0.063 0.029 0.007 0 0.01 0.034 0.07 0.114 0.16 0.207 0.25 0.288 0.32 0.345 0.363 0.375 0.38 0.378 0.369 0.354 0.331 0.302 0.267 0.226 0.18 0.133 0.088 0.048 0.018 0.002 0.002 0.018 0.047 0.087 0.132 0.179 0.225 0.266 0.301 0.331 0.353 0.369 0.378 0.38 0.375 0.364 0.345 0.32 0.288 0.251 0.208 0.161 0.115 0.071 0.035 0.01 0 0.007 0.028 0.062 0.105 0.151 0.198 0.242 0.281 0.314 0.341 0.36 0.373 0.379 0.379 0.371 0.357 0.336 0.308 0.274 0.234 0.189 0.142 0.096 0.055 0.023 0.004 0.001 0.014 0.041 0.079 0.123 0.17 0.216 0.258 0.295 0.326 0.349 0.366 0.377 0.38"/><feFuncB type="table" tableValues="0.042 0.014 0.001 0.004 0.022 0.054 0.094 0.14 0.187 0.232 0.272 0.307 0.335 0.356 0.371 0.379 0.38 0.374 0.361 0.342 0.315 0.282 0.244 0.2 0.153 0.107 0.064 0.029 0.007 0 0.009 0.033 0.069 0.113 0.159 0.206 0.249 0.287 0.319 0.344 0.363 0.375 0.38 0.378 0.369 0.354 0.332 0.303 0.267 0.227 0.181 0.134 0.089 0.049 0.019 0.002 0.002 0.017 0.047 0.086 0.132 0.18 0.225 0.267 0.304 0.334 0.358 0.375 0.385 0.389 0.386 0.376 0.359 0.335 0.304 0.266 0.222 0.174 0.125 0.078 0.039 0.011 0 0.007 0.031 0.071 0.12 0.174 0.23 0.282 0.328 0.368 0.399 0.423 0.438 0.446 0.445 0.436 0.42 0.395 0.362 0.322 0.274 0.221 0.166 0.112 0.064 0.027 0.005 0.001 0.015 0.044 0.085 0.132 0.182 0.229 0.272 0.309 0.339 0.362 0.378 0.387 0.389 0.384 0.373 0.355 0.33 0.299 0.261 0.219 0.172 0.125 0.08 0.042 0.014 0.001 0.004 0.022 0.054 0.095 0.141 0.188 0.233 0.273 0.308 0.336 0.357 0.371 0.379 0.379 0.373 0.361 0.341 0.315 0.282 0.243 0.199 0.152 0.106 0.063 0.029 0.007 0 0.01 0.034 0.07 0.114 0.16 0.207 0.25 0.288 0.32 0.345 0.363 0.375 0.38 0.378 0.369 0.354 0.331 0.302 0.267 0.226 0.18 0.133 0.088 0.048 0.018 0.002 0.002 0.018 0.047 0.087 0.132 0.179 0.225 0.266 0.301 0.331 0.353 0.369 0.378 0.38 0.375 0.364 0.345 0.32 0.288 0.251 0.208 0.161 0.115 0.071 0.035 0.01 0 0.007 0.028 0.062 0.105 0.151 0.198 0.242 0.281 0.314 0.341 0.36 0.373 0.379 0.379 0.371 0.357 0.336 0.308 0.274 0.234 0.189 0.142 0.096 0.055 0.023 0.004 0.001 0.014 0.041 0.079 0.123 0.17 0.216 0.258 0.295 0.326 0.349 0.366 0.377 0.38"/></feComponentTransfer><feGaussianBlur stdDeviation="1"/></filter><linearGradient id="eae7" gradientUnits="userSpaceOnUse" x1="804.6" x2="1044.8" y1="0" y2="0"><stop offset="-0.0079" stop-color="#000" stop-opacity="0.919"/><stop offset="0.0274" stop-color="#000" stop-opacity="0.776"/><stop offset="0.0626" stop-color="#000" stop-opacity="0.462"/><stop offset="0.1244" stop-color="#000" stop-opacity="0.342"/><stop offset="0.1684" stop-color="#000" stop-opacity="0.228"/><stop offset="0.2125" stop-color="#000" stop-opacity="0.235"/><stop offset="0.2654" stop-color="#000" stop-opacity="0.123"/><stop offset="0.3659" stop-color="#000" stop-opacity="0.047"/><stop offset="0.477" stop-color="#000" stop-opacity="0.048"/><stop offset="0.618" stop-color="#000" stop-opacity="0.048"/><stop offset="0.7943" stop-color="#000" stop-opacity="0.081"/><stop offset="1.0059" stop-color="#000" stop-opacity="0.223"/></linearGradient><linearGradient id="ebe7" gradientUnits="userSpaceOnUse" x1="804.6" x2="1044.8" y1="0" y2="0"><stop offset="-0.0079" stop-color="#fff" stop-opacity="0.03"/><stop offset="0.0274" stop-color="#fff" stop-opacity="0.06"/><stop offset="0.0626" stop-color="#fff" stop-opacity="0.12"/><stop offset="0.1244" stop-color="#fff" stop-opacity="0.2"/><stop offset="0.1684" stop-color="#fff" stop-opacity="0.25"/><stop offset="0.2125" stop-color="#fff" stop-opacity="0.295"/><stop offset="0.2654" stop-color="#fff" stop-opacity="0.325"/><stop offset="0.3659" stop-color="#fff" stop-opacity="0.36"/><stop offset="0.477" stop-color="#fff" stop-opacity="0.37"/><stop offset="0.618" stop-color="#fff" stop-opacity="0.37"/><stop offset="0.7943" stop-color="#fff" stop-opacity="0.37"/><stop offset="1.0059" stop-color="#fff" stop-opacity="0.39"/></linearGradient><clipPath id="cle7"><rect x="804.6" y="760.8" width="240.2" height="240.9"/></clipPath><linearGradient id="gxe8" gradientUnits="userSpaceOnUse" x1="73.8" x2="314" y1="0" y2="0"><stop offset="0" stop-color="#000000"/><stop offset="0.0312" stop-color="#131313"/><stop offset="0.0625" stop-color="#242424"/><stop offset="0.0937" stop-color="#323232"/><stop offset="0.125" stop-color="#3f3f3f"/><stop offset="0.1562" stop-color="#4a4a4a"/><stop offset="0.1875" stop-color="#545454"/><stop offset="0.2188" stop-color="#5c5c5c"/><stop offset="0.25" stop-color="#646464"/><stop offset="0.2812" stop-color="#6b6b6b"/><stop offset="0.3125" stop-color="#727272"/><stop offset="0.3437" stop-color="#787878"/><stop offset="0.375" stop-color="#7d7d7d"/><stop offset="0.4062" stop-color="#828282"/><stop offset="0.4375" stop-color="#878787"/><stop offset="0.4688" stop-color="#8b8b8b"/><stop offset="0.5" stop-color="#8f8f8f"/><stop offset="0.5312" stop-color="#939393"/><stop offset="0.5625" stop-color="#979797"/><stop offset="0.5937" stop-color="#9a9a9a"/><stop offset="0.625" stop-color="#9d9d9d"/><stop offset="0.6562" stop-color="#a0a0a0"/><stop offset="0.6875" stop-color="#a2a2a2"/><stop offset="0.7187" stop-color="#a5a5a5"/><stop offset="0.75" stop-color="#a7a7a7"/><stop offset="0.7812" stop-color="#aaaaaa"/><stop offset="0.8125" stop-color="#acacac"/><stop offset="0.8438" stop-color="#aeaeae"/><stop offset="0.875" stop-color="#b0b0b0"/><stop offset="0.9062" stop-color="#b2b2b2"/><stop offset="0.9375" stop-color="#b4b4b4"/><stop offset="0.9687" stop-color="#b5b5b5"/><stop offset="1" stop-color="#b7b7b7"/></linearGradient><linearGradient id="gye8" gradientUnits="userSpaceOnUse" x1="0" x2="0" y1="1004.7" y2="1245.6"><stop offset="0" stop-color="#fff" stop-opacity="0.0651"/><stop offset="0.2833" stop-color="#fff" stop-opacity="0.005"/><stop offset="0.3155" stop-color="#fff" stop-opacity="0.0027"/><stop offset="0.3217" stop-color="#fff" stop-opacity="0.006"/><stop offset="0.3383" stop-color="#fff" stop-opacity="0.006"/><stop offset="0.3394" stop-color="#fff" stop-opacity="0.0089"/><stop offset="0.3466" stop-color="#fff" stop-opacity="0.0443"/><stop offset="0.3539" stop-color="#fff" stop-opacity="0.0632"/><stop offset="0.3601" stop-color="#fff" stop-opacity="0.0761"/><stop offset="0.3861" stop-color="#fff" stop-opacity="0.0765"/><stop offset="0.4608" stop-color="#fff" stop-opacity="0.1271"/><stop offset="0.4971" stop-color="#fff" stop-opacity="0.1462"/><stop offset="0.5158" stop-color="#fff" stop-opacity="0.1534"/><stop offset="0.5303" stop-color="#fff" stop-opacity="0.1539"/><stop offset="0.5594" stop-color="#fff" stop-opacity="0.1615"/><stop offset="0.5884" stop-color="#fff" stop-opacity="0.1746"/><stop offset="0.6092" stop-color="#fff" stop-opacity="0.1878"/><stop offset="0.632" stop-color="#fff" stop-opacity="0.1954"/><stop offset="0.6611" stop-color="#fff" stop-opacity="0.2008"/><stop offset="0.7763" stop-color="#fff" stop-opacity="0.2062"/><stop offset="1" stop-color="#fff" stop-opacity="0.2091"/></linearGradient><filter id="fre8" color-interpolation-filters="sRGB" x="0" y="0" width="1" height="1"><feComponentTransfer><feFuncR type="table" tableValues="0.244 0.139 0.058 0.01 0.002 0.034 0.103 0.2 0.313 0.434 0.553 0.665 0.764 0.849 0.915 0.963 0.991 1 0.988 0.957 0.906 0.837 0.751 0.649 0.536 0.416 0.296 0.184 0.091 0.027 0 0.015 0.068 0.153 0.26 0.379 0.5 0.616 0.721 0.813 0.887 0.944 0.981 0.999 0.996 0.974 0.932 0.871 0.792 0.697 0.589 0.471 0.35 0.233 0.13 0.052 0.008 0.003 0.039 0.111 0.21 0.324 0.445 0.564 0.675 0.773 0.856 0.92 0.967 0.993 1 0.986 0.953 0.901 0.83 0.742 0.639 0.525 0.405 0.285 0.174 0.084 0.023 0 0.018 0.075 0.163 0.271 0.39 0.511 0.626 0.731 0.82 0.893 0.948 0.984 0.999 0.995 0.971 0.927 0.864 0.784 0.687 0.578 0.459 0.338 0.223 0.122 0.046 0.005 0.005 0.045 0.12 0.22 0.336 0.457 0.575 0.685 0.782 0.863 0.926 0.97 0.995 0.999 0.984 0.949 0.895 0.822 0.733 0.629 0.514 0.393 0.274 0.165 0.076 0.019 0 0.022 0.082 0.172 0.282 0.402 0.522 0.637 0.74 0.828 0.899 0.952 0.986 1 0.993 0.967 0.922 0.857 0.775 0.677 0.567 0.448 0.327 0.212 0.113 0.041 0.004 0.007 0.051 0.128 0.231 0.347 0.468 0.586 0.695 0.79 0.869 0.931 0.973 0.996 0.999 0.982 0.945 0.889 0.814 0.723 0.618 0.502 0.382 0.263 0.155 0.07 0.016 0 0.026 0.089 0.182 0.293 0.413 0.534 0.647 0.749 0.836 0.905 0.956 0.988 1 0.992 0.964 0.916 0.85 0.766 0.667 0.556 0.436 0.316 0.202 0.105 0.036 0.002 0.01 0.057 0.137 0.241 0.359 0.48 0.597 0.704 0.798 0.876 0.936 0.976 0.997 0.998 0.979 0.94 0.882 0.806 0.714 0.608 0.491 0.37 0.252 0.146 0.063 0.012 0.001 0.031 0.097 0.192 0.305 0.425 0.545 0.657 0.758 0.843 0.911 0.96 0.99 1"/><feFuncG type="table" tableValues="0.244 0.139 0.058 0.01 0.002 0.034 0.103 0.2 0.313 0.434 0.553 0.665 0.764 0.849 0.915 0.963 0.991 1 0.988 0.957 0.906 0.837 0.751 0.649 0.536 0.416 0.296 0.184 0.091 0.027 0 0.015 0.068 0.153 0.26 0.379 0.5 0.616 0.721 0.813 0.887 0.944 0.981 0.999 0.996 0.974 0.932 0.871 0.792 0.697 0.589 0.471 0.35 0.233 0.13 0.052 0.008 0.003 0.039 0.111 0.21 0.324 0.445 0.564 0.675 0.773 0.856 0.92 0.967 0.993 1 0.986 0.953 0.901 0.83 0.742 0.639 0.525 0.405 0.285 0.174 0.084 0.023 0 0.018 0.075 0.163 0.271 0.39 0.511 0.626 0.731 0.82 0.893 0.948 0.984 0.999 0.995 0.971 0.927 0.864 0.784 0.687 0.578 0.459 0.338 0.223 0.122 0.046 0.005 0.005 0.045 0.12 0.22 0.336 0.457 0.575 0.685 0.782 0.863 0.926 0.97 0.995 0.999 0.984 0.949 0.895 0.822 0.733 0.629 0.514 0.393 0.274 0.165 0.076 0.019 0 0.022 0.082 0.172 0.282 0.402 0.522 0.637 0.74 0.828 0.899 0.952 0.986 1 0.993 0.967 0.922 0.857 0.775 0.677 0.567 0.448 0.327 0.212 0.113 0.041 0.004 0.007 0.051 0.128 0.231 0.347 0.468 0.586 0.695 0.79 0.869 0.931 0.973 0.996 0.999 0.982 0.945 0.889 0.814 0.723 0.618 0.502 0.382 0.263 0.155 0.07 0.016 0 0.026 0.089 0.182 0.293 0.413 0.534 0.647 0.749 0.836 0.905 0.956 0.988 1 0.992 0.964 0.916 0.85 0.766 0.667 0.556 0.436 0.316 0.202 0.105 0.036 0.002 0.01 0.057 0.137 0.241 0.359 0.48 0.597 0.704 0.798 0.876 0.936 0.976 0.997 0.998 0.979 0.94 0.882 0.806 0.714 0.608 0.491 0.37 0.252 0.146 0.063 0.012 0.001 0.031 0.097 0.192 0.305 0.425 0.545 0.657 0.758 0.843 0.911 0.96 0.99 1"/><feFuncB type="table" tableValues="0.244 0.139 0.058 0.01 0.002 0.034 0.103 0.2 0.313 0.434 0.553 0.665 0.764 0.849 0.915 0.963 0.991 1 0.988 0.957 0.906 0.837 0.751 0.649 0.536 0.416 0.296 0.184 0.091 0.027 0 0.015 0.068 0.153 0.26 0.379 0.5 0.616 0.721 0.813 0.887 0.944 0.981 0.999 0.996 0.974 0.932 0.871 0.792 0.697 0.589 0.471 0.35 0.233 0.13 0.052 0.008 0.003 0.039 0.111 0.21 0.324 0.445 0.564 0.675 0.773 0.856 0.92 0.967 0.993 1 0.986 0.953 0.901 0.83 0.742 0.639 0.525 0.405 0.285 0.174 0.084 0.023 0 0.018 0.075 0.163 0.271 0.39 0.511 0.626 0.731 0.82 0.893 0.948 0.984 0.999 0.995 0.971 0.927 0.864 0.784 0.687 0.578 0.459 0.338 0.223 0.122 0.046 0.005 0.005 0.045 0.12 0.22 0.336 0.457 0.575 0.685 0.782 0.863 0.926 0.97 0.995 0.999 0.984 0.949 0.895 0.822 0.733 0.629 0.514 0.393 0.274 0.165 0.076 0.019 0 0.022 0.082 0.172 0.282 0.402 0.522 0.637 0.74 0.828 0.899 0.952 0.986 1 0.993 0.967 0.922 0.857 0.775 0.677 0.567 0.448 0.327 0.212 0.113 0.041 0.004 0.007 0.051 0.128 0.231 0.347 0.468 0.586 0.695 0.79 0.869 0.931 0.973 0.996 0.999 0.982 0.945 0.889 0.814 0.723 0.618 0.502 0.382 0.263 0.155 0.07 0.016 0 0.026 0.089 0.182 0.293 0.413 0.534 0.647 0.749 0.836 0.905 0.956 0.988 1 0.992 0.964 0.916 0.85 0.766 0.667 0.556 0.436 0.316 0.202 0.105 0.036 0.002 0.01 0.057 0.137 0.241 0.359 0.48 0.597 0.704 0.798 0.876 0.936 0.976 0.997 0.998 0.979 0.94 0.882 0.806 0.714 0.608 0.491 0.37 0.252 0.146 0.063 0.012 0.001 0.031 0.097 0.192 0.305 0.425 0.545 0.657 0.758 0.843 0.911 0.96 0.99 1"/></feComponentTransfer><feGaussianBlur stdDeviation="1"/></filter><linearGradient id="eae8" gradientUnits="userSpaceOnUse" x1="73.8" x2="314" y1="0" y2="0"><stop offset="-0.0079" stop-color="#000" stop-opacity="0.969"/><stop offset="0.0274" stop-color="#000" stop-opacity="0.915"/><stop offset="0.0626" stop-color="#000" stop-opacity="0.795"/><stop offset="0.1244" stop-color="#000" stop-opacity="0.75"/><stop offset="0.1684" stop-color="#000" stop-opacity="0.707"/><stop offset="0.2125" stop-color="#000" stop-opacity="0.709"/><stop offset="0.2654" stop-color="#000" stop-opacity="0.667"/><stop offset="0.3659" stop-color="#000" stop-opacity="0.625"/><stop offset="0.477" stop-color="#000" stop-opacity="0.635"/><stop offset="0.618" stop-color="#000" stop-opacity="0.603"/><stop offset="0.7943" stop-color="#000" stop-opacity="0.651"/><stop offset="1.0059" stop-color="#000" stop-opacity="0.705"/></linearGradient><linearGradient id="ebe8" gradientUnits="userSpaceOnUse" x1="73.8" x2="314" y1="0" y2="0"><stop offset="-0.0079" stop-color="#fff" stop-opacity="0.03"/><stop offset="0.0274" stop-color="#fff" stop-opacity="0.06"/><stop offset="0.0626" stop-color="#fff" stop-opacity="0.12"/><stop offset="0.1244" stop-color="#fff" stop-opacity="0.2"/><stop offset="0.1684" stop-color="#fff" stop-opacity="0.25"/><stop offset="0.2125" stop-color="#fff" stop-opacity="0.295"/><stop offset="0.2654" stop-color="#fff" stop-opacity="0.325"/><stop offset="0.3659" stop-color="#fff" stop-opacity="0.36"/><stop offset="0.477" stop-color="#fff" stop-opacity="0.37"/><stop offset="0.618" stop-color="#fff" stop-opacity="0.37"/><stop offset="0.7943" stop-color="#fff" stop-opacity="0.37"/><stop offset="1.0059" stop-color="#fff" stop-opacity="0.39"/></linearGradient><clipPath id="cle8"><rect x="73.8" y="1004.7" width="240.2" height="240.9"/></clipPath><linearGradient id="gxe9" gradientUnits="userSpaceOnUse" x1="317.4" x2="557.6" y1="0" y2="0"><stop offset="0" stop-color="#000000"/><stop offset="0.0313" stop-color="#131313"/><stop offset="0.0625" stop-color="#242424"/><stop offset="0.0938" stop-color="#323232"/><stop offset="0.125" stop-color="#3f3f3f"/><stop offset="0.1563" stop-color="#4a4a4a"/><stop offset="0.1875" stop-color="#545454"/><stop offset="0.2188" stop-color="#5c5c5c"/><stop offset="0.25" stop-color="#646464"/><stop offset="0.2812" stop-color="#6b6b6b"/><stop offset="0.3125" stop-color="#727272"/><stop offset="0.3437" stop-color="#787878"/><stop offset="0.375" stop-color="#7d7d7d"/><stop offset="0.4062" stop-color="#828282"/><stop offset="0.4375" stop-color="#878787"/><stop offset="0.4688" stop-color="#8b8b8b"/><stop offset="0.5" stop-color="#8f8f8f"/><stop offset="0.5312" stop-color="#939393"/><stop offset="0.5625" stop-color="#979797"/><stop offset="0.5938" stop-color="#9a9a9a"/><stop offset="0.625" stop-color="#9d9d9d"/><stop offset="0.6562" stop-color="#a0a0a0"/><stop offset="0.6875" stop-color="#a2a2a2"/><stop offset="0.7188" stop-color="#a5a5a5"/><stop offset="0.75" stop-color="#a7a7a7"/><stop offset="0.7812" stop-color="#aaaaaa"/><stop offset="0.8125" stop-color="#acacac"/><stop offset="0.8438" stop-color="#aeaeae"/><stop offset="0.875" stop-color="#b0b0b0"/><stop offset="0.9063" stop-color="#b2b2b2"/><stop offset="0.9375" stop-color="#b4b4b4"/><stop offset="0.9687" stop-color="#b5b5b5"/><stop offset="1" stop-color="#b7b7b7"/></linearGradient><linearGradient id="gye9" gradientUnits="userSpaceOnUse" x1="0" x2="0" y1="1004.7" y2="1245.6"><stop offset="0" stop-color="#fff" stop-opacity="0.0531"/><stop offset="0.0799" stop-color="#fff" stop-opacity="0.0389"/><stop offset="0.2428" stop-color="#fff" stop-opacity="0.005"/><stop offset="0.2646" stop-color="#fff" stop-opacity="0.002"/><stop offset="0.2854" stop-color="#fff" stop-opacity="0.0041"/><stop offset="0.2885" stop-color="#fff" stop-opacity="0.0098"/><stop offset="0.2927" stop-color="#fff" stop-opacity="0.0352"/><stop offset="0.2937" stop-color="#fff" stop-opacity="0.0389"/><stop offset="0.3072" stop-color="#fff" stop-opacity="0.052"/><stop offset="0.3144" stop-color="#fff" stop-opacity="0.0651"/><stop offset="0.3269" stop-color="#fff" stop-opacity="0.077"/><stop offset="0.3539" stop-color="#fff" stop-opacity="0.1098"/><stop offset="0.3674" stop-color="#fff" stop-opacity="0.1225"/><stop offset="0.3871" stop-color="#fff" stop-opacity="0.1225"/><stop offset="0.4411" stop-color="#fff" stop-opacity="0.1471"/><stop offset="0.4971" stop-color="#fff" stop-opacity="0.1585"/><stop offset="0.5448" stop-color="#fff" stop-opacity="0.1801"/><stop offset="0.5739" stop-color="#fff" stop-opacity="0.1889"/><stop offset="0.6611" stop-color="#fff" stop-opacity="0.1978"/><stop offset="0.7763" stop-color="#fff" stop-opacity="0.2032"/><stop offset="1" stop-color="#fff" stop-opacity="0.2076"/></linearGradient><filter id="fre9" color-interpolation-filters="sRGB" x="0" y="0" width="1" height="1"><feComponentTransfer><feFuncR type="table" tableValues="0.141 0.06 0.011 0.001 0.032 0.1 0.195 0.307 0.427 0.546 0.658 0.758 0.843 0.911 0.96 0.99 1 0.99 0.961 0.912 0.845 0.761 0.661 0.549 0.43 0.31 0.197 0.102 0.034 0.002 0.01 0.058 0.139 0.243 0.36 0.481 0.597 0.705 0.798 0.875 0.935 0.976 0.997 0.998 0.98 0.942 0.885 0.809 0.718 0.612 0.497 0.376 0.258 0.152 0.067 0.015 0.001 0.027 0.091 0.183 0.294 0.414 0.534 0.647 0.748 0.835 0.904 0.956 0.988 1 0.992 0.965 0.918 0.853 0.771 0.672 0.562 0.443 0.323 0.209 0.111 0.039 0.003 0.007 0.051 0.129 0.231 0.347 0.468 0.585 0.694 0.789 0.868 0.929 0.972 0.995 0.999 0.983 0.947 0.892 0.818 0.729 0.624 0.51 0.389 0.271 0.163 0.075 0.019 0 0.022 0.082 0.172 0.282 0.401 0.521 0.635 0.738 0.826 0.898 0.951 0.985 0.999 0.994 0.969 0.924 0.861 0.78 0.684 0.574 0.456 0.336 0.221 0.12 0.046 0.005 0.005 0.045 0.119 0.219 0.334 0.455 0.573 0.682 0.779 0.86 0.924 0.969 0.994 1 0.985 0.951 0.898 0.827 0.739 0.636 0.523 0.403 0.283 0.173 0.083 0.023 0 0.018 0.074 0.161 0.269 0.388 0.508 0.623 0.727 0.817 0.891 0.946 0.982 0.999 0.996 0.973 0.93 0.869 0.79 0.695 0.587 0.469 0.349 0.233 0.13 0.052 0.008 0.003 0.039 0.11 0.207 0.321 0.442 0.56 0.671 0.769 0.852 0.918 0.965 0.992 1 0.988 0.956 0.905 0.836 0.749 0.648 0.535 0.416 0.296 0.185 0.092 0.028 0.001 0.014 0.066 0.151 0.257 0.375 0.495 0.611 0.717 0.808 0.884 0.941 0.979 0.998 0.997 0.976 0.936 0.876 0.799 0.706 0.599 0.482 0.362 0.245 0.14 0.059 0.011 0.002 0.033 0.101 0.196 0.309 0.429 0.548 0.66 0.759 0.844 0.912 0.96 0.99 1"/><feFuncG type="table" tableValues="0.141 0.06 0.011 0.001 0.032 0.1 0.195 0.307 0.427 0.546 0.658 0.758 0.843 0.911 0.96 0.99 1 0.99 0.961 0.912 0.845 0.761 0.661 0.549 0.43 0.31 0.197 0.102 0.034 0.002 0.01 0.058 0.139 0.243 0.36 0.481 0.597 0.705 0.798 0.875 0.935 0.976 0.997 0.998 0.98 0.942 0.885 0.809 0.718 0.612 0.497 0.376 0.258 0.152 0.067 0.015 0.001 0.027 0.091 0.183 0.294 0.414 0.534 0.647 0.748 0.835 0.904 0.956 0.988 1 0.992 0.965 0.918 0.853 0.771 0.672 0.562 0.443 0.323 0.209 0.111 0.039 0.003 0.007 0.051 0.129 0.231 0.347 0.468 0.585 0.694 0.789 0.868 0.929 0.972 0.995 0.999 0.983 0.947 0.892 0.818 0.729 0.624 0.51 0.389 0.271 0.163 0.075 0.019 0 0.022 0.082 0.172 0.282 0.401 0.521 0.635 0.738 0.826 0.898 0.951 0.985 0.999 0.994 0.969 0.924 0.861 0.78 0.684 0.574 0.456 0.336 0.221 0.12 0.046 0.005 0.005 0.045 0.119 0.219 0.334 0.455 0.573 0.682 0.779 0.86 0.924 0.969 0.994 1 0.985 0.951 0.898 0.827 0.739 0.636 0.523 0.403 0.283 0.173 0.083 0.023 0 0.018 0.074 0.161 0.269 0.388 0.508 0.623 0.727 0.817 0.891 0.946 0.982 0.999 0.996 0.973 0.93 0.869 0.79 0.695 0.587 0.469 0.349 0.233 0.13 0.052 0.008 0.003 0.039 0.11 0.207 0.321 0.442 0.56 0.671 0.769 0.852 0.918 0.965 0.992 1 0.988 0.956 0.905 0.836 0.749 0.648 0.535 0.416 0.296 0.185 0.092 0.028 0.001 0.014 0.066 0.151 0.257 0.375 0.495 0.611 0.717 0.808 0.884 0.941 0.979 0.998 0.997 0.976 0.936 0.876 0.799 0.706 0.599 0.482 0.362 0.245 0.14 0.059 0.011 0.002 0.033 0.101 0.196 0.309 0.429 0.548 0.66 0.759 0.844 0.912 0.96 0.99 1"/><feFuncB type="table" tableValues="0.141 0.06 0.011 0.001 0.032 0.1 0.195 0.307 0.427 0.546 0.658 0.758 0.843 0.911 0.96 0.99 1 0.99 0.961 0.912 0.845 0.761 0.661 0.549 0.43 0.31 0.197 0.102 0.034 0.002 0.01 0.058 0.139 0.243 0.36 0.481 0.597 0.705 0.798 0.875 0.935 0.976 0.997 0.998 0.98 0.942 0.885 0.809 0.718 0.612 0.497 0.376 0.258 0.152 0.067 0.015 0.001 0.027 0.091 0.183 0.294 0.414 0.534 0.647 0.748 0.835 0.904 0.956 0.988 1 0.992 0.965 0.918 0.853 0.771 0.672 0.562 0.443 0.323 0.209 0.111 0.039 0.003 0.007 0.051 0.129 0.231 0.347 0.468 0.585 0.694 0.789 0.868 0.929 0.972 0.995 0.999 0.983 0.947 0.892 0.818 0.729 0.624 0.51 0.389 0.271 0.163 0.075 0.019 0 0.022 0.082 0.172 0.282 0.401 0.521 0.635 0.738 0.826 0.898 0.951 0.985 0.999 0.994 0.969 0.924 0.861 0.78 0.684 0.574 0.456 0.336 0.221 0.12 0.046 0.005 0.005 0.045 0.119 0.219 0.334 0.455 0.573 0.682 0.779 0.86 0.924 0.969 0.994 1 0.985 0.951 0.898 0.827 0.739 0.636 0.523 0.403 0.283 0.173 0.083 0.023 0 0.018 0.074 0.161 0.269 0.388 0.508 0.623 0.727 0.817 0.891 0.946 0.982 0.999 0.996 0.973 0.93 0.869 0.79 0.695 0.587 0.469 0.349 0.233 0.13 0.052 0.008 0.003 0.039 0.11 0.207 0.321 0.442 0.56 0.671 0.769 0.852 0.918 0.965 0.992 1 0.988 0.956 0.905 0.836 0.749 0.648 0.535 0.416 0.296 0.185 0.092 0.028 0.001 0.014 0.066 0.151 0.257 0.375 0.495 0.611 0.717 0.808 0.884 0.941 0.979 0.998 0.997 0.976 0.936 0.876 0.799 0.706 0.599 0.482 0.362 0.245 0.14 0.059 0.011 0.002 0.033 0.101 0.196 0.309 0.429 0.548 0.66 0.759 0.844 0.912 0.96 0.99 1"/></feComponentTransfer><feGaussianBlur stdDeviation="1"/></filter><linearGradient id="eae9" gradientUnits="userSpaceOnUse" x1="317.4" x2="557.6" y1="0" y2="0"><stop offset="-0.0079" stop-color="#000" stop-opacity="0.969"/><stop offset="0.0274" stop-color="#000" stop-opacity="0.915"/><stop offset="0.0626" stop-color="#000" stop-opacity="0.795"/><stop offset="0.1244" stop-color="#000" stop-opacity="0.75"/><stop offset="0.1684" stop-color="#000" stop-opacity="0.707"/><stop offset="0.2125" stop-color="#000" stop-opacity="0.709"/><stop offset="0.2654" stop-color="#000" stop-opacity="0.667"/><stop offset="0.3659" stop-color="#000" stop-opacity="0.625"/><stop offset="0.477" stop-color="#000" stop-opacity="0.635"/><stop offset="0.618" stop-color="#000" stop-opacity="0.603"/><stop offset="0.7943" stop-color="#000" stop-opacity="0.651"/><stop offset="1.0059" stop-color="#000" stop-opacity="0.705"/></linearGradient><linearGradient id="ebe9" gradientUnits="userSpaceOnUse" x1="317.4" x2="557.6" y1="0" y2="0"><stop offset="-0.0079" stop-color="#fff" stop-opacity="0.03"/><stop offset="0.0274" stop-color="#fff" stop-opacity="0.06"/><stop offset="0.0626" stop-color="#fff" stop-opacity="0.12"/><stop offset="0.1244" stop-color="#fff" stop-opacity="0.2"/><stop offset="0.1684" stop-color="#fff" stop-opacity="0.25"/><stop offset="0.2125" stop-color="#fff" stop-opacity="0.295"/><stop offset="0.2654" stop-color="#fff" stop-opacity="0.325"/><stop offset="0.3659" stop-color="#fff" stop-opacity="0.36"/><stop offset="0.477" stop-color="#fff" stop-opacity="0.37"/><stop offset="0.618" stop-color="#fff" stop-opacity="0.37"/><stop offset="0.7943" stop-color="#fff" stop-opacity="0.37"/><stop offset="1.0059" stop-color="#fff" stop-opacity="0.39"/></linearGradient><clipPath id="cle9"><rect x="317.4" y="1004.7" width="240.2" height="240.9"/></clipPath><linearGradient id="gxe10" gradientUnits="userSpaceOnUse" x1="561" x2="801.2" y1="0" y2="0"><stop offset="0" stop-color="#000000"/><stop offset="0.0313" stop-color="#131313"/><stop offset="0.0625" stop-color="#242424"/><stop offset="0.0937" stop-color="#323232"/><stop offset="0.125" stop-color="#3f3f3f"/><stop offset="0.1562" stop-color="#4a4a4a"/><stop offset="0.1875" stop-color="#545454"/><stop offset="0.2188" stop-color="#5c5c5c"/><stop offset="0.25" stop-color="#646464"/><stop offset="0.2812" stop-color="#6b6b6b"/><stop offset="0.3125" stop-color="#727272"/><stop offset="0.3438" stop-color="#787878"/><stop offset="0.375" stop-color="#7d7d7d"/><stop offset="0.4062" stop-color="#828282"/><stop offset="0.4375" stop-color="#878787"/><stop offset="0.4687" stop-color="#8b8b8b"/><stop offset="0.5" stop-color="#8f8f8f"/><stop offset="0.5313" stop-color="#939393"/><stop offset="0.5625" stop-color="#979797"/><stop offset="0.5938" stop-color="#9a9a9a"/><stop offset="0.625" stop-color="#9d9d9d"/><stop offset="0.6562" stop-color="#a0a0a0"/><stop offset="0.6875" stop-color="#a2a2a2"/><stop offset="0.7188" stop-color="#a5a5a5"/><stop offset="0.75" stop-color="#a7a7a7"/><stop offset="0.7812" stop-color="#aaaaaa"/><stop offset="0.8125" stop-color="#acacac"/><stop offset="0.8438" stop-color="#aeaeae"/><stop offset="0.875" stop-color="#b0b0b0"/><stop offset="0.9063" stop-color="#b2b2b2"/><stop offset="0.9375" stop-color="#b4b4b4"/><stop offset="0.9687" stop-color="#b5b5b5"/><stop offset="1" stop-color="#b7b7b7"/></linearGradient><linearGradient id="gye10" gradientUnits="userSpaceOnUse" x1="0" x2="0" y1="1004.7" y2="1245.6"><stop offset="0" stop-color="#fff" stop-opacity="0.048"/><stop offset="0.2221" stop-color="#fff" stop-opacity="0.0027"/><stop offset="0.2366" stop-color="#fff" stop-opacity="0.002"/><stop offset="0.2439" stop-color="#fff" stop-opacity="0.0048"/><stop offset="0.2574" stop-color="#fff" stop-opacity="0.0049"/><stop offset="0.2605" stop-color="#fff" stop-opacity="0.0125"/><stop offset="0.2646" stop-color="#fff" stop-opacity="0.0345"/><stop offset="0.2771" stop-color="#fff" stop-opacity="0.057"/><stop offset="0.2927" stop-color="#fff" stop-opacity="0.0805"/><stop offset="0.3196" stop-color="#fff" stop-opacity="0.115"/><stop offset="0.3456" stop-color="#fff" stop-opacity="0.1371"/><stop offset="0.3674" stop-color="#fff" stop-opacity="0.1372"/><stop offset="0.3861" stop-color="#fff" stop-opacity="0.1442"/><stop offset="0.4234" stop-color="#fff" stop-opacity="0.1513"/><stop offset="0.4421" stop-color="#fff" stop-opacity="0.157"/><stop offset="0.4795" stop-color="#fff" stop-opacity="0.1748"/><stop offset="0.4981" stop-color="#fff" stop-opacity="0.1811"/><stop offset="0.5168" stop-color="#fff" stop-opacity="0.186"/><stop offset="0.5739" stop-color="#fff" stop-opacity="0.1932"/><stop offset="0.6611" stop-color="#fff" stop-opacity="0.1976"/><stop offset="1" stop-color="#fff" stop-opacity="0.2032"/></linearGradient><filter id="fre10" color-interpolation-filters="sRGB" x="0" y="0" width="1" height="1"><feComponentTransfer><feFuncR type="table" tableValues="0.019 0 0.021 0.08 0.168 0.277 0.395 0.514 0.628 0.731 0.82 0.892 0.947 0.982 0.999 0.996 0.973 0.931 0.871 0.793 0.699 0.592 0.476 0.356 0.24 0.137 0.057 0.01 0.002 0.033 0.1 0.195 0.307 0.426 0.544 0.656 0.755 0.84 0.908 0.958 0.989 1 0.992 0.964 0.917 0.852 0.77 0.672 0.563 0.445 0.325 0.212 0.114 0.042 0.004 0.006 0.048 0.123 0.223 0.337 0.457 0.574 0.683 0.779 0.86 0.923 0.968 0.993 1 0.986 0.954 0.902 0.832 0.746 0.645 0.533 0.414 0.295 0.184 0.092 0.028 0.001 0.013 0.064 0.147 0.251 0.368 0.488 0.603 0.709 0.801 0.878 0.936 0.976 0.997 0.998 0.98 0.942 0.886 0.811 0.721 0.617 0.502 0.383 0.265 0.158 0.072 0.017 0 0.023 0.083 0.172 0.281 0.399 0.519 0.632 0.735 0.823 0.895 0.949 0.983 0.999 0.995 0.972 0.929 0.868 0.789 0.695 0.588 0.471 0.351 0.236 0.134 0.055 0.009 0.002 0.035 0.104 0.199 0.311 0.431 0.549 0.66 0.759 0.843 0.91 0.959 0.989 1 0.991 0.963 0.915 0.849 0.766 0.668 0.558 0.44 0.321 0.208 0.11 0.039 0.003 0.007 0.05 0.126 0.227 0.342 0.462 0.579 0.687 0.782 0.862 0.925 0.969 0.994 1 0.985 0.952 0.9 0.829 0.742 0.641 0.528 0.409 0.29 0.18 0.089 0.026 0 0.015 0.067 0.151 0.256 0.373 0.493 0.608 0.713 0.805 0.88 0.938 0.977 0.997 0.998 0.979 0.94 0.883 0.808 0.717 0.612 0.497 0.378 0.26 0.154 0.07 0.016 0 0.025 0.086 0.176 0.286 0.404 0.523 0.636 0.738 0.826 0.897 0.95 0.984 0.999 0.995 0.97 0.927 0.865 0.786 0.691 0.583 0.467 0.347 0.231 0.13 0.052 0.008 0.003 0.037 0.107 0.203 0.316 0.435 0.554 0.664 0.763 0.846 0.913 0.961 0.99 1"/><feFuncG type="table" tableValues="0.019 0 0.021 0.08 0.168 0.277 0.395 0.514 0.628 0.731 0.82 0.892 0.947 0.982 0.999 0.996 0.973 0.931 0.871 0.793 0.699 0.592 0.476 0.356 0.24 0.137 0.057 0.01 0.002 0.033 0.1 0.195 0.307 0.426 0.544 0.656 0.755 0.84 0.908 0.958 0.989 1 0.992 0.964 0.917 0.852 0.77 0.672 0.563 0.445 0.325 0.212 0.114 0.042 0.004 0.006 0.048 0.123 0.223 0.337 0.457 0.574 0.683 0.779 0.86 0.923 0.968 0.993 1 0.986 0.954 0.902 0.832 0.746 0.645 0.533 0.414 0.295 0.184 0.092 0.028 0.001 0.013 0.064 0.147 0.251 0.368 0.488 0.603 0.709 0.801 0.878 0.936 0.976 0.997 0.998 0.98 0.942 0.886 0.811 0.721 0.617 0.502 0.383 0.265 0.158 0.072 0.017 0 0.023 0.083 0.172 0.281 0.399 0.519 0.632 0.735 0.823 0.895 0.949 0.983 0.999 0.995 0.972 0.929 0.868 0.789 0.695 0.588 0.471 0.351 0.236 0.134 0.055 0.009 0.002 0.035 0.104 0.199 0.311 0.431 0.549 0.66 0.759 0.843 0.91 0.959 0.989 1 0.991 0.963 0.915 0.849 0.766 0.668 0.558 0.44 0.321 0.208 0.11 0.039 0.003 0.007 0.05 0.126 0.227 0.342 0.462 0.579 0.687 0.782 0.862 0.925 0.969 0.994 1 0.985 0.952 0.9 0.829 0.742 0.641 0.528 0.409 0.29 0.18 0.089 0.026 0 0.015 0.067 0.151 0.256 0.373 0.493 0.608 0.713 0.805 0.88 0.938 0.977 0.997 0.998 0.979 0.94 0.883 0.808 0.717 0.612 0.497 0.378 0.26 0.154 0.07 0.016 0 0.025 0.086 0.176 0.286 0.404 0.523 0.636 0.738 0.826 0.897 0.95 0.984 0.999 0.995 0.97 0.927 0.865 0.786 0.691 0.583 0.467 0.347 0.231 0.13 0.052 0.008 0.003 0.037 0.107 0.203 0.316 0.435 0.554 0.664 0.763 0.846 0.913 0.961 0.99 1"/><feFuncB type="table" tableValues="0.019 0 0.021 0.08 0.168 0.277 0.395 0.514 0.628 0.731 0.82 0.892 0.947 0.982 0.999 0.996 0.973 0.931 0.871 0.793 0.699 0.592 0.476 0.356 0.24 0.137 0.057 0.01 0.002 0.033 0.1 0.195 0.307 0.426 0.544 0.656 0.755 0.84 0.908 0.958 0.989 1 0.992 0.964 0.917 0.852 0.77 0.672 0.563 0.445 0.325 0.212 0.114 0.042 0.004 0.006 0.048 0.123 0.223 0.337 0.457 0.574 0.683 0.779 0.86 0.923 0.968 0.993 1 0.986 0.954 0.902 0.832 0.746 0.645 0.533 0.414 0.295 0.184 0.092 0.028 0.001 0.013 0.064 0.147 0.251 0.368 0.488 0.603 0.709 0.801 0.878 0.936 0.976 0.997 0.998 0.98 0.942 0.886 0.811 0.721 0.617 0.502 0.383 0.265 0.158 0.072 0.017 0 0.023 0.083 0.172 0.281 0.399 0.519 0.632 0.735 0.823 0.895 0.949 0.983 0.999 0.995 0.972 0.929 0.868 0.789 0.695 0.588 0.471 0.351 0.236 0.134 0.055 0.009 0.002 0.035 0.104 0.199 0.311 0.431 0.549 0.66 0.759 0.843 0.91 0.959 0.989 1 0.991 0.963 0.915 0.849 0.766 0.668 0.558 0.44 0.321 0.208 0.11 0.039 0.003 0.007 0.05 0.126 0.227 0.342 0.462 0.579 0.687 0.782 0.862 0.925 0.969 0.994 1 0.985 0.952 0.9 0.829 0.742 0.641 0.528 0.409 0.29 0.18 0.089 0.026 0 0.015 0.067 0.151 0.256 0.373 0.493 0.608 0.713 0.805 0.88 0.938 0.977 0.997 0.998 0.979 0.94 0.883 0.808 0.717 0.612 0.497 0.378 0.26 0.154 0.07 0.016 0 0.025 0.086 0.176 0.286 0.404 0.523 0.636 0.738 0.826 0.897 0.95 0.984 0.999 0.995 0.97 0.927 0.865 0.786 0.691 0.583 0.467 0.347 0.231 0.13 0.052 0.008 0.003 0.037 0.107 0.203 0.316 0.435 0.554 0.664 0.763 0.846 0.913 0.961 0.99 1"/></feComponentTransfer><feGaussianBlur stdDeviation="1"/></filter><linearGradient id="eae10" gradientUnits="userSpaceOnUse" x1="561" x2="801.2" y1="0" y2="0"><stop offset="-0.0079" stop-color="#000" stop-opacity="0.969"/><stop offset="0.0274" stop-color="#000" stop-opacity="0.915"/><stop offset="0.0626" stop-color="#000" stop-opacity="0.795"/><stop offset="0.1244" stop-color="#000" stop-opacity="0.75"/><stop offset="0.1684" stop-color="#000" stop-opacity="0.707"/><stop offset="0.2125" stop-color="#000" stop-opacity="0.709"/><stop offset="0.2654" stop-color="#000" stop-opacity="0.667"/><stop offset="0.3659" stop-color="#000" stop-opacity="0.625"/><stop offset="0.477" stop-color="#000" stop-opacity="0.635"/><stop offset="0.618" stop-color="#000" stop-opacity="0.603"/><stop offset="0.7943" stop-color="#000" stop-opacity="0.651"/><stop offset="1.0059" stop-color="#000" stop-opacity="0.705"/></linearGradient><linearGradient id="ebe10" gradientUnits="userSpaceOnUse" x1="561" x2="801.2" y1="0" y2="0"><stop offset="-0.0079" stop-color="#fff" stop-opacity="0.03"/><stop offset="0.0274" stop-color="#fff" stop-opacity="0.06"/><stop offset="0.0626" stop-color="#fff" stop-opacity="0.12"/><stop offset="0.1244" stop-color="#fff" stop-opacity="0.2"/><stop offset="0.1684" stop-color="#fff" stop-opacity="0.25"/><stop offset="0.2125" stop-color="#fff" stop-opacity="0.295"/><stop offset="0.2654" stop-color="#fff" stop-opacity="0.325"/><stop offset="0.3659" stop-color="#fff" stop-opacity="0.36"/><stop offset="0.477" stop-color="#fff" stop-opacity="0.37"/><stop offset="0.618" stop-color="#fff" stop-opacity="0.37"/><stop offset="0.7943" stop-color="#fff" stop-opacity="0.37"/><stop offset="1.0059" stop-color="#fff" stop-opacity="0.39"/></linearGradient><clipPath id="cle10"><rect x="561" y="1004.7" width="240.2" height="240.9"/></clipPath><linearGradient id="gxe11" gradientUnits="userSpaceOnUse" x1="804.6" x2="1044.8" y1="0" y2="0"><stop offset="0" stop-color="#000000"/><stop offset="0.0313" stop-color="#131313"/><stop offset="0.0625" stop-color="#242424"/><stop offset="0.0937" stop-color="#323232"/><stop offset="0.125" stop-color="#3f3f3f"/><stop offset="0.1562" stop-color="#4a4a4a"/><stop offset="0.1875" stop-color="#545454"/><stop offset="0.2188" stop-color="#5c5c5c"/><stop offset="0.25" stop-color="#646464"/><stop offset="0.2812" stop-color="#6b6b6b"/><stop offset="0.3125" stop-color="#727272"/><stop offset="0.3438" stop-color="#787878"/><stop offset="0.375" stop-color="#7d7d7d"/><stop offset="0.4062" stop-color="#828282"/><stop offset="0.4375" stop-color="#878787"/><stop offset="0.4687" stop-color="#8b8b8b"/><stop offset="0.5" stop-color="#8f8f8f"/><stop offset="0.5313" stop-color="#939393"/><stop offset="0.5625" stop-color="#979797"/><stop offset="0.5938" stop-color="#9a9a9a"/><stop offset="0.625" stop-color="#9d9d9d"/><stop offset="0.6562" stop-color="#a0a0a0"/><stop offset="0.6875" stop-color="#a2a2a2"/><stop offset="0.7188" stop-color="#a5a5a5"/><stop offset="0.75" stop-color="#a7a7a7"/><stop offset="0.7812" stop-color="#aaaaaa"/><stop offset="0.8125" stop-color="#acacac"/><stop offset="0.8438" stop-color="#aeaeae"/><stop offset="0.875" stop-color="#b0b0b0"/><stop offset="0.9063" stop-color="#b2b2b2"/><stop offset="0.9375" stop-color="#b4b4b4"/><stop offset="0.9688" stop-color="#b5b5b5"/><stop offset="1" stop-color="#b7b7b7"/></linearGradient><linearGradient id="gye11" gradientUnits="userSpaceOnUse" x1="0" x2="0" y1="1004.7" y2="1245.6"><stop offset="0" stop-color="#fff" stop-opacity="0.0175"/><stop offset="0.1204" stop-color="#fff" stop-opacity="0.0027"/><stop offset="0.1567" stop-color="#fff" stop-opacity="0.0043"/><stop offset="0.1619" stop-color="#fff" stop-opacity="0.0115"/><stop offset="0.165" stop-color="#fff" stop-opacity="0.0205"/><stop offset="0.1692" stop-color="#fff" stop-opacity="0.0376"/><stop offset="0.1785" stop-color="#fff" stop-opacity="0.0693"/><stop offset="0.1847" stop-color="#fff" stop-opacity="0.0827"/><stop offset="0.2086" stop-color="#fff" stop-opacity="0.1131"/><stop offset="0.2221" stop-color="#fff" stop-opacity="0.1263"/><stop offset="0.2387" stop-color="#fff" stop-opacity="0.1267"/><stop offset="0.275" stop-color="#fff" stop-opacity="0.142"/><stop offset="0.33" stop-color="#fff" stop-opacity="0.1541"/><stop offset="0.4047" stop-color="#fff" stop-opacity="0.1628"/><stop offset="0.5168" stop-color="#fff" stop-opacity="0.1707"/><stop offset="1" stop-color="#fff" stop-opacity="0.1853"/></linearGradient><filter id="fre11" color-interpolation-filters="sRGB" x="0" y="0" width="1" height="1"><feComponentTransfer><feFuncR type="table" tableValues="0.093 0.184 0.293 0.41 0.528 0.639 0.74 0.826 0.896 0.949 0.984 0.999 0.995 0.973 0.932 0.872 0.795 0.703 0.598 0.484 0.366 0.251 0.147 0.065 0.014 0 0.026 0.087 0.176 0.284 0.401 0.519 0.631 0.732 0.82 0.892 0.946 0.982 0.999 0.996 0.975 0.935 0.877 0.802 0.711 0.607 0.493 0.375 0.259 0.154 0.071 0.017 0 0.023 0.081 0.169 0.276 0.392 0.51 0.623 0.725 0.814 0.887 0.942 0.98 0.998 0.997 0.978 0.939 0.882 0.808 0.718 0.615 0.502 0.384 0.268 0.162 0.076 0.02 0 0.019 0.076 0.161 0.267 0.383 0.501 0.614 0.718 0.808 0.882 0.939 0.977 0.997 0.998 0.98 0.943 0.887 0.814 0.726 0.623 0.511 0.393 0.276 0.169 0.082 0.023 0 0.017 0.07 0.154 0.258 0.374 0.492 0.606 0.71 0.801 0.877 0.935 0.975 0.996 0.999 0.982 0.946 0.892 0.821 0.733 0.632 0.52 0.402 0.285 0.177 0.087 0.026 0 0.014 0.065 0.147 0.25 0.365 0.483 0.598 0.703 0.795 0.872 0.931 0.973 0.995 0.999 0.984 0.95 0.897 0.827 0.74 0.64 0.529 0.411 0.294 0.185 0.093 0.03 0.001 0.012 0.06 0.139 0.241 0.356 0.474 0.589 0.695 0.788 0.866 0.927 0.97 0.994 0.999 0.986 0.953 0.902 0.833 0.747 0.648 0.537 0.42 0.303 0.193 0.1 0.033 0.002 0.009 0.055 0.132 0.233 0.347 0.465 0.581 0.687 0.782 0.861 0.923 0.968 0.993 1 0.987 0.956 0.906 0.838 0.754 0.656 0.546 0.429 0.311 0.2 0.106 0.037 0.003 0.007 0.05 0.126 0.225 0.338 0.456 0.572 0.68 0.775 0.855 0.919 0.965 0.992 1 0.989 0.959 0.911 0.844 0.761 0.664 0.555 0.438 0.32 0.208 0.112 0.041 0.004 0.006 0.046 0.119 0.217 0.329 0.447 0.564 0.672 0.768 0.85 0.915 0.962 0.99 1"/><feFuncG type="table" tableValues="0.093 0.184 0.293 0.41 0.528 0.639 0.74 0.826 0.896 0.949 0.984 0.999 0.995 0.973 0.932 0.872 0.795 0.703 0.598 0.484 0.366 0.251 0.147 0.065 0.014 0 0.026 0.087 0.176 0.284 0.401 0.519 0.631 0.732 0.82 0.892 0.946 0.982 0.999 0.996 0.975 0.935 0.877 0.802 0.711 0.607 0.493 0.375 0.259 0.154 0.071 0.017 0 0.023 0.081 0.169 0.276 0.392 0.51 0.623 0.725 0.814 0.887 0.942 0.98 0.998 0.997 0.978 0.939 0.882 0.808 0.718 0.615 0.502 0.384 0.268 0.162 0.076 0.02 0 0.019 0.076 0.161 0.267 0.383 0.501 0.614 0.718 0.808 0.882 0.939 0.977 0.997 0.998 0.98 0.943 0.887 0.814 0.726 0.623 0.511 0.393 0.276 0.169 0.082 0.023 0 0.017 0.07 0.154 0.258 0.374 0.492 0.606 0.71 0.801 0.877 0.935 0.975 0.996 0.999 0.982 0.946 0.892 0.821 0.733 0.632 0.52 0.402 0.285 0.177 0.087 0.026 0 0.014 0.065 0.147 0.25 0.365 0.483 0.598 0.703 0.795 0.872 0.931 0.973 0.995 0.999 0.984 0.95 0.897 0.827 0.74 0.64 0.529 0.411 0.294 0.185 0.093 0.03 0.001 0.012 0.06 0.139 0.241 0.356 0.474 0.589 0.695 0.788 0.866 0.927 0.97 0.994 0.999 0.986 0.953 0.902 0.833 0.747 0.648 0.537 0.42 0.303 0.193 0.1 0.033 0.002 0.009 0.055 0.132 0.233 0.347 0.465 0.581 0.687 0.782 0.861 0.923 0.968 0.993 1 0.987 0.956 0.906 0.838 0.754 0.656 0.546 0.429 0.311 0.2 0.106 0.037 0.003 0.007 0.05 0.126 0.225 0.338 0.456 0.572 0.68 0.775 0.855 0.919 0.965 0.992 1 0.989 0.959 0.911 0.844 0.761 0.664 0.555 0.438 0.32 0.208 0.112 0.041 0.004 0.006 0.046 0.119 0.217 0.329 0.447 0.564 0.672 0.768 0.85 0.915 0.962 0.99 1"/><feFuncB type="table" tableValues="0.093 0.184 0.293 0.41 0.528 0.639 0.74 0.826 0.896 0.949 0.984 0.999 0.995 0.973 0.932 0.872 0.795 0.703 0.598 0.484 0.366 0.251 0.147 0.065 0.014 0 0.026 0.087 0.176 0.284 0.401 0.519 0.631 0.732 0.82 0.892 0.946 0.982 0.999 0.996 0.975 0.935 0.877 0.802 0.711 0.607 0.493 0.375 0.259 0.154 0.071 0.017 0 0.023 0.081 0.169 0.276 0.392 0.51 0.623 0.725 0.814 0.887 0.942 0.98 0.998 0.997 0.978 0.939 0.882 0.808 0.718 0.615 0.502 0.384 0.268 0.162 0.076 0.02 0 0.019 0.076 0.161 0.267 0.383 0.501 0.614 0.718 0.808 0.882 0.939 0.977 0.997 0.998 0.98 0.943 0.887 0.814 0.726 0.623 0.511 0.393 0.276 0.169 0.082 0.023 0 0.017 0.07 0.154 0.258 0.374 0.492 0.606 0.71 0.801 0.877 0.935 0.975 0.996 0.999 0.982 0.946 0.892 0.821 0.733 0.632 0.52 0.402 0.285 0.177 0.087 0.026 0 0.014 0.065 0.147 0.25 0.365 0.483 0.598 0.703 0.795 0.872 0.931 0.973 0.995 0.999 0.984 0.95 0.897 0.827 0.74 0.64 0.529 0.411 0.294 0.185 0.093 0.03 0.001 0.012 0.06 0.139 0.241 0.356 0.474 0.589 0.695 0.788 0.866 0.927 0.97 0.994 0.999 0.986 0.953 0.902 0.833 0.747 0.648 0.537 0.42 0.303 0.193 0.1 0.033 0.002 0.009 0.055 0.132 0.233 0.347 0.465 0.581 0.687 0.782 0.861 0.923 0.968 0.993 1 0.987 0.956 0.906 0.838 0.754 0.656 0.546 0.429 0.311 0.2 0.106 0.037 0.003 0.007 0.05 0.126 0.225 0.338 0.456 0.572 0.68 0.775 0.855 0.919 0.965 0.992 1 0.989 0.959 0.911 0.844 0.761 0.664 0.555 0.438 0.32 0.208 0.112 0.041 0.004 0.006 0.046 0.119 0.217 0.329 0.447 0.564 0.672 0.768 0.85 0.915 0.962 0.99 1"/></feComponentTransfer><feGaussianBlur stdDeviation="1"/></filter><linearGradient id="eae11" gradientUnits="userSpaceOnUse" x1="804.6" x2="1044.8" y1="0" y2="0"><stop offset="-0.0079" stop-color="#000" stop-opacity="0.969"/><stop offset="0.0274" stop-color="#000" stop-opacity="0.915"/><stop offset="0.0626" stop-color="#000" stop-opacity="0.795"/><stop offset="0.1244" stop-color="#000" stop-opacity="0.75"/><stop offset="0.1684" stop-color="#000" stop-opacity="0.707"/><stop offset="0.2125" stop-color="#000" stop-opacity="0.681"/><stop offset="0.2654" stop-color="#000" stop-opacity="0.652"/><stop offset="0.3659" stop-color="#000" stop-opacity="0.609"/><stop offset="0.477" stop-color="#000" stop-opacity="0.603"/><stop offset="0.618" stop-color="#000" stop-opacity="0.508"/><stop offset="0.7943" stop-color="#000" stop-opacity="0.635"/><stop offset="1.0059" stop-color="#000" stop-opacity="0.689"/></linearGradient><linearGradient id="ebe11" gradientUnits="userSpaceOnUse" x1="804.6" x2="1044.8" y1="0" y2="0"><stop offset="-0.0079" stop-color="#fff" stop-opacity="0.03"/><stop offset="0.0274" stop-color="#fff" stop-opacity="0.06"/><stop offset="0.0626" stop-color="#fff" stop-opacity="0.12"/><stop offset="0.1244" stop-color="#fff" stop-opacity="0.2"/><stop offset="0.1684" stop-color="#fff" stop-opacity="0.25"/><stop offset="0.2125" stop-color="#fff" stop-opacity="0.295"/><stop offset="0.2654" stop-color="#fff" stop-opacity="0.325"/><stop offset="0.3659" stop-color="#fff" stop-opacity="0.36"/><stop offset="0.477" stop-color="#fff" stop-opacity="0.37"/><stop offset="0.618" stop-color="#fff" stop-opacity="0.39"/><stop offset="0.7943" stop-color="#fff" stop-opacity="0.37"/><stop offset="1.0059" stop-color="#fff" stop-opacity="0.39"/></linearGradient><clipPath id="cle11"><rect x="804.6" y="1004.7" width="240.2" height="240.9"/></clipPath><linearGradient id="cb1061" x1="0" x2="0" y1="0" y2="1"><stop offset="0" stop-color="#fffff8"/><stop offset="0.04" stop-color="#f8f4c0"/><stop offset="0.08" stop-color="#ede878"/><stop offset="0.12" stop-color="#e0d850"/><stop offset="0.16" stop-color="#d8cc38"/><stop offset="0.22" stop-color="#d2c028"/><stop offset="0.26" stop-color="#cfb525"/><stop offset="0.3" stop-color="#c9a01f"/><stop offset="0.34" stop-color="#c38a1c"/><stop offset="0.38" stop-color="#be7a1c"/><stop offset="0.4" stop-color="#bb721c"/><stop offset="0.44" stop-color="#b8661f"/><stop offset="0.49" stop-color="#b65828"/><stop offset="0.53" stop-color="#b04a38"/><stop offset="0.57" stop-color="#a03c4c"/><stop offset="0.61" stop-color="#903058"/><stop offset="0.65" stop-color="#802468"/><stop offset="0.69" stop-color="#721a6e"/><stop offset="0.73" stop-color="#641470"/><stop offset="0.77" stop-color="#560e70"/><stop offset="0.8" stop-color="#4c0c6c"/><stop offset="0.83" stop-color="#400a66"/><stop offset="0.87" stop-color="#340a60"/><stop offset="0.91" stop-color="#2a0a58"/><stop offset="0.95" stop-color="#1e0840"/><stop offset="0.98" stop-color="#100420"/><stop offset="1" stop-color="#040108"/></linearGradient></defs><text x="9.5" y="23.5" font-size="29.5" text-anchor="start" font-weight="bold" fill="#000">a</text>
<text x="728" y="23.5" font-size="29.5" text-anchor="start" font-weight="bold" fill="#000">b</text>
<text x="1230" y="23.7" font-size="29.5" text-anchor="start" font-weight="bold" fill="#000">c</text>
<text x="1562" y="23.7" font-size="29.5" text-anchor="start" font-weight="bold" fill="#000">d</text>
<text x="9.5" y="519.2" font-size="29.5" text-anchor="start" font-weight="bold" fill="#000">e</text>
<text x="1151.5" y="520.1" font-size="29.5" text-anchor="start" font-weight="bold" fill="#000">f</text>
<clipPath id="clipa"><rect x="159" y="56.8" width="539.8" height="299.6"/></clipPath>
<g clip-path="url(#clipa)" fill="none" stroke-linejoin="round" stroke-linecap="round" stroke-width="7"><path d="M163 341.7C163.1 336 163.3 319 163.5 307.3C163.7 295.6 163.5 277.9 164.2 271.7C164.9 265.6 166.5 270.4 167.6 270.6C168.7 270.8 169.8 269.8 170.6 272.9C171.4 275.9 171.6 285.5 172.2 288.9C172.9 292.4 173.7 290.1 174.5 293.5C175.3 297 175.8 305.8 176.8 309.6C177.7 313.4 179.3 314.6 180.2 316.5C181.2 318.4 181.6 321.4 182.5 321.1C183.5 320.7 184.8 313 186 314.2C187.1 315.3 188.4 327.2 189.4 327.9C190.4 328.7 190.9 323 191.7 318.8C192.5 314.6 193.5 303.5 194.4 302.7C195.4 301.9 196.5 310 197.4 314.2C198.4 318.4 199.2 329.1 200.2 327.9C201.1 326.8 202.2 314.9 203.2 307.3C204.1 299.6 205.1 287 205.9 282.1C206.8 277.1 207.3 275.9 208.2 277.5C209.1 279 210.2 284.5 211.2 291.2C212.2 297.9 213.1 316.9 214.2 317.6C215.2 318.4 216.4 309 217.4 295.8C218.4 282.6 219.4 255.7 220.4 238.5C221.4 221.3 222.5 203.1 223.3 192.6C224.2 182.1 225 178.1 225.6 175.4C226.3 172.7 227 173.7 227.5 176.6C227.9 179.4 228 185.4 228.4 192.6C228.8 199.9 229.2 212.5 229.8 220.1C230.3 227.8 231 234.7 231.6 238.5C232.2 242.3 232.8 245.4 233.4 243.1C234.1 240.8 235 235 235.7 224.7C236.5 214.4 237.3 196.1 238 181.1C238.8 166.2 239.4 148.7 240.3 135.3C241.2 121.9 242.2 109.3 243.3 100.9C244.4 92.5 245 88.8 246.7 84.8C248.5 80.8 250.9 78.5 253.6 76.8C256.3 75.1 259.7 74.5 262.8 74.5C265.9 74.5 269.1 75.5 272 76.8C274.8 78.1 277.5 79.7 280 82.5C282.5 85.4 284.8 88.6 286.9 94C289 99.3 290.9 107.8 292.6 114.6C294.3 121.5 295.7 128 297.2 135.3C298.7 142.5 300.5 152.5 301.8 158.2C303.1 163.9 303.7 167 305.2 169.7C306.8 172.4 309.2 172.7 311 174.3C312.7 175.8 314 175.8 315.6 178.9C317.1 181.9 318.4 185.7 320.1 192.6C321.9 199.5 324 210.2 325.9 220.1C327.8 230.1 329.7 241.5 331.6 252.2C333.5 263 335.7 276.7 337.3 284.4C338.9 292 340.2 295.4 341.2 298.1C342.3 300.8 342.5 300.8 343.5 300.4C344.5 300 345.7 300 347.2 295.8C348.7 291.6 350.5 283.2 352.2 275.2C354 267.2 355.9 255.9 358 247.7C360.1 239.4 362.8 230.8 364.9 225.9C367 220.9 368.9 219.4 370.6 217.8C372.3 216.3 373.5 216.2 375.2 216.7C376.9 217.2 379 217.9 380.9 220.6C382.8 223.3 384.5 227.3 386.7 232.8C388.8 238.2 391.2 246.3 393.5 253.4C395.8 260.5 398.1 268.5 400.4 275.2C402.7 281.9 405.4 289.3 407.3 293.5C409.2 297.8 410.5 299.3 411.9 300.9C413.2 302.4 413.8 303.5 415.3 302.7C416.9 301.9 419.4 297.7 421.1 295.8C422.7 293.9 422.8 295.8 425 291.2C427.2 286.6 431.1 275.9 434.2 268.3C437.2 260.6 440.3 251.1 443.3 245.3C446.4 239.6 449.8 236.7 452.5 233.9C455.2 231 457.3 229.3 459.4 228.1C461.5 226.9 463 226.3 465.1 226.5C467.2 226.8 469.1 227 472 229.7C474.9 232.5 478.7 237.4 482.3 243C486 248.7 490 256.4 493.8 263.7C497.6 270.9 501.4 279.9 505.3 286.6C509.1 293.3 513.3 299.8 516.7 303.8C520.2 307.8 522.8 309.1 525.9 310.7C529 312.2 532.2 313.2 535.1 313C537.9 312.7 540 311.7 543.1 309.1C546.1 306.4 549.4 302.2 553.4 296.9C557.4 291.6 562.6 283.5 567.2 277.4C571.8 271.3 576.3 265 580.9 260.2C585.5 255.5 590.1 251.8 594.7 248.8C599.3 245.7 603.9 243.4 608.4 241.9C613 240.4 617.6 239.6 622.2 239.6C626.8 239.6 631.4 240.4 636 241.9C640.5 243.4 645.1 246 649.7 248.8C654.3 251.6 658.9 255.2 663.5 258.6C668.1 262.1 672.6 265.7 677.2 269.4C681.8 273.1 687.9 278.2 691 280.9C694.1 283.5 694.8 284.7 695.6 285.5" stroke="#1f77b4"/><path d="M228.9 204.1C229.2 207.1 230 217.7 230.7 222.4C231.4 227.2 232.3 232.4 233 232.8C233.7 233.1 234.2 235.2 234.8 224.7C235.4 214.2 236 188.4 236.7 169.7C237.3 150.9 237.8 126.9 238.9 112.3C240.1 97.8 241.2 89.2 243.3 82.5C245.4 75.8 248.5 74.3 251.3 72.2C254.2 70.1 257.4 70.1 260.5 69.9C263.6 69.7 266.6 70.1 269.7 71.1C272.7 72 276.2 73 278.9 75.6C281.5 78.3 283.8 82.1 285.7 87.1C287.6 92.1 289 95.5 290.3 105.5C291.7 115.4 292.7 128.4 293.8 146.7C294.8 165.1 295.9 196.4 296.7 215.6C297.6 234.7 298.3 251.7 299 261.4C299.8 271.2 300.3 274 301.1 274C301.9 274 302.7 271.2 303.6 261.4C304.5 251.7 305.3 228.5 306.4 215.6C307.4 202.6 308.7 191.5 309.8 183.4C311 175.4 312.1 170.8 313.3 167.4C314.4 163.9 315.4 162.6 316.7 162.8C318 163 319.8 164.7 321.3 168.5C322.8 172.4 324.3 178.7 325.9 185.7C327.4 192.8 328.9 201.4 330.5 211C332 220.5 333.5 232.4 335 243.1C336.6 253.8 338.4 267.2 339.6 275.2C340.9 283.2 341.7 287.8 342.6 291.2C343.5 294.7 343.9 295.8 344.9 295.8C345.9 295.8 347.4 295.4 348.8 291.2C350.2 287 351.7 278.6 353.4 270.6C355.1 262.6 357 251.1 359.1 243.1C361.2 235 363.9 227.2 366 222.4C368.1 217.7 370.1 215.9 371.7 214.4C373.3 212.9 374.1 212.9 375.6 213.3C377.2 213.6 379.1 214 380.9 216.7C382.8 219.4 384.5 223.8 386.7 229.3C388.8 234.9 391.2 242.7 393.5 250C395.8 257.2 398.1 265.6 400.4 272.9C402.7 280.2 405.2 288 407.3 293.5C409.4 299.1 411.3 303.5 413 306.1C414.7 308.8 416.1 309.6 417.6 309.6C419.1 309.6 421 307.3 422.2 306.1C423.4 305 423 307.1 425 302.6C427 298.2 431.1 287.4 434.2 279.7C437.2 272.1 440.3 262.9 443.3 256.8C446.4 250.7 449.5 246.5 452.5 243C455.6 239.6 459.2 237.5 461.7 236.2C464.2 234.8 465.3 234.6 467.4 235C469.5 235.4 471.4 235.6 474.3 238.4C477.2 241.3 481 246.5 484.6 252.2C488.3 257.9 492.3 266 496.1 272.8C499.9 279.7 503.7 287.6 507.5 293.5C511.4 299.4 515.6 304.9 519 308.4C522.5 311.8 525.5 313 528.2 314.1C530.9 315.3 532.6 315.6 535.1 315.3C537.6 314.9 540 314.3 543.1 311.8C546.1 309.3 549.4 305.3 553.4 300.4C557.4 295.4 562.6 287.7 567.2 282C571.8 276.3 576.3 270.5 580.9 266C585.5 261.4 590.1 257.4 594.7 254.5C599.3 251.6 603.9 250 608.4 248.8C613 247.5 617.6 247 622.2 247.2C626.8 247.3 631.4 248 636 249.5C640.5 250.9 645.1 253.1 649.7 255.6C654.3 258.2 658.9 261.4 663.5 264.8C668.1 268.3 672.6 272.5 677.2 276.3C681.8 280.1 687.9 285.1 691 287.7C694.1 290.4 694.8 291.6 695.6 292.3" stroke="#ff7f0e"/></g>
<rect x="159" y="56.8" width="539.8" height="299.6" fill="none" stroke="#000" stroke-width="4.8"/>
<line x1="143" y1="342.8" x2="157" y2="342.8" stroke="#000" stroke-width="4"/>
<text x="126.5" y="352.5" font-size="27.3" text-anchor="end" fill="#000">0.0</text>
<line x1="143" y1="273.4" x2="157" y2="273.4" stroke="#000" stroke-width="4"/>
<text x="126.5" y="283.1" font-size="27.3" text-anchor="end" fill="#000">0.2</text>
<line x1="143" y1="204" x2="157" y2="204" stroke="#000" stroke-width="4"/>
<text x="126.5" y="213.7" font-size="27.3" text-anchor="end" fill="#000">0.4</text>
<line x1="143" y1="134.6" x2="157" y2="134.6" stroke="#000" stroke-width="4"/>
<text x="126.5" y="144.3" font-size="27.3" text-anchor="end" fill="#000">0.6</text>
<line x1="143" y1="65.2" x2="157" y2="65.2" stroke="#000" stroke-width="4"/>
<text x="126.5" y="74.9" font-size="27.3" text-anchor="end" fill="#000">0.8</text>
<line x1="159" y1="358" x2="159" y2="372.2" stroke="#000" stroke-width="3.8"/>
<text x="159" y="408.6" font-size="27.3" text-anchor="middle" fill="#000">200</text>
<line x1="248.97" y1="358" x2="248.97" y2="372.2" stroke="#000" stroke-width="3.8"/>
<text x="248.97" y="408.6" font-size="27.3" text-anchor="middle" fill="#000">300</text>
<line x1="338.94" y1="358" x2="338.94" y2="372.2" stroke="#000" stroke-width="3.8"/>
<text x="338.94" y="408.6" font-size="27.3" text-anchor="middle" fill="#000">400</text>
<line x1="428.91" y1="358" x2="428.91" y2="372.2" stroke="#000" stroke-width="3.8"/>
<text x="428.91" y="408.6" font-size="27.3" text-anchor="middle" fill="#000">500</text>
<line x1="518.88" y1="358" x2="518.88" y2="372.2" stroke="#000" stroke-width="3.8"/>
<text x="518.88" y="408.6" font-size="27.3" text-anchor="middle" fill="#000">600</text>
<line x1="608.85" y1="358" x2="608.85" y2="372.2" stroke="#000" stroke-width="3.8"/>
<text x="608.85" y="408.6" font-size="27.3" text-anchor="middle" fill="#000">700</text>
<line x1="698.82" y1="358" x2="698.82" y2="372.2" stroke="#000" stroke-width="3.8"/>
<text x="698.82" y="408.6" font-size="27.3" text-anchor="middle" fill="#000">800</text>
<text x="429" y="452.2" font-size="28" text-anchor="middle" fill="#000">Wavelength (nm)</text>
<text x="65" y="205.8" font-size="28" text-anchor="middle" fill="#000" transform="rotate(-90 65 205.8)">Reflectance</text>
<line x1="511.7" y1="85.5" x2="565" y2="85.5" stroke="#1f77b4" stroke-width="8"/>
<line x1="511.7" y1="117.4" x2="565" y2="117.4" stroke="#ff7f0e" stroke-width="8"/>
<text x="580.5" y="92.8" font-size="23.3" text-anchor="start" fill="#000">Spectrum</text>
<text x="580.5" y="124.9" font-size="23.3" text-anchor="start" fill="#000">TMM</text>
<g clip-path="url(#clb)"><g filter="url(#cmap)"><g filter="url(#frb)"><rect x="802.2" y="28.8" width="341.2" height="341.6" fill="url(#gxb)"/><rect x="802.2" y="28.8" width="341.2" height="341.6" fill="url(#gyb)"/></g><rect x="802.2" y="28.8" width="341.2" height="341.6" fill="url(#eab)"/><rect x="802.2" y="28.8" width="341.2" height="341.6" fill="url(#ebb)"/><rect x="802.2" y="28.8" width="341.2" height="341.6" fill="url(#tcb)" style="mix-blend-mode:darken"/><rect x="915.42" y="4.8" width="35.98" height="129.63" fill="#fff" opacity="0.9" filter="url(#bl9)"/><rect x="959.52" y="-5.2" width="217.88" height="143.92" fill="#fff" opacity="0.24" filter="url(#bl14)"/><rect x="802.2" y="359.4" width="341.2" height="11" fill="#000" opacity="0.25"/></g></g>
<line x1="808.2" y1="291.9" x2="821.7" y2="291.9" stroke="#fff" stroke-width="4"/>
<text x="803.2" y="301.57" font-size="27" text-anchor="end" fill="#000">10</text>
<line x1="808.2" y1="188.2" x2="821.7" y2="188.2" stroke="#fff" stroke-width="4"/>
<text x="803.2" y="197.87" font-size="27" text-anchor="end" fill="#000">100</text>
<line x1="808.2" y1="84.5" x2="821.7" y2="84.5" stroke="#fff" stroke-width="4"/>
<text x="803.2" y="94.17" font-size="27" text-anchor="end" fill="#000">1000</text>
<line x1="836.5" y1="364.4" x2="836.5" y2="352.4" stroke="#fff" stroke-width="4"/>
<text x="848.67" y="374.4" font-size="27" text-anchor="end" fill="#000" transform="rotate(-90 848.67 374.4)">300</text>
<line x1="894.53" y1="364.4" x2="894.53" y2="352.4" stroke="#fff" stroke-width="4"/>
<text x="906.7" y="374.4" font-size="27" text-anchor="end" fill="#000" transform="rotate(-90 906.7 374.4)">400</text>
<line x1="952.56" y1="364.4" x2="952.56" y2="352.4" stroke="#fff" stroke-width="4"/>
<text x="964.73" y="374.4" font-size="27" text-anchor="end" fill="#000" transform="rotate(-90 964.73 374.4)">500</text>
<line x1="1010.59" y1="364.4" x2="1010.59" y2="352.4" stroke="#fff" stroke-width="4"/>
<text x="1022.76" y="374.4" font-size="27" text-anchor="end" fill="#000" transform="rotate(-90 1022.76 374.4)">600</text>
<line x1="1068.62" y1="364.4" x2="1068.62" y2="352.4" stroke="#fff" stroke-width="4"/>
<text x="1080.79" y="374.4" font-size="27" text-anchor="end" fill="#000" transform="rotate(-90 1080.79 374.4)">700</text>
<line x1="1126.65" y1="364.4" x2="1126.65" y2="352.4" stroke="#fff" stroke-width="4"/>
<text x="1138.82" y="374.4" font-size="27" text-anchor="end" fill="#000" transform="rotate(-90 1138.82 374.4)">800</text>
<path d="M938.05 25H948.75V44.2H954.7L943.4 64.6L932.1 44.2H938.05Z" fill="#4dbd80"/>
<g clip-path="url(#clc)"><g filter="url(#cmap)"><g filter="url(#frc)"><rect x="1218.1" y="32.75" width="340.9" height="341.65" fill="url(#gxc)"/><rect x="1218.1" y="32.75" width="340.9" height="341.65" fill="url(#gyc)"/></g><rect x="1218.1" y="32.75" width="340.9" height="341.65" fill="url(#eac)"/><rect x="1218.1" y="32.75" width="340.9" height="341.65" fill="url(#ebc)"/><rect x="1218.1" y="32.75" width="340.9" height="341.65" fill="url(#tcc)" style="mix-blend-mode:darken"/><rect x="1218.1" y="363.4" width="340.9" height="11" fill="#000" opacity="0.25"/></g></g>
<line x1="1224.1" y1="297.7" x2="1237.6" y2="297.7" stroke="#fff" stroke-width="4"/>
<text x="1219.1" y="307.37" font-size="27" text-anchor="end" fill="#000">10</text>
<line x1="1224.1" y1="196.5" x2="1237.6" y2="196.5" stroke="#fff" stroke-width="4"/>
<text x="1219.1" y="206.17" font-size="27" text-anchor="end" fill="#000">100</text>
<line x1="1224.1" y1="95.3" x2="1237.6" y2="95.3" stroke="#fff" stroke-width="4"/>
<text x="1219.1" y="104.97" font-size="27" text-anchor="end" fill="#000">1000</text>
<line x1="1253.1" y1="368.4" x2="1253.1" y2="356.4" stroke="#fff" stroke-width="4"/>
<text x="1262.77" y="383.4" font-size="27" text-anchor="end" fill="#000" transform="rotate(-90 1262.77 383.4)">300</text>
<line x1="1311" y1="368.4" x2="1311" y2="356.4" stroke="#fff" stroke-width="4"/>
<text x="1320.67" y="383.4" font-size="27" text-anchor="end" fill="#000" transform="rotate(-90 1320.67 383.4)">400</text>
<line x1="1368.9" y1="368.4" x2="1368.9" y2="356.4" stroke="#fff" stroke-width="4"/>
<text x="1378.57" y="383.4" font-size="27" text-anchor="end" fill="#000" transform="rotate(-90 1378.57 383.4)">500</text>
<line x1="1426.8" y1="368.4" x2="1426.8" y2="356.4" stroke="#fff" stroke-width="4"/>
<text x="1436.47" y="383.4" font-size="27" text-anchor="end" fill="#000" transform="rotate(-90 1436.47 383.4)">600</text>
<line x1="1484.7" y1="368.4" x2="1484.7" y2="356.4" stroke="#fff" stroke-width="4"/>
<text x="1494.37" y="383.4" font-size="27" text-anchor="end" fill="#000" transform="rotate(-90 1494.37 383.4)">700</text>
<line x1="1542.6" y1="368.4" x2="1542.6" y2="356.4" stroke="#fff" stroke-width="4"/>
<text x="1552.27" y="383.4" font-size="27" text-anchor="end" fill="#000" transform="rotate(-90 1552.27 383.4)">800</text>
<path d="M1359.1 181.7H1370.1V200.1H1375.7L1364.6 221.3L1353.5 200.1H1359.1Z" fill="#4dbd80"/>
<g clip-path="url(#cld)"><g filter="url(#cmap)"><g filter="url(#frd)"><rect x="1551" y="32.75" width="341.4" height="341.65" fill="url(#gxd)"/><rect x="1551" y="32.75" width="341.4" height="341.65" fill="url(#gyd)"/></g><rect x="1551" y="32.75" width="341.4" height="341.65" fill="url(#ead)"/><rect x="1551" y="32.75" width="341.4" height="341.65" fill="url(#ebd)"/><rect x="1551" y="363.4" width="341.4" height="11" fill="#000" opacity="0.25"/></g></g>
<line x1="1557" y1="297.7" x2="1570.5" y2="297.7" stroke="#fff" stroke-width="4"/>
<line x1="1557" y1="196.5" x2="1570.5" y2="196.5" stroke="#fff" stroke-width="4"/>
<line x1="1557" y1="95.3" x2="1570.5" y2="95.3" stroke="#fff" stroke-width="4"/>
<line x1="1585.8" y1="368.4" x2="1585.8" y2="356.4" stroke="#fff" stroke-width="4"/>
<text x="1595.47" y="383.4" font-size="27" text-anchor="end" fill="#000" transform="rotate(-90 1595.47 383.4)">300</text>
<line x1="1643.76" y1="368.4" x2="1643.76" y2="356.4" stroke="#fff" stroke-width="4"/>
<text x="1653.43" y="383.4" font-size="27" text-anchor="end" fill="#000" transform="rotate(-90 1653.43 383.4)">400</text>
<line x1="1701.72" y1="368.4" x2="1701.72" y2="356.4" stroke="#fff" stroke-width="4"/>
<text x="1711.39" y="383.4" font-size="27" text-anchor="end" fill="#000" transform="rotate(-90 1711.39 383.4)">500</text>
<line x1="1759.68" y1="368.4" x2="1759.68" y2="356.4" stroke="#fff" stroke-width="4"/>
<text x="1769.35" y="383.4" font-size="27" text-anchor="end" fill="#000" transform="rotate(-90 1769.35 383.4)">600</text>
<line x1="1817.64" y1="368.4" x2="1817.64" y2="356.4" stroke="#fff" stroke-width="4"/>
<text x="1827.31" y="383.4" font-size="27" text-anchor="end" fill="#000" transform="rotate(-90 1827.31 383.4)">700</text>
<line x1="1875.6" y1="368.4" x2="1875.6" y2="356.4" stroke="#fff" stroke-width="4"/>
<text x="1885.27" y="383.4" font-size="27" text-anchor="end" fill="#000" transform="rotate(-90 1885.27 383.4)">800</text>
<rect x="1900.1" y="41.6" width="34.1" height="322.3" fill="url(#cb1899)" stroke="#000" stroke-width="2.2"/>
<line x1="1930.3" y1="43.8" x2="1938.8" y2="43.8" stroke="#000" stroke-width="2.2"/>
<text x="1944.3" y="53.11" font-size="26" text-anchor="start" fill="#000">100</text>
<line x1="1930.3" y1="170.2" x2="1938.8" y2="170.2" stroke="#000" stroke-width="2.2"/>
<text x="1944.3" y="179.51" font-size="26" text-anchor="start" fill="#000">40</text>
<line x1="1930.3" y1="297.5" x2="1938.8" y2="297.5" stroke="#000" stroke-width="2.2"/>
<text x="1944.3" y="306.81" font-size="26" text-anchor="start" fill="#000">20</text>
<text x="2009.5" y="202.75" font-size="24.7" text-anchor="middle" fill="#000" transform="rotate(-90 2009.5 202.75)">Reflected light Intensity (a. u.)</text>
<g clip-path="url(#cle0)"><g filter="url(#cmap)"><g filter="url(#fre0)"><rect x="67.8" y="510.9" width="252.2" height="252.9" fill="url(#gxe0)"/><rect x="67.8" y="510.9" width="252.2" height="252.9" fill="url(#gye0)"/></g><rect x="67.8" y="510.9" width="252.2" height="252.9" fill="url(#eae0)"/><rect x="67.8" y="510.9" width="252.2" height="252.9" fill="url(#ebe0)"/><rect x="67.8" y="510.9" width="252.2" height="252.9" fill="url(#tce0)" style="mix-blend-mode:darken"/><rect x="67.8" y="754" width="252.2" height="9.8" fill="#000" opacity="0.25"/></g></g>
<line x1="73.8" y1="706.1" x2="83.8" y2="706.1" stroke="#fff" stroke-width="3.1"/>
<text x="64.8" y="713.05" font-size="19.4" text-anchor="end" fill="#000">10</text>
<line x1="73.8" y1="631.95" x2="83.8" y2="631.95" stroke="#fff" stroke-width="3.1"/>
<text x="64.8" y="638.9" font-size="19.4" text-anchor="end" fill="#000">100</text>
<line x1="73.8" y1="557.8" x2="83.8" y2="557.8" stroke="#fff" stroke-width="3.1"/>
<text x="64.8" y="564.75" font-size="19.4" text-anchor="end" fill="#000">1000</text>
<line x1="95.2" y1="757.8" x2="95.2" y2="748.3" stroke="#fff" stroke-width="3.1"/>
<line x1="137.55" y1="757.8" x2="137.55" y2="748.3" stroke="#fff" stroke-width="3.1"/>
<line x1="179.9" y1="757.8" x2="179.9" y2="748.3" stroke="#fff" stroke-width="3.1"/>
<line x1="222.25" y1="757.8" x2="222.25" y2="748.3" stroke="#fff" stroke-width="3.1"/>
<line x1="264.6" y1="757.8" x2="264.6" y2="748.3" stroke="#fff" stroke-width="3.1"/>
<line x1="306.95" y1="757.8" x2="306.95" y2="748.3" stroke="#fff" stroke-width="3.1"/>
<text x="82.3" y="536.7" font-size="20.5" text-anchor="start" fill="#fff">without de-stressing</text>
<g clip-path="url(#cle1)"><g filter="url(#cmap)"><g filter="url(#fre1)"><rect x="311.4" y="510.9" width="252.2" height="252.9" fill="url(#gxe1)"/><rect x="311.4" y="510.9" width="252.2" height="252.9" fill="url(#gye1)"/></g><rect x="311.4" y="510.9" width="252.2" height="252.9" fill="url(#eae1)"/><rect x="311.4" y="510.9" width="252.2" height="252.9" fill="url(#ebe1)"/><rect x="311.4" y="510.9" width="252.2" height="252.9" fill="url(#tce1)" style="mix-blend-mode:darken"/><rect x="311.4" y="754" width="252.2" height="9.8" fill="#000" opacity="0.25"/></g></g>
<line x1="317.4" y1="706.1" x2="327.4" y2="706.1" stroke="#fff" stroke-width="3.1"/>
<line x1="317.4" y1="631.95" x2="327.4" y2="631.95" stroke="#fff" stroke-width="3.1"/>
<line x1="317.4" y1="557.8" x2="327.4" y2="557.8" stroke="#fff" stroke-width="3.1"/>
<line x1="338.8" y1="757.8" x2="338.8" y2="748.3" stroke="#fff" stroke-width="3.1"/>
<line x1="381.15" y1="757.8" x2="381.15" y2="748.3" stroke="#fff" stroke-width="3.1"/>
<line x1="423.5" y1="757.8" x2="423.5" y2="748.3" stroke="#fff" stroke-width="3.1"/>
<line x1="465.85" y1="757.8" x2="465.85" y2="748.3" stroke="#fff" stroke-width="3.1"/>
<line x1="508.2" y1="757.8" x2="508.2" y2="748.3" stroke="#fff" stroke-width="3.1"/>
<line x1="550.55" y1="757.8" x2="550.55" y2="748.3" stroke="#fff" stroke-width="3.1"/>
<text x="325.9" y="539.9" font-size="20.5" text-anchor="start" fill="#fff">60°C</text>
<g clip-path="url(#cle2)"><g filter="url(#cmap)"><g filter="url(#fre2)"><rect x="555" y="510.9" width="252.2" height="252.9" fill="url(#gxe2)"/><rect x="555" y="510.9" width="252.2" height="252.9" fill="url(#gye2)"/></g><rect x="555" y="510.9" width="252.2" height="252.9" fill="url(#eae2)"/><rect x="555" y="510.9" width="252.2" height="252.9" fill="url(#ebe2)"/><rect x="555" y="510.9" width="252.2" height="252.9" fill="url(#tce2)" style="mix-blend-mode:darken"/><rect x="555" y="754" width="252.2" height="9.8" fill="#000" opacity="0.25"/></g></g>
<line x1="561" y1="706.1" x2="571" y2="706.1" stroke="#fff" stroke-width="3.1"/>
<line x1="561" y1="631.95" x2="571" y2="631.95" stroke="#fff" stroke-width="3.1"/>
<line x1="561" y1="557.8" x2="571" y2="557.8" stroke="#fff" stroke-width="3.1"/>
<line x1="582.4" y1="757.8" x2="582.4" y2="748.3" stroke="#fff" stroke-width="3.1"/>
<line x1="624.75" y1="757.8" x2="624.75" y2="748.3" stroke="#fff" stroke-width="3.1"/>
<line x1="667.1" y1="757.8" x2="667.1" y2="748.3" stroke="#fff" stroke-width="3.1"/>
<line x1="709.45" y1="757.8" x2="709.45" y2="748.3" stroke="#fff" stroke-width="3.1"/>
<line x1="751.8" y1="757.8" x2="751.8" y2="748.3" stroke="#fff" stroke-width="3.1"/>
<line x1="794.15" y1="757.8" x2="794.15" y2="748.3" stroke="#fff" stroke-width="3.1"/>
<text x="569.5" y="539.9" font-size="20.5" text-anchor="start" fill="#fff">70°C</text>
<g clip-path="url(#cle3)"><g filter="url(#cmap)"><g filter="url(#fre3)"><rect x="798.6" y="510.9" width="252.2" height="252.9" fill="url(#gxe3)"/><rect x="798.6" y="510.9" width="252.2" height="252.9" fill="url(#gye3)"/></g><rect x="798.6" y="510.9" width="252.2" height="252.9" fill="url(#eae3)"/><rect x="798.6" y="510.9" width="252.2" height="252.9" fill="url(#ebe3)"/><rect x="798.6" y="510.9" width="252.2" height="252.9" fill="url(#tce3)" style="mix-blend-mode:darken"/><rect x="798.6" y="754" width="252.2" height="9.8" fill="#000" opacity="0.25"/></g></g>
<line x1="804.6" y1="706.1" x2="814.6" y2="706.1" stroke="#fff" stroke-width="3.1"/>
<line x1="804.6" y1="631.95" x2="814.6" y2="631.95" stroke="#fff" stroke-width="3.1"/>
<line x1="804.6" y1="557.8" x2="814.6" y2="557.8" stroke="#fff" stroke-width="3.1"/>
<line x1="826" y1="757.8" x2="826" y2="748.3" stroke="#fff" stroke-width="3.1"/>
<line x1="868.35" y1="757.8" x2="868.35" y2="748.3" stroke="#fff" stroke-width="3.1"/>
<line x1="910.7" y1="757.8" x2="910.7" y2="748.3" stroke="#fff" stroke-width="3.1"/>
<line x1="953.05" y1="757.8" x2="953.05" y2="748.3" stroke="#fff" stroke-width="3.1"/>
<line x1="995.4" y1="757.8" x2="995.4" y2="748.3" stroke="#fff" stroke-width="3.1"/>
<line x1="1037.75" y1="757.8" x2="1037.75" y2="748.3" stroke="#fff" stroke-width="3.1"/>
<text x="813.1" y="539.9" font-size="20.5" text-anchor="start" fill="#fff">80°C</text>
<g clip-path="url(#cle4)"><g filter="url(#cmap)"><g filter="url(#fre4)"><rect x="67.8" y="754.8" width="252.2" height="252.9" fill="url(#gxe4)"/><rect x="67.8" y="754.8" width="252.2" height="252.9" fill="url(#gye4)"/></g><rect x="67.8" y="754.8" width="252.2" height="252.9" fill="url(#eae4)"/><rect x="67.8" y="754.8" width="252.2" height="252.9" fill="url(#ebe4)"/><rect x="67.8" y="754.8" width="252.2" height="252.9" fill="url(#tce4)" style="mix-blend-mode:darken"/><rect x="67.8" y="997.9" width="252.2" height="9.8" fill="#000" opacity="0.25"/></g></g>
<line x1="73.8" y1="950" x2="83.8" y2="950" stroke="#fff" stroke-width="3.1"/>
<text x="64.8" y="956.95" font-size="19.4" text-anchor="end" fill="#000">10</text>
<line x1="73.8" y1="875.85" x2="83.8" y2="875.85" stroke="#fff" stroke-width="3.1"/>
<text x="64.8" y="882.8" font-size="19.4" text-anchor="end" fill="#000">100</text>
<line x1="73.8" y1="801.7" x2="83.8" y2="801.7" stroke="#fff" stroke-width="3.1"/>
<text x="64.8" y="808.65" font-size="19.4" text-anchor="end" fill="#000">1000</text>
<line x1="95.2" y1="1001.7" x2="95.2" y2="992.2" stroke="#fff" stroke-width="3.1"/>
<line x1="137.55" y1="1001.7" x2="137.55" y2="992.2" stroke="#fff" stroke-width="3.1"/>
<line x1="179.9" y1="1001.7" x2="179.9" y2="992.2" stroke="#fff" stroke-width="3.1"/>
<line x1="222.25" y1="1001.7" x2="222.25" y2="992.2" stroke="#fff" stroke-width="3.1"/>
<line x1="264.6" y1="1001.7" x2="264.6" y2="992.2" stroke="#fff" stroke-width="3.1"/>
<line x1="306.95" y1="1001.7" x2="306.95" y2="992.2" stroke="#fff" stroke-width="3.1"/>
<text x="82.3" y="783.8" font-size="20.5" text-anchor="start" fill="#fff">90°C</text>
<g clip-path="url(#cle5)"><g filter="url(#cmap)"><g filter="url(#fre5)"><rect x="311.4" y="754.8" width="252.2" height="252.9" fill="url(#gxe5)"/><rect x="311.4" y="754.8" width="252.2" height="252.9" fill="url(#gye5)"/></g><rect x="311.4" y="754.8" width="252.2" height="252.9" fill="url(#eae5)"/><rect x="311.4" y="754.8" width="252.2" height="252.9" fill="url(#ebe5)"/><rect x="311.4" y="754.8" width="252.2" height="252.9" fill="url(#tce5)" style="mix-blend-mode:darken"/><rect x="311.4" y="997.9" width="252.2" height="9.8" fill="#000" opacity="0.25"/></g></g>
<line x1="317.4" y1="950" x2="327.4" y2="950" stroke="#fff" stroke-width="3.1"/>
<line x1="317.4" y1="875.85" x2="327.4" y2="875.85" stroke="#fff" stroke-width="3.1"/>
<line x1="317.4" y1="801.7" x2="327.4" y2="801.7" stroke="#fff" stroke-width="3.1"/>
<line x1="338.8" y1="1001.7" x2="338.8" y2="992.2" stroke="#fff" stroke-width="3.1"/>
<line x1="381.15" y1="1001.7" x2="381.15" y2="992.2" stroke="#fff" stroke-width="3.1"/>
<line x1="423.5" y1="1001.7" x2="423.5" y2="992.2" stroke="#fff" stroke-width="3.1"/>
<line x1="465.85" y1="1001.7" x2="465.85" y2="992.2" stroke="#fff" stroke-width="3.1"/>
<line x1="508.2" y1="1001.7" x2="508.2" y2="992.2" stroke="#fff" stroke-width="3.1"/>
<line x1="550.55" y1="1001.7" x2="550.55" y2="992.2" stroke="#fff" stroke-width="3.1"/>
<text x="325.9" y="783.8" font-size="20.5" text-anchor="start" fill="#fff">100°C</text>
<g clip-path="url(#cle6)"><g filter="url(#cmap)"><g filter="url(#fre6)"><rect x="555" y="754.8" width="252.2" height="252.9" fill="url(#gxe6)"/><rect x="555" y="754.8" width="252.2" height="252.9" fill="url(#gye6)"/></g><rect x="555" y="754.8" width="252.2" height="252.9" fill="url(#eae6)"/><rect x="555" y="754.8" width="252.2" height="252.9" fill="url(#ebe6)"/><rect x="555" y="997.9" width="252.2" height="9.8" fill="#000" opacity="0.25"/></g></g>
<line x1="561" y1="950" x2="571" y2="950" stroke="#fff" stroke-width="3.1"/>
<line x1="561" y1="875.85" x2="571" y2="875.85" stroke="#fff" stroke-width="3.1"/>
<line x1="561" y1="801.7" x2="571" y2="801.7" stroke="#fff" stroke-width="3.1"/>
<line x1="582.4" y1="1001.7" x2="582.4" y2="992.2" stroke="#fff" stroke-width="3.1"/>
<line x1="624.75" y1="1001.7" x2="624.75" y2="992.2" stroke="#fff" stroke-width="3.1"/>
<line x1="667.1" y1="1001.7" x2="667.1" y2="992.2" stroke="#fff" stroke-width="3.1"/>
<line x1="709.45" y1="1001.7" x2="709.45" y2="992.2" stroke="#fff" stroke-width="3.1"/>
<line x1="751.8" y1="1001.7" x2="751.8" y2="992.2" stroke="#fff" stroke-width="3.1"/>
<line x1="794.15" y1="1001.7" x2="794.15" y2="992.2" stroke="#fff" stroke-width="3.1"/>
<text x="569.5" y="783.8" font-size="20.5" text-anchor="start" fill="#fff">110°C</text>
<g clip-path="url(#cle7)"><g filter="url(#cmap)"><g filter="url(#fre7)"><rect x="798.6" y="754.8" width="252.2" height="252.9" fill="url(#gxe7)"/><rect x="798.6" y="754.8" width="252.2" height="252.9" fill="url(#gye7)"/></g><rect x="798.6" y="754.8" width="252.2" height="252.9" fill="url(#eae7)"/><rect x="798.6" y="754.8" width="252.2" height="252.9" fill="url(#ebe7)"/><rect x="798.6" y="997.9" width="252.2" height="9.8" fill="#000" opacity="0.25"/></g></g>
<line x1="804.6" y1="950" x2="814.6" y2="950" stroke="#fff" stroke-width="3.1"/>
<line x1="804.6" y1="875.85" x2="814.6" y2="875.85" stroke="#fff" stroke-width="3.1"/>
<line x1="804.6" y1="801.7" x2="814.6" y2="801.7" stroke="#fff" stroke-width="3.1"/>
<line x1="826" y1="1001.7" x2="826" y2="992.2" stroke="#fff" stroke-width="3.1"/>
<line x1="868.35" y1="1001.7" x2="868.35" y2="992.2" stroke="#fff" stroke-width="3.1"/>
<line x1="910.7" y1="1001.7" x2="910.7" y2="992.2" stroke="#fff" stroke-width="3.1"/>
<line x1="953.05" y1="1001.7" x2="953.05" y2="992.2" stroke="#fff" stroke-width="3.1"/>
<line x1="995.4" y1="1001.7" x2="995.4" y2="992.2" stroke="#fff" stroke-width="3.1"/>
<line x1="1037.75" y1="1001.7" x2="1037.75" y2="992.2" stroke="#fff" stroke-width="3.1"/>
<text x="813.1" y="783.8" font-size="20.5" text-anchor="start" fill="#fff">120°C</text>
<g clip-path="url(#cle8)"><g filter="url(#cmap)"><g filter="url(#fre8)"><rect x="67.8" y="998.7" width="252.2" height="252.9" fill="url(#gxe8)"/><rect x="67.8" y="998.7" width="252.2" height="252.9" fill="url(#gye8)"/></g><rect x="67.8" y="998.7" width="252.2" height="252.9" fill="url(#eae8)"/><rect x="67.8" y="998.7" width="252.2" height="252.9" fill="url(#ebe8)"/><rect x="67.8" y="1241.8" width="252.2" height="9.8" fill="#000" opacity="0.25"/></g></g>
<line x1="73.8" y1="1193.9" x2="83.8" y2="1193.9" stroke="#fff" stroke-width="3.1"/>
<text x="64.8" y="1200.85" font-size="19.4" text-anchor="end" fill="#000">10</text>
<line x1="73.8" y1="1119.75" x2="83.8" y2="1119.75" stroke="#fff" stroke-width="3.1"/>
<text x="64.8" y="1126.7" font-size="19.4" text-anchor="end" fill="#000">100</text>
<line x1="73.8" y1="1045.6" x2="83.8" y2="1045.6" stroke="#fff" stroke-width="3.1"/>
<text x="64.8" y="1052.55" font-size="19.4" text-anchor="end" fill="#000">1000</text>
<line x1="95.2" y1="1245.6" x2="95.2" y2="1236.1" stroke="#fff" stroke-width="3.1"/>
<text x="102.15" y="1253.6" font-size="19.4" text-anchor="end" fill="#000" transform="rotate(-90 102.15 1253.6)">300</text>
<line x1="137.55" y1="1245.6" x2="137.55" y2="1236.1" stroke="#fff" stroke-width="3.1"/>
<text x="144.5" y="1253.6" font-size="19.4" text-anchor="end" fill="#000" transform="rotate(-90 144.5 1253.6)">400</text>
<line x1="179.9" y1="1245.6" x2="179.9" y2="1236.1" stroke="#fff" stroke-width="3.1"/>
<text x="186.85" y="1253.6" font-size="19.4" text-anchor="end" fill="#000" transform="rotate(-90 186.85 1253.6)">500</text>
<line x1="222.25" y1="1245.6" x2="222.25" y2="1236.1" stroke="#fff" stroke-width="3.1"/>
<text x="229.2" y="1253.6" font-size="19.4" text-anchor="end" fill="#000" transform="rotate(-90 229.2 1253.6)">600</text>
<line x1="264.6" y1="1245.6" x2="264.6" y2="1236.1" stroke="#fff" stroke-width="3.1"/>
<text x="271.55" y="1253.6" font-size="19.4" text-anchor="end" fill="#000" transform="rotate(-90 271.55 1253.6)">700</text>
<line x1="306.95" y1="1245.6" x2="306.95" y2="1236.1" stroke="#fff" stroke-width="3.1"/>
<text x="313.9" y="1253.6" font-size="19.4" text-anchor="end" fill="#000" transform="rotate(-90 313.9 1253.6)">800</text>
<text x="82.3" y="1027.7" font-size="20.5" text-anchor="start" fill="#fff">130°C</text>
<g clip-path="url(#cle9)"><g filter="url(#cmap)"><g filter="url(#fre9)"><rect x="311.4" y="998.7" width="252.2" height="252.9" fill="url(#gxe9)"/><rect x="311.4" y="998.7" width="252.2" height="252.9" fill="url(#gye9)"/></g><rect x="311.4" y="998.7" width="252.2" height="252.9" fill="url(#eae9)"/><rect x="311.4" y="998.7" width="252.2" height="252.9" fill="url(#ebe9)"/><rect x="311.4" y="1241.8" width="252.2" height="9.8" fill="#000" opacity="0.25"/></g></g>
<line x1="317.4" y1="1193.9" x2="327.4" y2="1193.9" stroke="#fff" stroke-width="3.1"/>
<line x1="317.4" y1="1119.75" x2="327.4" y2="1119.75" stroke="#fff" stroke-width="3.1"/>
<line x1="317.4" y1="1045.6" x2="327.4" y2="1045.6" stroke="#fff" stroke-width="3.1"/>
<line x1="338.8" y1="1245.6" x2="338.8" y2="1236.1" stroke="#fff" stroke-width="3.1"/>
<text x="345.75" y="1253.6" font-size="19.4" text-anchor="end" fill="#000" transform="rotate(-90 345.75 1253.6)">300</text>
<line x1="381.15" y1="1245.6" x2="381.15" y2="1236.1" stroke="#fff" stroke-width="3.1"/>
<text x="388.1" y="1253.6" font-size="19.4" text-anchor="end" fill="#000" transform="rotate(-90 388.1 1253.6)">400</text>
<line x1="423.5" y1="1245.6" x2="423.5" y2="1236.1" stroke="#fff" stroke-width="3.1"/>
<text x="430.45" y="1253.6" font-size="19.4" text-anchor="end" fill="#000" transform="rotate(-90 430.45 1253.6)">500</text>
<line x1="465.85" y1="1245.6" x2="465.85" y2="1236.1" stroke="#fff" stroke-width="3.1"/>
<text x="472.8" y="1253.6" font-size="19.4" text-anchor="end" fill="#000" transform="rotate(-90 472.8 1253.6)">600</text>
<line x1="508.2" y1="1245.6" x2="508.2" y2="1236.1" stroke="#fff" stroke-width="3.1"/>
<text x="515.15" y="1253.6" font-size="19.4" text-anchor="end" fill="#000" transform="rotate(-90 515.15 1253.6)">700</text>
<line x1="550.55" y1="1245.6" x2="550.55" y2="1236.1" stroke="#fff" stroke-width="3.1"/>
<text x="557.5" y="1253.6" font-size="19.4" text-anchor="end" fill="#000" transform="rotate(-90 557.5 1253.6)">800</text>
<text x="325.9" y="1027.7" font-size="20.5" text-anchor="start" fill="#fff">140°C</text>
<g clip-path="url(#cle10)"><g filter="url(#cmap)"><g filter="url(#fre10)"><rect x="555" y="998.7" width="252.2" height="252.9" fill="url(#gxe10)"/><rect x="555" y="998.7" width="252.2" height="252.9" fill="url(#gye10)"/></g><rect x="555" y="998.7" width="252.2" height="252.9" fill="url(#eae10)"/><rect x="555" y="998.7" width="252.2" height="252.9" fill="url(#ebe10)"/><rect x="555" y="1241.8" width="252.2" height="9.8" fill="#000" opacity="0.25"/></g></g>
<line x1="561" y1="1193.9" x2="571" y2="1193.9" stroke="#fff" stroke-width="3.1"/>
<line x1="561" y1="1119.75" x2="571" y2="1119.75" stroke="#fff" stroke-width="3.1"/>
<line x1="561" y1="1045.6" x2="571" y2="1045.6" stroke="#fff" stroke-width="3.1"/>
<line x1="582.4" y1="1245.6" x2="582.4" y2="1236.1" stroke="#fff" stroke-width="3.1"/>
<text x="589.35" y="1253.6" font-size="19.4" text-anchor="end" fill="#000" transform="rotate(-90 589.35 1253.6)">300</text>
<line x1="624.75" y1="1245.6" x2="624.75" y2="1236.1" stroke="#fff" stroke-width="3.1"/>
<text x="631.7" y="1253.6" font-size="19.4" text-anchor="end" fill="#000" transform="rotate(-90 631.7 1253.6)">400</text>
<line x1="667.1" y1="1245.6" x2="667.1" y2="1236.1" stroke="#fff" stroke-width="3.1"/>
<text x="674.05" y="1253.6" font-size="19.4" text-anchor="end" fill="#000" transform="rotate(-90 674.05 1253.6)">500</text>
<line x1="709.45" y1="1245.6" x2="709.45" y2="1236.1" stroke="#fff" stroke-width="3.1"/>
<text x="716.4" y="1253.6" font-size="19.4" text-anchor="end" fill="#000" transform="rotate(-90 716.4 1253.6)">600</text>
<line x1="751.8" y1="1245.6" x2="751.8" y2="1236.1" stroke="#fff" stroke-width="3.1"/>
<text x="758.75" y="1253.6" font-size="19.4" text-anchor="end" fill="#000" transform="rotate(-90 758.75 1253.6)">700</text>
<line x1="794.15" y1="1245.6" x2="794.15" y2="1236.1" stroke="#fff" stroke-width="3.1"/>
<text x="801.1" y="1253.6" font-size="19.4" text-anchor="end" fill="#000" transform="rotate(-90 801.1 1253.6)">800</text>
<text x="569.5" y="1027.7" font-size="20.5" text-anchor="start" fill="#fff">150°C</text>
<g clip-path="url(#cle11)"><g filter="url(#cmap)"><g filter="url(#fre11)"><rect x="798.6" y="998.7" width="252.2" height="252.9" fill="url(#gxe11)"/><rect x="798.6" y="998.7" width="252.2" height="252.9" fill="url(#gye11)"/></g><rect x="798.6" y="998.7" width="252.2" height="252.9" fill="url(#eae11)"/><rect x="798.6" y="998.7" width="252.2" height="252.9" fill="url(#ebe11)"/><rect x="798.6" y="1241.8" width="252.2" height="9.8" fill="#000" opacity="0.25"/></g></g>
<line x1="804.6" y1="1193.9" x2="814.6" y2="1193.9" stroke="#fff" stroke-width="3.1"/>
<line x1="804.6" y1="1119.75" x2="814.6" y2="1119.75" stroke="#fff" stroke-width="3.1"/>
<line x1="804.6" y1="1045.6" x2="814.6" y2="1045.6" stroke="#fff" stroke-width="3.1"/>
<line x1="826" y1="1245.6" x2="826" y2="1236.1" stroke="#fff" stroke-width="3.1"/>
<text x="832.95" y="1253.6" font-size="19.4" text-anchor="end" fill="#000" transform="rotate(-90 832.95 1253.6)">300</text>
<line x1="868.35" y1="1245.6" x2="868.35" y2="1236.1" stroke="#fff" stroke-width="3.1"/>
<text x="875.3" y="1253.6" font-size="19.4" text-anchor="end" fill="#000" transform="rotate(-90 875.3 1253.6)">400</text>
<line x1="910.7" y1="1245.6" x2="910.7" y2="1236.1" stroke="#fff" stroke-width="3.1"/>
<text x="917.65" y="1253.6" font-size="19.4" text-anchor="end" fill="#000" transform="rotate(-90 917.65 1253.6)">500</text>
<line x1="953.05" y1="1245.6" x2="953.05" y2="1236.1" stroke="#fff" stroke-width="3.1"/>
<text x="960" y="1253.6" font-size="19.4" text-anchor="end" fill="#000" transform="rotate(-90 960 1253.6)">600</text>
<line x1="995.4" y1="1245.6" x2="995.4" y2="1236.1" stroke="#fff" stroke-width="3.1"/>
<text x="1002.35" y="1253.6" font-size="19.4" text-anchor="end" fill="#000" transform="rotate(-90 1002.35 1253.6)">700</text>
<line x1="1037.75" y1="1245.6" x2="1037.75" y2="1236.1" stroke="#fff" stroke-width="3.1"/>
<text x="1044.7" y="1253.6" font-size="19.4" text-anchor="end" fill="#000" transform="rotate(-90 1044.7 1253.6)">800</text>
<text x="813.1" y="1027.7" font-size="20.5" text-anchor="start" fill="#fff">160°C</text>
<text x="570.5" y="1323.3" font-size="20.5" text-anchor="middle" fill="#000">Wavelength (nm)</text>
<text x="16" y="882.5" font-size="20.8" text-anchor="middle" fill="#000" transform="rotate(-90 16 882.5)">Time (s)</text>
<rect x="1062.5" y="869.8" width="27" height="379.2" fill="url(#cb1061)" stroke="#000" stroke-width="2"/>
<line x1="1085.5" y1="871.5" x2="1094.5" y2="871.5" stroke="#000" stroke-width="2"/>
<text x="1102.5" y="878.77" font-size="20.3" text-anchor="start" fill="#000">100</text>
<line x1="1085.5" y1="1022" x2="1094.5" y2="1022" stroke="#000" stroke-width="2"/>
<text x="1102.5" y="1029.27" font-size="20.3" text-anchor="start" fill="#000">40</text>
<line x1="1085.5" y1="1172" x2="1094.5" y2="1172" stroke="#000" stroke-width="2"/>
<text x="1102.5" y="1179.27" font-size="20.3" text-anchor="start" fill="#000">20</text>
<text x="1151" y="1064.5" font-size="19.9" text-anchor="middle" fill="#000" transform="rotate(-90 1151 1064.5)">Reflected light Intensity (a. u.)</text>
<g fill="none" stroke-linejoin="round" stroke-linecap="butt" stroke-width="6.8">
<path d="M1291.3 1151.2C1293.9 1151.2 1305.8 1152.3 1310.6 1151.6C1315.4 1151 1322.8 1149.8 1327.1 1146.5C1331.3 1143.1 1337.6 1129.8 1342.4 1126.5C1347.1 1123.2 1358 1122.9 1362.4 1121.8C1366.7 1120.7 1372.8 1122.5 1375.3 1118.2C1377.8 1114 1379.8 1097.8 1381.2 1090C1382.6 1082.2 1384.3 1066.3 1385.9 1059.4C1387.5 1052.5 1390.7 1041.7 1392.9 1038.2C1395.1 1034.8 1398.3 1034.2 1402.4 1033.5C1406.4 1032.8 1419.9 1034 1423.5 1033.1C1427.1 1032.1 1428.3 1030.8 1429.4 1026.5C1430.5 1022.1 1430.8 1008.4 1431.8 1000.6C1432.7 992.7 1434.7 973.8 1436.5 967.6C1438.2 961.5 1442.7 956.7 1444.7 954.7C1446.7 952.8 1448.9 953.4 1451.8 953.1C1454.6 952.7 1463.2 953.2 1465.9 952.4C1468.5 951.5 1470.4 949.5 1471.8 946.5C1473.2 943.5 1475.4 936.1 1476.5 930C1477.6 923.9 1479.1 908.7 1480 900.4C1480.9 892 1482.4 874 1483.5 867.4C1484.6 860.8 1486.5 854.5 1488.2 850.9C1490 847.3 1494.1 842.1 1496.5 840.4C1498.8 838.6 1503.4 838.3 1505.9 838C1508.4 837.7 1513.3 839.4 1515.3 838C1517.3 836.6 1519.9 831.6 1521.2 827.4C1522.4 823.2 1523.8 813.8 1524.7 806.2C1525.6 798.7 1527 781.9 1528.2 770.9C1529.5 760 1532.4 735.5 1534.1 723.9C1535.8 712.3 1539.3 693 1541.2 683.9C1543.1 674.8 1546.5 660.8 1548.2 655.6C1550 650.5 1552.7 646.8 1554.1 645.1C1555.5 643.3 1557.4 642.7 1558.8 642.7C1560.2 642.7 1563 643.3 1564.7 645.1C1566.4 646.8 1569.6 651.7 1571.8 655.6C1574 659.6 1578.7 669.1 1581.2 674.5C1583.7 679.8 1587.8 689.4 1590.6 695.6C1593.4 701.9 1597.9 712.7 1602.4 721.5C1606.8 730.3 1619.1 752.8 1624.1 761.7C1629 770.5 1635.5 781.4 1639.7 788.1C1643.9 794.9 1651 806.1 1655.3 812.2C1659.7 818.3 1667.5 828.4 1672.2 833.8C1676.8 839.3 1685.4 848.3 1690.2 853.1C1695 857.9 1703 864.9 1708.3 869.9C1713.6 874.9 1724.9 886.1 1730 890.6C1735.1 895.1 1742.1 899.9 1746.5 903.3C1751 906.8 1758.7 912.9 1763.1 916.2C1767.5 919.6 1775.2 925.6 1779.6 928.6C1784 931.7 1791.7 936.5 1796.2 939.4C1800.6 942.3 1808.3 947.4 1812.7 950.1C1817.1 952.9 1824.8 957.5 1829.2 960.1C1833.6 962.6 1841.4 966.7 1845.8 969.2C1850.2 971.6 1857.9 975.8 1862.3 978.3C1866.7 980.7 1874.4 985.2 1878.9 987.4C1883.3 989.6 1891 992.8 1895.4 994.8C1899.8 996.8 1907.5 1000.3 1911.9 1002.2C1916.3 1004.2 1924.1 1007.8 1928.5 1009.7C1932.9 1011.6 1940.6 1014.5 1945 1016.3C1949.4 1018.1 1957.1 1021.3 1961.6 1022.9C1966 1024.6 1973.7 1027.2 1978.1 1028.7C1982.5 1030.3 1990.2 1033.1 1994.6 1034.5C1999 1035.9 2006.8 1038.2 2011.2 1039.5C2015.6 1040.7 2023.3 1042.6 2027.7 1043.6C2032.1 1044.6 2039.7 1046.1 2044.3 1046.9C2048.8 1047.7 2059.3 1049.1 2061.6 1049.4" stroke="#000000" stroke-width="7.4"/>
<path d="M1247.1 1217.5C1252.4 1217.2 1278.9 1215.6 1287.1 1214.7C1295.2 1213.9 1303.8 1213.1 1308.2 1211.2C1312.6 1209.3 1316.5 1204 1320 1200.6C1323.5 1197.1 1330.4 1190 1334.1 1185.3C1337.9 1180.6 1345.4 1168.9 1348.2 1165.3C1351.1 1161.7 1352.8 1159.3 1355.3 1158.2C1357.8 1157.1 1360.5 1157.2 1367.1 1157.1C1373.6 1156.9 1398.3 1158.5 1404.7 1157.1C1411.1 1155.6 1412.2 1149.1 1415.3 1146.5C1418.4 1143.8 1423.7 1139.1 1428.2 1137.1C1432.8 1135 1445.6 1133.4 1449.4 1131.2C1453.2 1129 1454.9 1125.5 1456.5 1120.6C1458 1115.7 1459.8 1100.7 1461.2 1094.7C1462.6 1088.7 1465.2 1079.5 1467.1 1075.9C1468.9 1072.3 1469.5 1068.7 1475.3 1067.6C1481.1 1066.5 1505.3 1068.7 1510.6 1067.6C1515.9 1066.5 1514.2 1064.3 1515.3 1059.4C1516.4 1054.5 1517.7 1037.6 1518.8 1031.2C1519.9 1024.7 1522 1014.7 1523.5 1011.2C1525.1 1007.7 1527.6 1005.4 1530.6 1004.8C1533.6 1004.3 1541 1006.4 1545.9 1007.2C1550.7 1007.9 1563.6 1011.3 1567.1 1010.5C1570.5 1009.6 1570.8 1006.6 1571.8 1000.6C1572.7 994.6 1573.2 973.8 1574.1 965.3C1575.1 956.8 1577.7 941.8 1578.8 937.1C1579.9 932.4 1581.1 931.9 1582.4 930C1583.6 928.1 1585.9 923.4 1588.2 922.7C1590.6 922 1597.6 925.8 1600 925.1C1602.4 924.3 1604.4 923.9 1605.9 916.8C1607.3 909.8 1609.8 881.5 1610.8 872.3C1611.8 863.2 1612.6 854.7 1613.2 848.3C1613.9 841.9 1615 830.6 1615.6 824.2C1616.3 817.8 1617.3 806.1 1618 800.2C1618.8 794.2 1620.1 784 1621.1 779.7C1622 775.4 1624 769.7 1625.3 767.7C1626.5 765.7 1629.2 764.6 1630.7 764.7C1632.1 764.7 1633.8 765.6 1636.1 768.3C1638.4 770.9 1644.1 779.1 1648.1 784.5C1652.1 789.9 1661.4 802.3 1666.2 808.6C1671 814.9 1679.4 825.8 1684.2 831.4C1689 837 1697.5 845.9 1702.3 850.7C1707.1 855.5 1715.5 863.5 1720.3 867.5C1725.1 871.5 1733.6 877.5 1738.4 881C1743.2 884.5 1748.7 887.1 1756.4 893.5C1764.1 899.9 1788.7 923 1796.2 929.1C1803.7 935.3 1808.3 936.8 1812.7 939.4C1817.1 942 1824.8 946.1 1829.2 948.5C1833.6 950.9 1841.4 955.3 1845.8 957.6C1850.2 959.9 1857.9 963.8 1862.3 965.9C1866.7 968 1874.4 971.4 1878.9 973.3C1883.3 975.2 1891 978.1 1895.4 979.9C1899.8 981.7 1907.5 984.8 1911.9 986.5C1916.3 988.3 1924.1 991.5 1928.5 993.1C1932.9 994.8 1940.6 997.4 1945 998.9C1949.4 1000.5 1957.1 1003.3 1961.6 1004.7C1966 1006.2 1973.7 1008.4 1978.1 1009.7C1982.5 1011 1990.2 1013.3 1994.6 1014.6C1999 1016 2006.8 1018.4 2011.2 1019.6C2015.6 1020.8 2023.3 1022.8 2027.7 1023.7C2032.1 1024.7 2039.7 1026.2 2044.3 1027.1C2048.8 1027.9 2059.3 1029.9 2061.6 1030.4" stroke="#7a0a9a"/>
<path d="M1247.1 1218.2C1252.4 1217.8 1278.6 1216.1 1287.1 1215.2C1295.5 1214.2 1305.9 1213.1 1310.6 1211.2C1315.3 1209.2 1318.6 1204.2 1322.4 1200.6C1326.1 1197 1334.7 1188.8 1338.8 1184.1C1342.9 1179.4 1349.5 1169.4 1352.9 1165.3C1356.4 1161.2 1361.6 1155.7 1364.7 1153.5C1367.8 1151.3 1370.5 1149.5 1376.5 1148.8C1382.4 1148.2 1403.8 1150.1 1409.4 1148.8C1415.1 1147.6 1416 1141.8 1418.8 1139.4C1421.6 1137.1 1426.2 1132.9 1430.6 1131.2C1435 1129.5 1447.8 1128.5 1451.8 1126.5C1455.7 1124.4 1458.3 1120.4 1460 1115.9C1461.7 1111.3 1463.5 1098 1464.7 1092.4C1466 1086.7 1467.7 1077.1 1469.4 1073.5C1471.1 1069.9 1475.3 1066.5 1477.6 1065.3C1480 1064 1482.7 1064.2 1487.1 1064.1C1491.5 1064 1506.7 1065.5 1510.6 1064.6C1514.5 1063.6 1515.2 1061.8 1516.5 1057.1C1517.7 1052.3 1518.9 1035.1 1520 1028.8C1521.1 1022.5 1523.1 1013.3 1524.7 1010C1526.3 1006.7 1528.9 1004.6 1531.8 1004.1C1534.6 1003.6 1541 1005.7 1545.9 1006.5C1550.7 1007.3 1564.6 1010.8 1568.2 1010C1571.8 1009.2 1572 1006.5 1572.9 1000.6C1573.9 994.6 1574.4 973.5 1575.3 965.3C1576.2 957.1 1578.6 943.6 1580 939.4C1581.4 935.2 1583.8 934.2 1585.9 933.5C1587.9 932.9 1592 934.1 1595.3 934.7C1598.6 935.3 1608.1 938.9 1610.6 938.2C1613.1 937.6 1613.3 935.1 1614.1 930C1615 924.9 1615.7 906.9 1616.8 900C1618 893.1 1621.7 884.4 1622.9 878.4C1624 872.3 1624.6 861.5 1625.3 854.3C1625.9 847.1 1626.9 831.4 1627.7 824.2C1628.4 817 1629.8 805.4 1630.7 800.2C1631.6 794.9 1633.1 787.3 1634.3 784.5C1635.5 781.7 1638.2 779.3 1639.7 779.1C1641.2 778.9 1644.6 782.3 1645.7 782.7C1646.8 783.2 1645.4 779.3 1648.1 782.5C1650.8 785.7 1661.4 800.3 1666.2 806.6C1671 812.9 1679.4 823.8 1684.2 829.4C1689 835 1697.5 843.9 1702.3 848.7C1707.1 853.5 1715.5 861.5 1720.3 865.5C1725.1 869.5 1733.6 875.5 1738.4 879C1743.2 882.5 1748.7 885.1 1756.4 891.5C1764.1 897.9 1788.7 920.6 1796.2 926.7C1803.7 932.8 1808.3 934.5 1812.7 937.1C1817.1 939.7 1824.8 943.7 1829.2 946.2C1833.6 948.6 1841.4 953 1845.8 955.3C1850.2 957.6 1857.9 961.4 1862.3 963.5C1866.7 965.6 1874.4 969.1 1878.9 971C1883.3 972.9 1891 975.8 1895.4 977.6C1899.8 979.4 1907.5 982.5 1911.9 984.2C1916.3 986 1924.1 989 1928.5 990.7C1932.9 992.3 1940.6 994.9 1945 996.5C1949.4 998 1957.1 1000.7 1961.6 1002.1C1966 1003.5 1973.7 1005.7 1978.1 1007C1982.5 1008.3 1990.2 1010.6 1994.6 1011.8C1999 1013.1 2006.8 1015.3 2011.2 1016.5C2015.6 1017.6 2023.3 1019.5 2027.7 1020.4C2032.1 1021.4 2039.7 1022.8 2044.3 1023.6C2048.8 1024.4 2059.3 1026.2 2061.6 1026.6" stroke="#4410f5"/>
<path d="M1247.1 1217.5C1255.5 1217.1 1296.8 1215.2 1310.6 1214.2C1324.4 1213.2 1343.4 1211.8 1350.6 1210C1357.8 1208.2 1360.9 1204 1364.7 1200.6C1368.5 1197.1 1375.4 1188.8 1378.8 1184.1C1382.3 1179.4 1387.5 1168.9 1390.6 1165.3C1393.7 1161.7 1398.9 1158.3 1402.4 1157.1C1405.8 1155.9 1411.5 1156.3 1416.5 1156.4C1421.5 1156.4 1435.6 1158.5 1440 1157.8C1444.4 1157.1 1446.9 1153.3 1449.4 1151.2C1451.9 1149 1455.4 1143.5 1458.8 1141.8C1462.3 1140 1470.6 1139.2 1475.3 1138.2C1480 1137.3 1490.7 1136.4 1494.1 1134.7C1497.6 1133 1499.8 1130 1501.2 1125.3C1502.6 1120.6 1503.5 1105.4 1504.7 1099.4C1506 1093.5 1508.9 1083.8 1510.6 1080.6C1512.3 1077.4 1512.9 1076 1517.6 1075.4C1522.4 1074.8 1541.2 1076.8 1545.9 1075.9C1550.6 1075 1551.5 1073.2 1552.9 1068.8C1554.4 1064.4 1555.4 1048.9 1556.5 1042.9C1557.6 1037 1559.6 1027.3 1561.2 1024.1C1562.7 1020.9 1565.6 1019.4 1568.2 1018.9C1570.9 1018.5 1576.3 1019.6 1581.2 1020.6C1586 1021.6 1600.8 1026.9 1604.7 1026.5C1608.6 1026 1609.3 1022.1 1610.6 1017.1C1611.8 1012 1613.2 996.4 1614.1 988.8C1615.1 981.3 1616.1 965.5 1617.6 960.6C1619.2 955.7 1622.9 953 1625.9 952.4C1628.9 951.7 1637.5 955.3 1640 955.9C1642.5 956.5 1643.5 958.3 1644.7 957.1C1646 955.8 1648.5 950.1 1649.4 946.5C1650.3 942.9 1650.9 936.2 1651.3 930C1651.7 923.8 1652 906.9 1652.3 900C1652.7 893.1 1653.7 884.4 1654.1 878.4C1654.6 872.3 1655.4 860.7 1655.9 854.3C1656.5 847.9 1657.6 835.5 1658.3 830.2C1659.1 824.9 1660.5 818 1661.4 814.6C1662.2 811.2 1663.9 806.7 1665 805C1666 803.2 1667.9 801 1669.2 801.4C1670.5 801.7 1672.6 804.6 1674.6 807.4C1676.6 810.1 1681.3 817.8 1684.2 821.8C1687.1 825.8 1693 833.6 1696.2 837.4C1699.5 841.3 1705.1 847.5 1708.3 850.7C1711.5 853.9 1717.1 858.8 1720.3 861.5C1723.5 864.2 1729.1 868.7 1732.3 871.1C1735.5 873.5 1741.2 877.3 1744.4 879.6C1747.6 881.8 1753.2 885.7 1756.4 888C1759.6 890.2 1763.1 891.6 1768.4 896.4C1773.7 901.2 1790.3 918.7 1796.2 923.7C1802.1 928.7 1808.3 931.6 1812.7 934.2C1817.1 936.8 1824.8 940.9 1829.2 943.3C1833.6 945.7 1841.4 950.1 1845.8 952.4C1850.2 954.7 1857.9 958.6 1862.3 960.6C1866.7 962.7 1874.4 966.2 1878.9 968.1C1883.3 970 1891 972.9 1895.4 974.7C1899.8 976.5 1907.5 979.6 1911.9 981.3C1916.3 983 1924.1 986 1928.5 987.6C1932.9 989.2 1940.6 991.9 1945 993.4C1949.4 994.8 1957.1 997.4 1961.6 998.8C1966 1000.2 1973.7 1002.5 1978.1 1003.7C1982.5 1005 1990.2 1007.1 1994.6 1008.3C1999 1009.5 2006.8 1011.5 2011.2 1012.5C2015.6 1013.6 2023.3 1015.4 2027.7 1016.3C2032.1 1017.2 2039.7 1018.5 2044.3 1019.2C2048.8 1020 2059.3 1021.5 2061.6 1021.8" stroke="#1a9cf5"/>
<path d="M1247.1 1217.1C1258.7 1216.6 1316.5 1214.5 1334.1 1213.5C1351.7 1212.6 1371 1211.7 1378.8 1210C1386.7 1208.3 1389.5 1204 1392.9 1200.6C1396.4 1197.1 1401.6 1189.1 1404.7 1184.1C1407.8 1179.1 1413.6 1166.7 1416.5 1162.9C1419.3 1159.2 1422.7 1157 1425.9 1155.9C1429 1154.8 1434.7 1154.9 1440 1154.7C1445.3 1154.5 1461.2 1155.5 1465.9 1154.7C1470.6 1153.9 1472.5 1150.5 1475.3 1148.8C1478.1 1147.1 1482.4 1143.3 1487.1 1141.8C1491.8 1140.2 1506.5 1138.9 1510.6 1137.1C1514.7 1135.2 1516.1 1132.4 1517.6 1127.6C1519.2 1122.9 1520.9 1107.3 1522.4 1101.8C1523.8 1096.3 1526.4 1089 1528.2 1086.5C1530.1 1084 1531.3 1083.3 1536.5 1082.9C1541.6 1082.6 1562.4 1085.1 1567.1 1084.1C1571.8 1083.2 1570.7 1080.1 1571.8 1075.9C1572.9 1071.6 1574 1056.4 1575.3 1052.4C1576.5 1048.3 1578.8 1046.1 1581.2 1045.3C1583.5 1044.5 1588.2 1045.7 1592.9 1046.5C1597.6 1047.3 1612.7 1051.6 1616.5 1051.2C1620.2 1050.7 1620.1 1047.5 1621.2 1042.9C1622.3 1038.4 1623.6 1023.3 1624.7 1017.1C1625.8 1010.8 1627.4 998.5 1629.4 995.9C1631.5 993.2 1635.1 996.1 1640 997.1C1644.9 998 1661.5 1003.1 1665.9 1002.9C1670.3 1002.8 1671.5 1000.9 1672.9 995.9C1674.4 990.9 1675.5 974.1 1676.5 965.3C1677.4 956.5 1679.1 938.7 1680 930C1680.9 921.3 1682.3 906.9 1683 900C1683.7 893.1 1684.8 883.6 1685.4 878.4C1686.1 873.1 1687 864.3 1687.8 860.3C1688.6 856.3 1690.3 850.5 1691.4 848.3C1692.6 846 1694.8 843.6 1696.2 843.5C1697.7 843.3 1699.9 845.1 1702.3 847.1C1704.7 849 1711.1 855.2 1714.3 857.9C1717.5 860.6 1723.1 865.1 1726.3 867.5C1729.5 869.9 1735.1 873.7 1738.4 875.9C1741.6 878.2 1747.2 882.3 1750.4 884.4C1753.6 886.5 1759.2 889.7 1762.4 891.6C1765.6 893.5 1769.9 895.1 1774.4 898.8C1778.9 902.5 1791.1 915.3 1796.2 919.5C1801.3 923.7 1808.3 927.5 1812.7 930.1C1817.1 932.8 1824.8 936.8 1829.2 939.2C1833.6 941.7 1841.4 946 1845.8 948.3C1850.2 950.6 1857.9 954.5 1862.3 956.6C1866.7 958.7 1874.4 962.2 1878.9 964C1883.3 965.9 1891 968.9 1895.4 970.7C1899.8 972.4 1907.5 975.6 1911.9 977.3C1916.3 978.9 1924.1 981.7 1928.5 983.2C1932.9 984.8 1940.6 987.6 1945 989C1949.4 990.5 1957.1 992.8 1961.6 994.1C1966 995.5 1973.7 997.9 1978.1 999.1C1982.5 1000.3 1990.2 1002.3 1994.6 1003.4C1999 1004.5 2006.8 1006.1 2011.2 1007C2015.6 1008 2023.3 1009.7 2027.7 1010.5C2032.1 1011.3 2039.7 1012.5 2044.3 1013.2C2048.8 1013.8 2059.3 1014.9 2061.6 1015.1" stroke="#12f07a"/>
<path d="M1247.1 1217.5C1261.8 1217 1332.9 1214.5 1357.6 1213.5C1382.4 1212.5 1421 1211.7 1432.9 1210C1444.9 1208.3 1443.3 1204.7 1447.1 1200.6C1450.8 1196.5 1457.7 1185.1 1461.2 1179.4C1464.6 1173.8 1469.8 1161.5 1472.9 1158.2C1476.1 1154.9 1478.4 1154.9 1484.7 1154.7C1491 1154.5 1514 1157.8 1520 1157.1C1526 1156.3 1526.6 1150.7 1529.4 1148.8C1532.2 1146.9 1536.5 1144.4 1541.2 1142.9C1545.9 1141.5 1560.5 1140 1564.7 1138.2C1568.9 1136.5 1571.4 1133.9 1572.9 1130C1574.5 1126.1 1575.1 1113.7 1576.5 1108.8C1577.9 1104 1581.3 1095.7 1583.5 1093.5C1585.7 1091.3 1587.9 1092.4 1592.9 1092.4C1598 1092.4 1616.6 1094.5 1621.2 1093.5C1625.7 1092.6 1625.8 1088.9 1627.1 1085.3C1628.3 1081.7 1629.2 1069.6 1630.6 1066.5C1632 1063.3 1634.8 1062.1 1637.6 1061.8C1640.5 1061.5 1647.1 1063.2 1651.8 1064.1C1656.5 1065.1 1669.5 1069.5 1672.9 1068.8C1676.4 1068.2 1676.7 1064.4 1677.6 1059.4C1678.6 1054.4 1679.1 1037 1680 1031.2C1680.9 1025.4 1682.2 1017.8 1684.7 1015.9C1687.2 1014 1694.7 1016.6 1698.8 1017.1C1702.9 1017.5 1712.5 1020.4 1715.3 1019.4C1718.1 1018.5 1719.1 1017.2 1720 1010C1720.9 1002.8 1721.7 976 1722.4 965.3C1723 954.6 1724.2 940.8 1724.7 930C1725.2 919.2 1725.6 892.7 1726.3 884.4C1727 876 1728.6 871 1729.9 867.5C1731.2 864.1 1733.7 858.2 1735.9 858.5C1738.2 858.8 1742.9 865.8 1746.5 869.9C1750.2 874.1 1758.7 885.1 1763.1 889.8C1767.5 894.4 1775.2 901 1779.6 904.7C1784 908.3 1791.7 914 1796.2 917.1C1800.6 920.1 1808.3 925.2 1812.7 927.8C1817.1 930.5 1824.8 934.5 1829.2 936.9C1833.6 939.3 1841.4 943.7 1845.8 946C1850.2 948.3 1857.9 952.2 1862.3 954.3C1866.7 956.4 1874.4 959.8 1878.9 961.7C1883.3 963.6 1891 966.6 1895.4 968.3C1899.8 970.1 1907.5 973.3 1911.9 975C1916.3 976.6 1924.1 979.2 1928.5 980.7C1932.9 982.3 1940.6 985.1 1945 986.5C1949.4 988 1957.1 990.2 1961.6 991.5C1966 992.8 1973.7 995.2 1978.1 996.5C1982.5 997.7 1990.2 999.6 1994.6 1000.6C1999 1001.6 2006.8 1003 2011.2 1003.9C2015.6 1004.8 2023.3 1006.4 2027.7 1007.2C2032.1 1008 2039.7 1009.1 2044.3 1009.7C2048.8 1010.2 2059.3 1011.1 2061.6 1011.3" stroke="#7cfc10"/>
<path d="M1247.1 1218.2C1268.1 1217.8 1371.1 1215.8 1404.7 1214.7C1438.3 1213.6 1483.8 1211.3 1498.8 1210C1513.9 1208.7 1513.6 1208.1 1517.6 1205.3C1521.7 1202.5 1526 1192.6 1529.4 1188.8C1532.9 1185.1 1538.2 1180.2 1543.5 1177.1C1548.9 1173.9 1562.8 1168.1 1569.4 1165.3C1576 1162.5 1587.3 1158.1 1592.9 1155.9C1598.6 1153.7 1607.4 1151.3 1611.8 1148.8C1616.2 1146.3 1623.1 1140.2 1625.9 1137.1C1628.7 1133.9 1631.1 1127.6 1632.9 1125.3C1634.8 1123 1637.9 1121 1640 1119.8C1642.1 1118.7 1646.8 1118 1649 1116.8C1651.2 1115.6 1655 1113.8 1656.6 1110.8C1658.2 1107.8 1659.7 1097.6 1661.1 1094.2C1662.5 1090.8 1664.9 1086.8 1667.1 1085.2C1669.3 1083.6 1675 1083 1677.7 1082.2C1680.3 1081.4 1684.9 1081 1686.7 1079.2C1688.5 1077.3 1690.2 1071.2 1691.2 1068.6C1692.2 1066 1693 1061.1 1694.2 1059.6C1695.4 1058.1 1698 1057.7 1700.2 1057.3C1702.4 1056.9 1708.2 1057.1 1710.8 1056.6C1713.4 1056.1 1718.1 1055.8 1719.8 1053.6C1721.5 1051.3 1719.2 1044.6 1723.6 1040C1727.9 1035.4 1748.2 1024.3 1752.3 1018.8C1756.5 1013.3 1753.8 1001.9 1754.8 998.9C1755.8 996 1757.8 996.9 1759.8 996.5C1761.8 996 1767.8 997.1 1769.7 995.6C1771.6 994.2 1772.9 989.7 1773.8 985.7C1774.7 981.7 1775.7 969.8 1776.3 965.9C1777 961.9 1778 957.5 1778.8 955.9C1779.6 954.4 1779.8 953.5 1782.1 954.3C1784.4 955 1792.1 959.6 1796.2 961.7C1800.2 963.8 1808.3 967.9 1812.7 970C1817.1 972.1 1824.8 975.6 1829.2 977.4C1833.6 979.3 1841.4 982.3 1845.8 984C1850.2 985.8 1857.9 988.9 1862.3 990.7C1866.7 992.4 1874.4 995.6 1878.9 997.3C1883.3 998.9 1891 1001.5 1895.4 1003.1C1899.8 1004.6 1907.5 1007.3 1911.9 1008.9C1916.3 1010.4 1924.3 1013.2 1928.5 1014.6C1932.7 1016.1 1936.7 1017.5 1943.4 1019.6C1950 1021.7 1968 1027.2 1978.1 1030.4C1988.2 1033.6 2008.3 1040.2 2019.4 1043.6C2030.6 1047 2056 1054.3 2061.6 1056" stroke="#c8c814"/>
<path d="M1247.1 1219.4C1271.2 1219 1391.5 1217.7 1428.2 1216.6C1464.9 1215.5 1505.7 1213 1522.4 1211.2C1539 1209.4 1546 1205.2 1552.9 1202.9C1559.8 1200.7 1568.8 1197.5 1574.1 1194C1579.5 1190.5 1587.3 1180.9 1592.9 1177.1C1598.6 1173.2 1610.5 1167.9 1616.5 1165.3C1622.4 1162.7 1634.5 1158.4 1637.6 1157.8C1640.8 1157.1 1637.7 1161.2 1640 1160.5C1642.3 1159.7 1652 1154.4 1655.1 1152.2C1658.1 1150 1660.6 1145.5 1662.6 1143.9C1664.6 1142.3 1667.1 1142 1670.1 1140.2C1673.1 1138.3 1681.6 1133.5 1685.2 1130.4C1688.8 1127.2 1694.6 1119.6 1697.2 1116.8C1699.8 1114 1702.3 1111.3 1704.8 1109.3C1707.2 1107.3 1712.7 1104.4 1715.3 1101.7C1717.9 1099.1 1722.1 1092.5 1724.3 1089.7C1726.5 1086.9 1729.1 1082.5 1731.9 1080.7C1734.7 1078.9 1742.6 1078.4 1745.4 1076.1C1748.2 1073.9 1751.1 1067.3 1753 1064.1C1754.8 1060.9 1756.8 1054.5 1759 1052C1761.2 1049.6 1767.3 1047.6 1769.5 1046C1771.7 1044.4 1774.6 1041 1775.5 1040C1776.4 1039 1775.8 1040.6 1776.3 1038.6C1776.9 1036.7 1778.3 1028 1779.6 1025.4C1780.9 1022.8 1784.3 1019.9 1786.2 1018.8C1788.2 1017.7 1792.7 1018.5 1794.5 1017.1C1796.3 1015.8 1798.4 1010.8 1799.5 1008.9C1800.6 1006.9 1801.5 1003.2 1802.8 1002.2C1804.1 1001.3 1805.9 1000.9 1809.4 1001.4C1812.9 1002 1822.2 1004.3 1829.2 1006.4C1836.3 1008.5 1853.5 1014.4 1862.3 1017.1C1871.1 1019.9 1886.6 1024.3 1895.4 1027.1C1904.2 1029.8 1919.7 1035 1928.5 1037.8C1937.3 1040.6 1952.7 1045.1 1961.6 1047.7C1970.4 1050.4 1985.8 1055 1994.6 1057.7C2003.5 1060.3 2018.8 1065 2027.7 1067.6C2036.6 1070.1 2057.1 1075.5 2061.6 1076.7" stroke="#f59a14"/>
<path d="M1247.1 1218.9C1271.2 1218.5 1391.5 1217.1 1428.2 1215.9C1464.9 1214.7 1506.7 1211.6 1522.4 1210C1538 1208.4 1540.2 1206 1545.9 1204.1C1551.5 1202.2 1560 1198.9 1564.7 1195.9C1569.4 1192.9 1575.8 1185.5 1581.2 1181.8C1586.5 1178 1598.4 1170.6 1604.7 1167.6C1611 1164.7 1623.5 1160.6 1628.2 1159.4C1632.9 1158.3 1636.4 1160 1640 1159C1643.6 1157.9 1651 1153.9 1655.1 1151.4C1659.1 1149 1666.1 1143.7 1670.1 1140.9C1674.1 1138.1 1681.2 1133.6 1685.2 1130.4C1689.2 1127.1 1696.2 1120.6 1700.2 1116.8C1704.3 1113 1711.3 1105.6 1715.3 1101.7C1719.3 1097.9 1726.3 1091.6 1730.4 1088.2C1734.4 1084.8 1741.4 1079.6 1745.4 1076.1C1749.4 1072.7 1757.1 1066 1760.5 1062.6C1763.9 1059.2 1768.4 1053.6 1771 1050.5C1773.6 1047.5 1778.3 1042.9 1780.1 1040C1781.9 1037.1 1782.9 1032.4 1784.6 1028.7C1786.3 1025 1791.1 1015.9 1792.9 1012.2C1794.6 1008.4 1796.5 1002.7 1797.8 1000.6C1799.1 998.5 1801.2 997.1 1802.8 996.5C1804.3 995.8 1805.9 995.3 1809.4 995.6C1812.9 996 1822.2 997.2 1829.2 998.9C1836.3 1000.7 1853.5 1006.2 1862.3 1008.9C1871.1 1011.5 1886.6 1016.2 1895.4 1018.8C1904.2 1021.3 1919.7 1025.3 1928.5 1027.9C1937.3 1030.4 1952.7 1035.3 1961.6 1037.8C1970.4 1040.3 1985.8 1044.5 1994.6 1046.9C2003.5 1049.3 2018.8 1053.7 2027.7 1056C2036.6 1058.3 2057.1 1063.2 2061.6 1064.3" stroke="#ff4ad2"/>
<path d="M1247.1 1220.6C1249.9 1220.6 1244.1 1221.2 1268.2 1220.6C1292.4 1220 1394.4 1217.3 1428.2 1215.9C1462.1 1214.5 1500.4 1212 1522.4 1210C1544.3 1208 1580.4 1203.1 1592.9 1200.6C1605.5 1198.1 1610.2 1194.5 1616.5 1191.2C1622.7 1187.8 1634.9 1178.6 1640 1175.5C1645.1 1172.5 1651 1169.7 1655.1 1168C1659.1 1166.3 1666.1 1163.8 1670.1 1162.7C1674.1 1161.6 1681.2 1160.6 1685.2 1159.7C1689.2 1158.8 1696.2 1157.5 1700.2 1156C1704.3 1154.5 1711.3 1150.8 1715.3 1148.4C1719.3 1146 1726.3 1140.5 1730.4 1137.9C1734.4 1135.3 1741.4 1131.9 1745.4 1128.9C1749.4 1125.8 1756.5 1119.3 1760.5 1115.3C1764.5 1111.3 1771.5 1103.4 1775.5 1098.7C1779.6 1094.1 1787.6 1084.1 1790.6 1080.7C1793.6 1077.2 1796.1 1074.9 1798.1 1073.1C1800.1 1071.3 1803.7 1069.7 1805.7 1067.1C1807.7 1064.5 1811.2 1056.4 1813.2 1053.6C1815.2 1050.7 1818.7 1047.8 1820.7 1046C1822.7 1044.2 1827.1 1041 1828.3 1040C1829.4 1039 1828.8 1040.6 1829.2 1038.6C1829.7 1036.7 1831.1 1029.4 1831.7 1025.4C1832.4 1021.4 1833.4 1011.9 1834.2 1008.9C1835 1005.8 1836.2 1003.5 1837.5 1002.2C1838.8 1001 1840.8 999.7 1844.1 999.8C1847.4 999.9 1855.5 1001.4 1862.3 1003.1C1869.2 1004.7 1886.6 1009.7 1895.4 1012.2C1904.2 1014.6 1919.7 1018.8 1928.5 1021.3C1937.3 1023.7 1952.7 1027.9 1961.6 1030.4C1970.4 1032.8 1985.8 1037.1 1994.6 1039.5C2003.5 1041.8 2018.8 1045.6 2027.7 1047.7C2036.6 1049.8 2057.1 1054.2 2061.6 1055.2" stroke="#f00c0c"/>
<path d="M1247.1 1221.8C1249.9 1221.8 1244.1 1222.1 1268.2 1221.8C1292.4 1221.5 1394.4 1220.2 1428.2 1219.4C1462.1 1218.6 1500.4 1217 1522.4 1215.9C1544.3 1214.8 1577.3 1212.8 1592.9 1211.2C1608.6 1209.5 1631.7 1205.1 1640 1203.4C1648.3 1201.7 1651 1199.7 1655.1 1198.1C1659.1 1196.5 1666.1 1193.6 1670.1 1191.4C1674.1 1189.1 1681.2 1184.1 1685.2 1181.6C1689.2 1179.1 1696.2 1174.5 1700.2 1172.5C1704.3 1170.5 1711.3 1167.8 1715.3 1166.5C1719.3 1165.2 1726.3 1163.7 1730.4 1162.7C1734.4 1161.7 1741.4 1160.5 1745.4 1159C1749.4 1157.5 1756.5 1153.9 1760.5 1151.4C1764.5 1149 1771.5 1144.1 1775.5 1140.9C1779.6 1137.7 1786.6 1131.4 1790.6 1127.3C1794.6 1123.3 1801.6 1115.6 1805.7 1110.8C1809.7 1106 1817.5 1095.6 1820.7 1091.2C1823.9 1086.8 1827.3 1081.1 1829.8 1077.7C1832.2 1074.2 1836.4 1069.2 1838.8 1065.6C1841.2 1062 1845.8 1054 1847.8 1050.5C1849.8 1047.1 1853 1042.2 1853.9 1040C1854.7 1037.8 1853.6 1036.5 1854 1033.7C1854.5 1030.8 1856.5 1021.9 1857.4 1018.8C1858.2 1015.7 1859.3 1012.1 1860.7 1010.5C1862 1009 1864.9 1007.5 1867.3 1007.2C1869.7 1006.9 1875.1 1007.3 1878.9 1008C1882.6 1008.8 1888.8 1011.1 1895.4 1013C1902 1014.9 1919.7 1019.7 1928.5 1022.1C1937.3 1024.5 1952.7 1028.8 1961.6 1031.2C1970.4 1033.6 1985.8 1037.9 1994.6 1040.3C2003.5 1042.7 2018.8 1047.2 2027.7 1049.4C2036.6 1051.6 2057.1 1055.8 2061.6 1056.8" stroke="#960606"/>
<path d="M1267.1 1213.5C1294.8 1212.4 1428.7 1207.2 1475.3 1205.3C1521.9 1203.4 1594.5 1200.4 1616.5 1199.4C1638.4 1198.5 1632.8 1198.6 1640 1198.1C1647.2 1197.7 1662.1 1196.6 1670.1 1195.9C1678.2 1195.2 1692.2 1193.7 1700.2 1192.9C1708.3 1192.1 1722.3 1190.8 1730.4 1189.8C1738.4 1188.9 1752.4 1187.3 1760.5 1186.1C1768.5 1184.9 1783.6 1182.2 1790.6 1180.8C1797.6 1179.4 1807.2 1177.2 1813.2 1175.5C1819.2 1173.8 1830.8 1169.9 1835.8 1168C1840.8 1166.1 1846.8 1163.4 1850.8 1161.2C1854.9 1159 1861.9 1154.6 1865.9 1151.4C1869.9 1148.3 1876.9 1141.9 1881 1137.9C1885 1133.9 1892.4 1125.5 1896 1121.3C1899.6 1117.1 1905.5 1110.3 1908.1 1106.3C1910.7 1102.2 1913.8 1095.6 1915.6 1091.2C1917.4 1086.8 1920.2 1077.6 1921.6 1073.1C1923 1068.7 1925 1061.9 1926.1 1058.1C1927.2 1054.3 1929.4 1046.7 1929.9 1044.5C1930.4 1042.4 1929.4 1044 1930.1 1041.9C1930.8 1039.8 1933.8 1031.2 1935.1 1028.7C1936.4 1026.2 1938.3 1024 1940.1 1022.9C1941.8 1021.8 1945.5 1020.7 1948.3 1020.4C1951.2 1020.2 1957.6 1020.8 1961.6 1021.3C1965.5 1021.7 1973.7 1023 1978.1 1023.7C1982.5 1024.5 1990.2 1026.2 1994.6 1027.1C1999 1027.9 2006.8 1029.6 2011.2 1030.4C2015.6 1031.1 2023.3 1032.2 2027.7 1032.8C2032.1 1033.5 2039.7 1034.8 2044.3 1035.3C2048.8 1035.9 2059.3 1036.8 2061.6 1037" stroke="#808080"/>
</g>
<rect x="1240.5" y="526.2" width="881.3" height="701.8" fill="none" stroke="#000" stroke-width="4.2"/>
<line x1="1240.5" y1="1217.6" x2="1259.5" y2="1217.6" stroke="#000" stroke-width="4.2"/>
<line x1="2121.8" y1="1217.6" x2="2102.8" y2="1217.6" stroke="#000" stroke-width="4.2"/>
<text x="1229.5" y="1226.87" font-size="27.3" text-anchor="end" fill="#000">1.0</text>
<line x1="1240.5" y1="1063.9" x2="1259.5" y2="1063.9" stroke="#000" stroke-width="4.2"/>
<line x1="2121.8" y1="1063.9" x2="2102.8" y2="1063.9" stroke="#000" stroke-width="4.2"/>
<text x="1229.5" y="1073.17" font-size="27.3" text-anchor="end" fill="#000">1.2</text>
<line x1="1240.5" y1="910.2" x2="1259.5" y2="910.2" stroke="#000" stroke-width="4.2"/>
<line x1="2121.8" y1="910.2" x2="2102.8" y2="910.2" stroke="#000" stroke-width="4.2"/>
<text x="1229.5" y="919.47" font-size="27.3" text-anchor="end" fill="#000">1.4</text>
<line x1="1240.5" y1="756.5" x2="1259.5" y2="756.5" stroke="#000" stroke-width="4.2"/>
<line x1="2121.8" y1="756.5" x2="2102.8" y2="756.5" stroke="#000" stroke-width="4.2"/>
<text x="1229.5" y="765.77" font-size="27.3" text-anchor="end" fill="#000">1.6</text>
<line x1="1240.5" y1="602.8" x2="1259.5" y2="602.8" stroke="#000" stroke-width="4.2"/>
<line x1="2121.8" y1="602.8" x2="2102.8" y2="602.8" stroke="#000" stroke-width="4.2"/>
<text x="1229.5" y="612.07" font-size="27.3" text-anchor="end" fill="#000">1.8</text>
<line x1="1246.39" y1="526.2" x2="1246.39" y2="538.7" stroke="#000" stroke-width="3.6"/>
<line x1="1246.39" y1="1228" x2="1246.39" y2="1215.5" stroke="#000" stroke-width="3.6"/>
<line x1="1290.43" y1="526.2" x2="1290.43" y2="538.7" stroke="#000" stroke-width="3.6"/>
<line x1="1290.43" y1="1228" x2="1290.43" y2="1215.5" stroke="#000" stroke-width="3.6"/>
<line x1="1321.68" y1="526.2" x2="1321.68" y2="538.7" stroke="#000" stroke-width="3.6"/>
<line x1="1321.68" y1="1228" x2="1321.68" y2="1215.5" stroke="#000" stroke-width="3.6"/>
<line x1="1345.91" y1="526.2" x2="1345.91" y2="538.7" stroke="#000" stroke-width="3.6"/>
<line x1="1345.91" y1="1228" x2="1345.91" y2="1215.5" stroke="#000" stroke-width="3.6"/>
<line x1="1365.72" y1="526.2" x2="1365.72" y2="538.7" stroke="#000" stroke-width="3.6"/>
<line x1="1365.72" y1="1228" x2="1365.72" y2="1215.5" stroke="#000" stroke-width="3.6"/>
<line x1="1382.46" y1="526.2" x2="1382.46" y2="538.7" stroke="#000" stroke-width="3.6"/>
<line x1="1382.46" y1="1228" x2="1382.46" y2="1215.5" stroke="#000" stroke-width="3.6"/>
<line x1="1396.96" y1="526.2" x2="1396.96" y2="538.7" stroke="#000" stroke-width="3.6"/>
<line x1="1396.96" y1="1228" x2="1396.96" y2="1215.5" stroke="#000" stroke-width="3.6"/>
<line x1="1409.76" y1="526.2" x2="1409.76" y2="538.7" stroke="#000" stroke-width="3.6"/>
<line x1="1409.76" y1="1228" x2="1409.76" y2="1215.5" stroke="#000" stroke-width="3.6"/>
<line x1="1421.2" y1="526.2" x2="1421.2" y2="549.7" stroke="#000" stroke-width="3.6"/>
<line x1="1421.2" y1="1228" x2="1421.2" y2="1204.5" stroke="#000" stroke-width="3.6"/>
<text x="1421.2" y="1257.2" font-size="27.3" text-anchor="middle" fill="#000">10</text>
<line x1="1496.49" y1="526.2" x2="1496.49" y2="538.7" stroke="#000" stroke-width="3.6"/>
<line x1="1496.49" y1="1228" x2="1496.49" y2="1215.5" stroke="#000" stroke-width="3.6"/>
<line x1="1540.53" y1="526.2" x2="1540.53" y2="538.7" stroke="#000" stroke-width="3.6"/>
<line x1="1540.53" y1="1228" x2="1540.53" y2="1215.5" stroke="#000" stroke-width="3.6"/>
<line x1="1571.78" y1="526.2" x2="1571.78" y2="538.7" stroke="#000" stroke-width="3.6"/>
<line x1="1571.78" y1="1228" x2="1571.78" y2="1215.5" stroke="#000" stroke-width="3.6"/>
<line x1="1596.01" y1="526.2" x2="1596.01" y2="538.7" stroke="#000" stroke-width="3.6"/>
<line x1="1596.01" y1="1228" x2="1596.01" y2="1215.5" stroke="#000" stroke-width="3.6"/>
<line x1="1615.82" y1="526.2" x2="1615.82" y2="538.7" stroke="#000" stroke-width="3.6"/>
<line x1="1615.82" y1="1228" x2="1615.82" y2="1215.5" stroke="#000" stroke-width="3.6"/>
<line x1="1632.56" y1="526.2" x2="1632.56" y2="538.7" stroke="#000" stroke-width="3.6"/>
<line x1="1632.56" y1="1228" x2="1632.56" y2="1215.5" stroke="#000" stroke-width="3.6"/>
<line x1="1647.06" y1="526.2" x2="1647.06" y2="538.7" stroke="#000" stroke-width="3.6"/>
<line x1="1647.06" y1="1228" x2="1647.06" y2="1215.5" stroke="#000" stroke-width="3.6"/>
<line x1="1659.86" y1="526.2" x2="1659.86" y2="538.7" stroke="#000" stroke-width="3.6"/>
<line x1="1659.86" y1="1228" x2="1659.86" y2="1215.5" stroke="#000" stroke-width="3.6"/>
<line x1="1671.3" y1="526.2" x2="1671.3" y2="549.7" stroke="#000" stroke-width="3.6"/>
<line x1="1671.3" y1="1228" x2="1671.3" y2="1204.5" stroke="#000" stroke-width="3.6"/>
<text x="1671.3" y="1257.2" font-size="27.3" text-anchor="middle" fill="#000">100</text>
<line x1="1746.59" y1="526.2" x2="1746.59" y2="538.7" stroke="#000" stroke-width="3.6"/>
<line x1="1746.59" y1="1228" x2="1746.59" y2="1215.5" stroke="#000" stroke-width="3.6"/>
<line x1="1790.63" y1="526.2" x2="1790.63" y2="538.7" stroke="#000" stroke-width="3.6"/>
<line x1="1790.63" y1="1228" x2="1790.63" y2="1215.5" stroke="#000" stroke-width="3.6"/>
<line x1="1821.88" y1="526.2" x2="1821.88" y2="538.7" stroke="#000" stroke-width="3.6"/>
<line x1="1821.88" y1="1228" x2="1821.88" y2="1215.5" stroke="#000" stroke-width="3.6"/>
<line x1="1846.11" y1="526.2" x2="1846.11" y2="538.7" stroke="#000" stroke-width="3.6"/>
<line x1="1846.11" y1="1228" x2="1846.11" y2="1215.5" stroke="#000" stroke-width="3.6"/>
<line x1="1865.92" y1="526.2" x2="1865.92" y2="538.7" stroke="#000" stroke-width="3.6"/>
<line x1="1865.92" y1="1228" x2="1865.92" y2="1215.5" stroke="#000" stroke-width="3.6"/>
<line x1="1882.66" y1="526.2" x2="1882.66" y2="538.7" stroke="#000" stroke-width="3.6"/>
<line x1="1882.66" y1="1228" x2="1882.66" y2="1215.5" stroke="#000" stroke-width="3.6"/>
<line x1="1897.16" y1="526.2" x2="1897.16" y2="538.7" stroke="#000" stroke-width="3.6"/>
<line x1="1897.16" y1="1228" x2="1897.16" y2="1215.5" stroke="#000" stroke-width="3.6"/>
<line x1="1909.96" y1="526.2" x2="1909.96" y2="538.7" stroke="#000" stroke-width="3.6"/>
<line x1="1909.96" y1="1228" x2="1909.96" y2="1215.5" stroke="#000" stroke-width="3.6"/>
<line x1="1921.4" y1="526.2" x2="1921.4" y2="549.7" stroke="#000" stroke-width="3.6"/>
<line x1="1921.4" y1="1228" x2="1921.4" y2="1204.5" stroke="#000" stroke-width="3.6"/>
<text x="1921.4" y="1257.2" font-size="27.3" text-anchor="middle" fill="#000">1000</text>
<line x1="1996.69" y1="526.2" x2="1996.69" y2="538.7" stroke="#000" stroke-width="3.6"/>
<line x1="1996.69" y1="1228" x2="1996.69" y2="1215.5" stroke="#000" stroke-width="3.6"/>
<line x1="2040.73" y1="526.2" x2="2040.73" y2="538.7" stroke="#000" stroke-width="3.6"/>
<line x1="2040.73" y1="1228" x2="2040.73" y2="1215.5" stroke="#000" stroke-width="3.6"/>
<line x1="2071.98" y1="526.2" x2="2071.98" y2="538.7" stroke="#000" stroke-width="3.6"/>
<line x1="2071.98" y1="1228" x2="2071.98" y2="1215.5" stroke="#000" stroke-width="3.6"/>
<line x1="2096.21" y1="526.2" x2="2096.21" y2="538.7" stroke="#000" stroke-width="3.6"/>
<line x1="2096.21" y1="1228" x2="2096.21" y2="1215.5" stroke="#000" stroke-width="3.6"/>
<line x1="2116.02" y1="526.2" x2="2116.02" y2="538.7" stroke="#000" stroke-width="3.6"/>
<line x1="2116.02" y1="1228" x2="2116.02" y2="1215.5" stroke="#000" stroke-width="3.6"/>
<text x="1691" y="1298.6" font-size="29" text-anchor="middle" fill="#000">Time (s)</text>
<text x="1187" y="815" font-size="28" text-anchor="middle" fill="#000" transform="rotate(-90 1187 815)">Expansion Ratio</text>
<line x1="1310.6" y1="595.9" x2="1366" y2="595.9" stroke="#000" stroke-width="7"/>
<text x="1378" y="603.2" font-size="27" text-anchor="start" fill="#000">without thermal de-stressing</text>
<text x="1788" y="594.5" font-size="27" text-anchor="start" fill="#000">de-stressed at (°C)</text>
<line x1="1810.6" y1="626.2" x2="1867.1" y2="626.2" stroke="#7a0a9a" stroke-width="5.6"/>
<text x="1877.6" y="635.8" font-size="27" text-anchor="start" fill="#000">60</text>
<line x1="1810.6" y1="666.2" x2="1867.1" y2="666.2" stroke="#4410f5" stroke-width="5.6"/>
<text x="1877.6" y="675.8" font-size="27" text-anchor="start" fill="#000">70</text>
<line x1="1810.6" y1="706.2" x2="1867.1" y2="706.2" stroke="#1a9cf5" stroke-width="5.6"/>
<text x="1877.6" y="715.8" font-size="27" text-anchor="start" fill="#000">80</text>
<line x1="1810.6" y1="746.2" x2="1867.1" y2="746.2" stroke="#12f07a" stroke-width="5.6"/>
<text x="1877.6" y="755.8" font-size="27" text-anchor="start" fill="#000">90</text>
<line x1="1810.6" y1="786.2" x2="1867.1" y2="786.2" stroke="#7cfc10" stroke-width="5.6"/>
<text x="1877.6" y="795.8" font-size="27" text-anchor="start" fill="#000">100</text>
<line x1="1810.6" y1="826.2" x2="1867.1" y2="826.2" stroke="#c8c814" stroke-width="5.6"/>
<text x="1877.6" y="835.8" font-size="27" text-anchor="start" fill="#000">110</text>
<line x1="1950.3" y1="626.2" x2="2006.3" y2="626.2" stroke="#f59a14" stroke-width="5.6"/>
<text x="2016" y="635.8" font-size="27" text-anchor="start" fill="#000">120</text>
<line x1="1950.3" y1="666.2" x2="2006.3" y2="666.2" stroke="#ff4ad2" stroke-width="5.6"/>
<text x="2016" y="675.8" font-size="27" text-anchor="start" fill="#000">130</text>
<line x1="1950.3" y1="706.2" x2="2006.3" y2="706.2" stroke="#f00c0c" stroke-width="5.6"/>
<text x="2016" y="715.8" font-size="27" text-anchor="start" fill="#000">140</text>
<line x1="1950.3" y1="746.2" x2="2006.3" y2="746.2" stroke="#960606" stroke-width="5.6"/>
<text x="2016" y="755.8" font-size="27" text-anchor="start" fill="#000">150</text>
<line x1="1950.3" y1="786.2" x2="2006.3" y2="786.2" stroke="#808080" stroke-width="5.6"/>
<text x="2016" y="795.8" font-size="27" text-anchor="start" fill="#000">160</text></svg></body></html>
